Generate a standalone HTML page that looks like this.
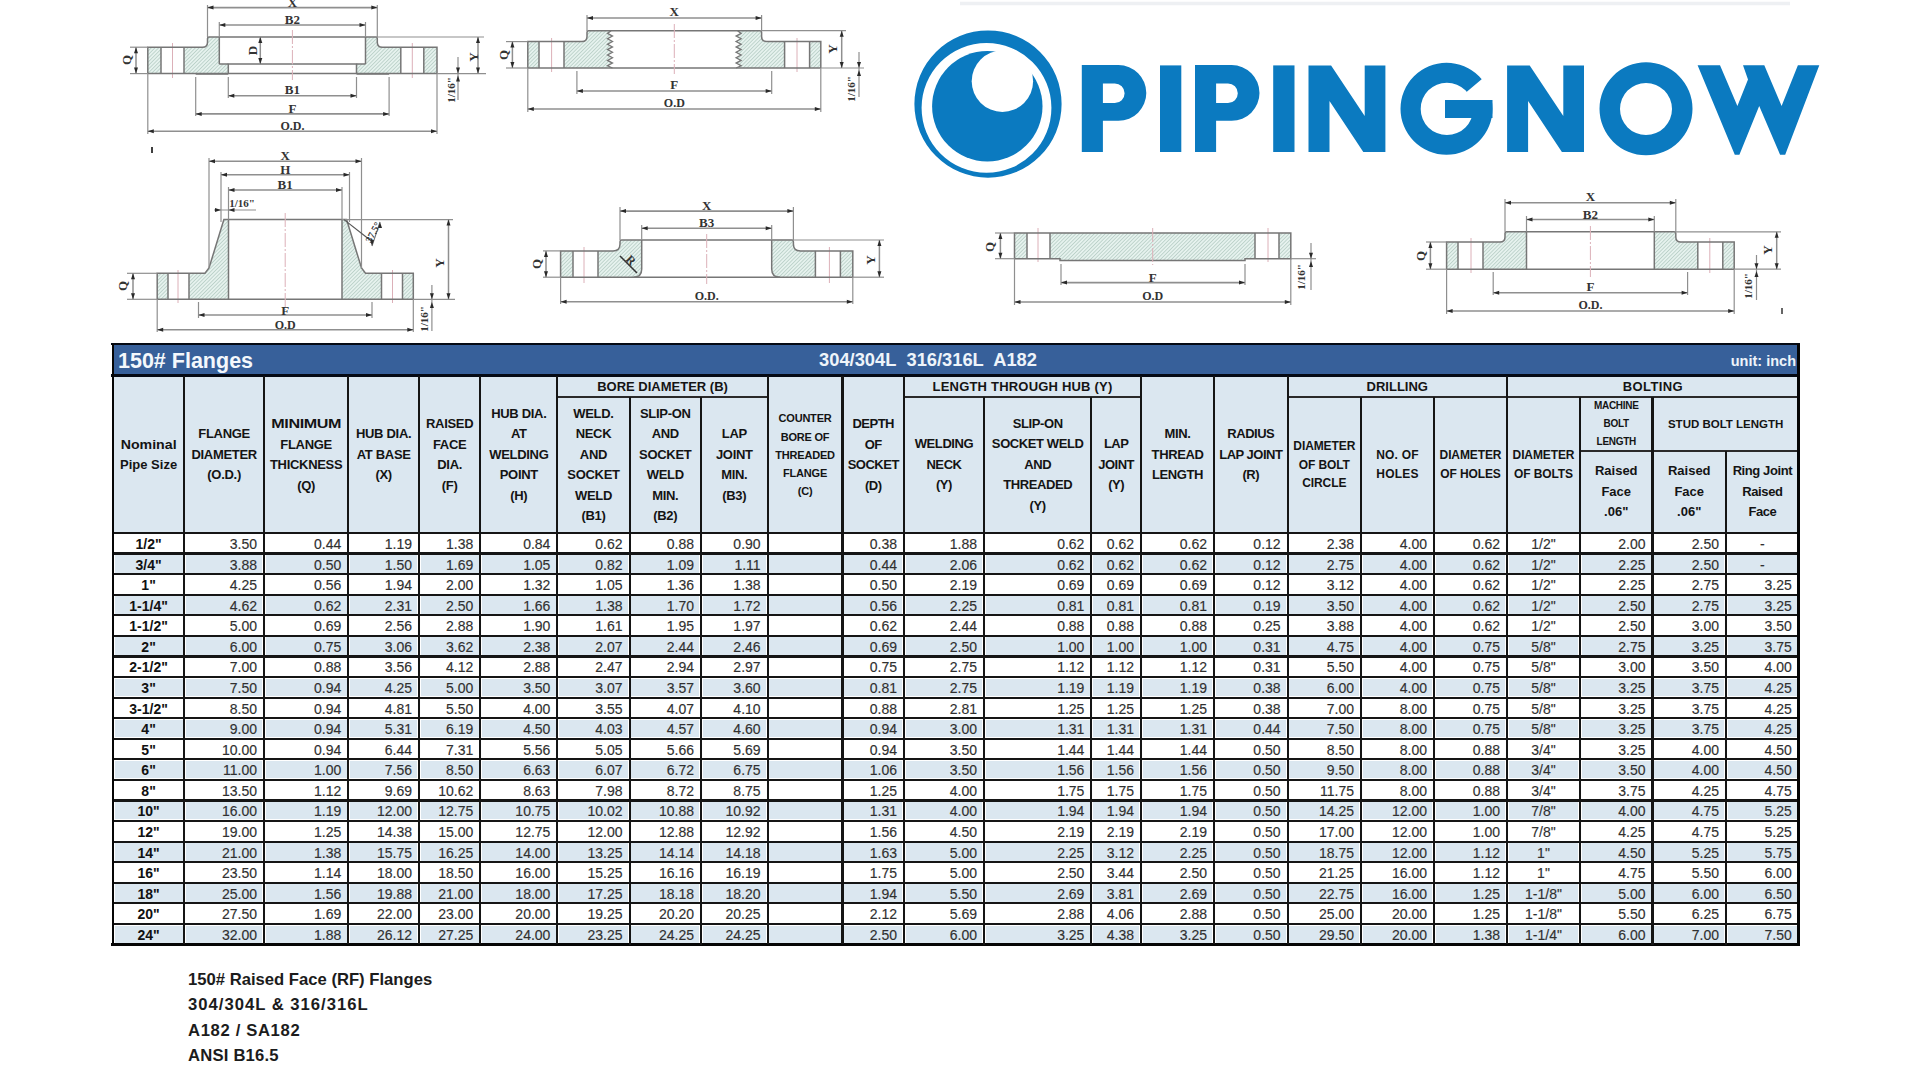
<!DOCTYPE html>
<html><head><meta charset="utf-8"><title>150# Flanges</title>
<style>
html,body{margin:0;padding:0;background:#ffffff;}
body{width:1920px;height:1080px;position:relative;overflow:hidden;font-family:'Liberation Sans', sans-serif;}
</style></head><body>
<div style="position:absolute;left:112.90px;top:343.80px;width:1685.90px;height:600.70px;background:#ffffff;"></div>
<div style="position:absolute;left:112.90px;top:343.80px;width:1685.90px;height:31.80px;background:#37609a;"></div>
<div style="position:absolute;left:113.90px;top:375.60px;width:1683.90px;height:157.40px;background:#dbe7f0;"></div>
<div style="position:absolute;left:114.50px;top:555.18px;width:68.20px;height:17.38px;background:#dbe7f0;"></div>
<div style="position:absolute;left:185.90px;top:555.18px;width:76.50px;height:17.38px;background:#dbe7f0;"></div>
<div style="position:absolute;left:265.60px;top:555.18px;width:81.10px;height:17.38px;background:#dbe7f0;"></div>
<div style="position:absolute;left:349.90px;top:555.18px;width:67.50px;height:17.38px;background:#dbe7f0;"></div>
<div style="position:absolute;left:420.60px;top:555.18px;width:58.10px;height:17.38px;background:#dbe7f0;"></div>
<div style="position:absolute;left:481.90px;top:555.18px;width:73.90px;height:17.38px;background:#dbe7f0;"></div>
<div style="position:absolute;left:559.00px;top:555.18px;width:69.00px;height:17.38px;background:#dbe7f0;"></div>
<div style="position:absolute;left:631.20px;top:555.18px;width:68.20px;height:17.38px;background:#dbe7f0;"></div>
<div style="position:absolute;left:702.60px;top:555.18px;width:63.40px;height:17.38px;background:#dbe7f0;"></div>
<div style="position:absolute;left:769.20px;top:555.18px;width:71.70px;height:17.38px;background:#dbe7f0;"></div>
<div style="position:absolute;left:844.10px;top:555.18px;width:58.30px;height:17.38px;background:#dbe7f0;"></div>
<div style="position:absolute;left:905.60px;top:555.18px;width:76.80px;height:17.38px;background:#dbe7f0;"></div>
<div style="position:absolute;left:985.60px;top:555.18px;width:104.20px;height:17.38px;background:#dbe7f0;"></div>
<div style="position:absolute;left:1093.00px;top:555.18px;width:46.40px;height:17.38px;background:#dbe7f0;"></div>
<div style="position:absolute;left:1142.60px;top:555.18px;width:69.80px;height:17.38px;background:#dbe7f0;"></div>
<div style="position:absolute;left:1215.60px;top:555.18px;width:70.40px;height:17.38px;background:#dbe7f0;"></div>
<div style="position:absolute;left:1289.20px;top:555.18px;width:70.20px;height:17.38px;background:#dbe7f0;"></div>
<div style="position:absolute;left:1362.60px;top:555.18px;width:69.80px;height:17.38px;background:#dbe7f0;"></div>
<div style="position:absolute;left:1435.60px;top:555.18px;width:69.80px;height:17.38px;background:#dbe7f0;"></div>
<div style="position:absolute;left:1508.60px;top:555.18px;width:69.80px;height:17.38px;background:#dbe7f0;"></div>
<div style="position:absolute;left:1581.60px;top:555.18px;width:69.30px;height:17.38px;background:#dbe7f0;"></div>
<div style="position:absolute;left:1654.10px;top:555.18px;width:70.30px;height:17.38px;background:#dbe7f0;"></div>
<div style="position:absolute;left:1727.60px;top:555.18px;width:69.60px;height:17.38px;background:#dbe7f0;"></div>
<div style="position:absolute;left:114.50px;top:596.33px;width:68.20px;height:17.38px;background:#dbe7f0;"></div>
<div style="position:absolute;left:185.90px;top:596.33px;width:76.50px;height:17.38px;background:#dbe7f0;"></div>
<div style="position:absolute;left:265.60px;top:596.33px;width:81.10px;height:17.38px;background:#dbe7f0;"></div>
<div style="position:absolute;left:349.90px;top:596.33px;width:67.50px;height:17.38px;background:#dbe7f0;"></div>
<div style="position:absolute;left:420.60px;top:596.33px;width:58.10px;height:17.38px;background:#dbe7f0;"></div>
<div style="position:absolute;left:481.90px;top:596.33px;width:73.90px;height:17.38px;background:#dbe7f0;"></div>
<div style="position:absolute;left:559.00px;top:596.33px;width:69.00px;height:17.38px;background:#dbe7f0;"></div>
<div style="position:absolute;left:631.20px;top:596.33px;width:68.20px;height:17.38px;background:#dbe7f0;"></div>
<div style="position:absolute;left:702.60px;top:596.33px;width:63.40px;height:17.38px;background:#dbe7f0;"></div>
<div style="position:absolute;left:769.20px;top:596.33px;width:71.70px;height:17.38px;background:#dbe7f0;"></div>
<div style="position:absolute;left:844.10px;top:596.33px;width:58.30px;height:17.38px;background:#dbe7f0;"></div>
<div style="position:absolute;left:905.60px;top:596.33px;width:76.80px;height:17.38px;background:#dbe7f0;"></div>
<div style="position:absolute;left:985.60px;top:596.33px;width:104.20px;height:17.38px;background:#dbe7f0;"></div>
<div style="position:absolute;left:1093.00px;top:596.33px;width:46.40px;height:17.38px;background:#dbe7f0;"></div>
<div style="position:absolute;left:1142.60px;top:596.33px;width:69.80px;height:17.38px;background:#dbe7f0;"></div>
<div style="position:absolute;left:1215.60px;top:596.33px;width:70.40px;height:17.38px;background:#dbe7f0;"></div>
<div style="position:absolute;left:1289.20px;top:596.33px;width:70.20px;height:17.38px;background:#dbe7f0;"></div>
<div style="position:absolute;left:1362.60px;top:596.33px;width:69.80px;height:17.38px;background:#dbe7f0;"></div>
<div style="position:absolute;left:1435.60px;top:596.33px;width:69.80px;height:17.38px;background:#dbe7f0;"></div>
<div style="position:absolute;left:1508.60px;top:596.33px;width:69.80px;height:17.38px;background:#dbe7f0;"></div>
<div style="position:absolute;left:1581.60px;top:596.33px;width:69.30px;height:17.38px;background:#dbe7f0;"></div>
<div style="position:absolute;left:1654.10px;top:596.33px;width:70.30px;height:17.38px;background:#dbe7f0;"></div>
<div style="position:absolute;left:1727.60px;top:596.33px;width:69.60px;height:17.38px;background:#dbe7f0;"></div>
<div style="position:absolute;left:114.50px;top:637.48px;width:68.20px;height:17.38px;background:#dbe7f0;"></div>
<div style="position:absolute;left:185.90px;top:637.48px;width:76.50px;height:17.38px;background:#dbe7f0;"></div>
<div style="position:absolute;left:265.60px;top:637.48px;width:81.10px;height:17.38px;background:#dbe7f0;"></div>
<div style="position:absolute;left:349.90px;top:637.48px;width:67.50px;height:17.38px;background:#dbe7f0;"></div>
<div style="position:absolute;left:420.60px;top:637.48px;width:58.10px;height:17.38px;background:#dbe7f0;"></div>
<div style="position:absolute;left:481.90px;top:637.48px;width:73.90px;height:17.38px;background:#dbe7f0;"></div>
<div style="position:absolute;left:559.00px;top:637.48px;width:69.00px;height:17.38px;background:#dbe7f0;"></div>
<div style="position:absolute;left:631.20px;top:637.48px;width:68.20px;height:17.38px;background:#dbe7f0;"></div>
<div style="position:absolute;left:702.60px;top:637.48px;width:63.40px;height:17.38px;background:#dbe7f0;"></div>
<div style="position:absolute;left:769.20px;top:637.48px;width:71.70px;height:17.38px;background:#dbe7f0;"></div>
<div style="position:absolute;left:844.10px;top:637.48px;width:58.30px;height:17.38px;background:#dbe7f0;"></div>
<div style="position:absolute;left:905.60px;top:637.48px;width:76.80px;height:17.38px;background:#dbe7f0;"></div>
<div style="position:absolute;left:985.60px;top:637.48px;width:104.20px;height:17.38px;background:#dbe7f0;"></div>
<div style="position:absolute;left:1093.00px;top:637.48px;width:46.40px;height:17.38px;background:#dbe7f0;"></div>
<div style="position:absolute;left:1142.60px;top:637.48px;width:69.80px;height:17.38px;background:#dbe7f0;"></div>
<div style="position:absolute;left:1215.60px;top:637.48px;width:70.40px;height:17.38px;background:#dbe7f0;"></div>
<div style="position:absolute;left:1289.20px;top:637.48px;width:70.20px;height:17.38px;background:#dbe7f0;"></div>
<div style="position:absolute;left:1362.60px;top:637.48px;width:69.80px;height:17.38px;background:#dbe7f0;"></div>
<div style="position:absolute;left:1435.60px;top:637.48px;width:69.80px;height:17.38px;background:#dbe7f0;"></div>
<div style="position:absolute;left:1508.60px;top:637.48px;width:69.80px;height:17.38px;background:#dbe7f0;"></div>
<div style="position:absolute;left:1581.60px;top:637.48px;width:69.30px;height:17.38px;background:#dbe7f0;"></div>
<div style="position:absolute;left:1654.10px;top:637.48px;width:70.30px;height:17.38px;background:#dbe7f0;"></div>
<div style="position:absolute;left:1727.60px;top:637.48px;width:69.60px;height:17.38px;background:#dbe7f0;"></div>
<div style="position:absolute;left:114.50px;top:678.62px;width:68.20px;height:17.38px;background:#dbe7f0;"></div>
<div style="position:absolute;left:185.90px;top:678.62px;width:76.50px;height:17.38px;background:#dbe7f0;"></div>
<div style="position:absolute;left:265.60px;top:678.62px;width:81.10px;height:17.38px;background:#dbe7f0;"></div>
<div style="position:absolute;left:349.90px;top:678.62px;width:67.50px;height:17.38px;background:#dbe7f0;"></div>
<div style="position:absolute;left:420.60px;top:678.62px;width:58.10px;height:17.38px;background:#dbe7f0;"></div>
<div style="position:absolute;left:481.90px;top:678.62px;width:73.90px;height:17.38px;background:#dbe7f0;"></div>
<div style="position:absolute;left:559.00px;top:678.62px;width:69.00px;height:17.38px;background:#dbe7f0;"></div>
<div style="position:absolute;left:631.20px;top:678.62px;width:68.20px;height:17.38px;background:#dbe7f0;"></div>
<div style="position:absolute;left:702.60px;top:678.62px;width:63.40px;height:17.38px;background:#dbe7f0;"></div>
<div style="position:absolute;left:769.20px;top:678.62px;width:71.70px;height:17.38px;background:#dbe7f0;"></div>
<div style="position:absolute;left:844.10px;top:678.62px;width:58.30px;height:17.38px;background:#dbe7f0;"></div>
<div style="position:absolute;left:905.60px;top:678.62px;width:76.80px;height:17.38px;background:#dbe7f0;"></div>
<div style="position:absolute;left:985.60px;top:678.62px;width:104.20px;height:17.38px;background:#dbe7f0;"></div>
<div style="position:absolute;left:1093.00px;top:678.62px;width:46.40px;height:17.38px;background:#dbe7f0;"></div>
<div style="position:absolute;left:1142.60px;top:678.62px;width:69.80px;height:17.38px;background:#dbe7f0;"></div>
<div style="position:absolute;left:1215.60px;top:678.62px;width:70.40px;height:17.38px;background:#dbe7f0;"></div>
<div style="position:absolute;left:1289.20px;top:678.62px;width:70.20px;height:17.38px;background:#dbe7f0;"></div>
<div style="position:absolute;left:1362.60px;top:678.62px;width:69.80px;height:17.38px;background:#dbe7f0;"></div>
<div style="position:absolute;left:1435.60px;top:678.62px;width:69.80px;height:17.38px;background:#dbe7f0;"></div>
<div style="position:absolute;left:1508.60px;top:678.62px;width:69.80px;height:17.38px;background:#dbe7f0;"></div>
<div style="position:absolute;left:1581.60px;top:678.62px;width:69.30px;height:17.38px;background:#dbe7f0;"></div>
<div style="position:absolute;left:1654.10px;top:678.62px;width:70.30px;height:17.38px;background:#dbe7f0;"></div>
<div style="position:absolute;left:1727.60px;top:678.62px;width:69.60px;height:17.38px;background:#dbe7f0;"></div>
<div style="position:absolute;left:114.50px;top:719.77px;width:68.20px;height:17.38px;background:#dbe7f0;"></div>
<div style="position:absolute;left:185.90px;top:719.77px;width:76.50px;height:17.38px;background:#dbe7f0;"></div>
<div style="position:absolute;left:265.60px;top:719.77px;width:81.10px;height:17.38px;background:#dbe7f0;"></div>
<div style="position:absolute;left:349.90px;top:719.77px;width:67.50px;height:17.38px;background:#dbe7f0;"></div>
<div style="position:absolute;left:420.60px;top:719.77px;width:58.10px;height:17.38px;background:#dbe7f0;"></div>
<div style="position:absolute;left:481.90px;top:719.77px;width:73.90px;height:17.38px;background:#dbe7f0;"></div>
<div style="position:absolute;left:559.00px;top:719.77px;width:69.00px;height:17.38px;background:#dbe7f0;"></div>
<div style="position:absolute;left:631.20px;top:719.77px;width:68.20px;height:17.38px;background:#dbe7f0;"></div>
<div style="position:absolute;left:702.60px;top:719.77px;width:63.40px;height:17.38px;background:#dbe7f0;"></div>
<div style="position:absolute;left:769.20px;top:719.77px;width:71.70px;height:17.38px;background:#dbe7f0;"></div>
<div style="position:absolute;left:844.10px;top:719.77px;width:58.30px;height:17.38px;background:#dbe7f0;"></div>
<div style="position:absolute;left:905.60px;top:719.77px;width:76.80px;height:17.38px;background:#dbe7f0;"></div>
<div style="position:absolute;left:985.60px;top:719.77px;width:104.20px;height:17.38px;background:#dbe7f0;"></div>
<div style="position:absolute;left:1093.00px;top:719.77px;width:46.40px;height:17.38px;background:#dbe7f0;"></div>
<div style="position:absolute;left:1142.60px;top:719.77px;width:69.80px;height:17.38px;background:#dbe7f0;"></div>
<div style="position:absolute;left:1215.60px;top:719.77px;width:70.40px;height:17.38px;background:#dbe7f0;"></div>
<div style="position:absolute;left:1289.20px;top:719.77px;width:70.20px;height:17.38px;background:#dbe7f0;"></div>
<div style="position:absolute;left:1362.60px;top:719.77px;width:69.80px;height:17.38px;background:#dbe7f0;"></div>
<div style="position:absolute;left:1435.60px;top:719.77px;width:69.80px;height:17.38px;background:#dbe7f0;"></div>
<div style="position:absolute;left:1508.60px;top:719.77px;width:69.80px;height:17.38px;background:#dbe7f0;"></div>
<div style="position:absolute;left:1581.60px;top:719.77px;width:69.30px;height:17.38px;background:#dbe7f0;"></div>
<div style="position:absolute;left:1654.10px;top:719.77px;width:70.30px;height:17.38px;background:#dbe7f0;"></div>
<div style="position:absolute;left:1727.60px;top:719.77px;width:69.60px;height:17.38px;background:#dbe7f0;"></div>
<div style="position:absolute;left:114.50px;top:760.93px;width:68.20px;height:17.38px;background:#dbe7f0;"></div>
<div style="position:absolute;left:185.90px;top:760.93px;width:76.50px;height:17.38px;background:#dbe7f0;"></div>
<div style="position:absolute;left:265.60px;top:760.93px;width:81.10px;height:17.38px;background:#dbe7f0;"></div>
<div style="position:absolute;left:349.90px;top:760.93px;width:67.50px;height:17.38px;background:#dbe7f0;"></div>
<div style="position:absolute;left:420.60px;top:760.93px;width:58.10px;height:17.38px;background:#dbe7f0;"></div>
<div style="position:absolute;left:481.90px;top:760.93px;width:73.90px;height:17.38px;background:#dbe7f0;"></div>
<div style="position:absolute;left:559.00px;top:760.93px;width:69.00px;height:17.38px;background:#dbe7f0;"></div>
<div style="position:absolute;left:631.20px;top:760.93px;width:68.20px;height:17.38px;background:#dbe7f0;"></div>
<div style="position:absolute;left:702.60px;top:760.93px;width:63.40px;height:17.38px;background:#dbe7f0;"></div>
<div style="position:absolute;left:769.20px;top:760.93px;width:71.70px;height:17.38px;background:#dbe7f0;"></div>
<div style="position:absolute;left:844.10px;top:760.93px;width:58.30px;height:17.38px;background:#dbe7f0;"></div>
<div style="position:absolute;left:905.60px;top:760.93px;width:76.80px;height:17.38px;background:#dbe7f0;"></div>
<div style="position:absolute;left:985.60px;top:760.93px;width:104.20px;height:17.38px;background:#dbe7f0;"></div>
<div style="position:absolute;left:1093.00px;top:760.93px;width:46.40px;height:17.38px;background:#dbe7f0;"></div>
<div style="position:absolute;left:1142.60px;top:760.93px;width:69.80px;height:17.38px;background:#dbe7f0;"></div>
<div style="position:absolute;left:1215.60px;top:760.93px;width:70.40px;height:17.38px;background:#dbe7f0;"></div>
<div style="position:absolute;left:1289.20px;top:760.93px;width:70.20px;height:17.38px;background:#dbe7f0;"></div>
<div style="position:absolute;left:1362.60px;top:760.93px;width:69.80px;height:17.38px;background:#dbe7f0;"></div>
<div style="position:absolute;left:1435.60px;top:760.93px;width:69.80px;height:17.38px;background:#dbe7f0;"></div>
<div style="position:absolute;left:1508.60px;top:760.93px;width:69.80px;height:17.38px;background:#dbe7f0;"></div>
<div style="position:absolute;left:1581.60px;top:760.93px;width:69.30px;height:17.38px;background:#dbe7f0;"></div>
<div style="position:absolute;left:1654.10px;top:760.93px;width:70.30px;height:17.38px;background:#dbe7f0;"></div>
<div style="position:absolute;left:1727.60px;top:760.93px;width:69.60px;height:17.38px;background:#dbe7f0;"></div>
<div style="position:absolute;left:114.50px;top:802.07px;width:68.20px;height:17.38px;background:#dbe7f0;"></div>
<div style="position:absolute;left:185.90px;top:802.07px;width:76.50px;height:17.38px;background:#dbe7f0;"></div>
<div style="position:absolute;left:265.60px;top:802.07px;width:81.10px;height:17.38px;background:#dbe7f0;"></div>
<div style="position:absolute;left:349.90px;top:802.07px;width:67.50px;height:17.38px;background:#dbe7f0;"></div>
<div style="position:absolute;left:420.60px;top:802.07px;width:58.10px;height:17.38px;background:#dbe7f0;"></div>
<div style="position:absolute;left:481.90px;top:802.07px;width:73.90px;height:17.38px;background:#dbe7f0;"></div>
<div style="position:absolute;left:559.00px;top:802.07px;width:69.00px;height:17.38px;background:#dbe7f0;"></div>
<div style="position:absolute;left:631.20px;top:802.07px;width:68.20px;height:17.38px;background:#dbe7f0;"></div>
<div style="position:absolute;left:702.60px;top:802.07px;width:63.40px;height:17.38px;background:#dbe7f0;"></div>
<div style="position:absolute;left:769.20px;top:802.07px;width:71.70px;height:17.38px;background:#dbe7f0;"></div>
<div style="position:absolute;left:844.10px;top:802.07px;width:58.30px;height:17.38px;background:#dbe7f0;"></div>
<div style="position:absolute;left:905.60px;top:802.07px;width:76.80px;height:17.38px;background:#dbe7f0;"></div>
<div style="position:absolute;left:985.60px;top:802.07px;width:104.20px;height:17.38px;background:#dbe7f0;"></div>
<div style="position:absolute;left:1093.00px;top:802.07px;width:46.40px;height:17.38px;background:#dbe7f0;"></div>
<div style="position:absolute;left:1142.60px;top:802.07px;width:69.80px;height:17.38px;background:#dbe7f0;"></div>
<div style="position:absolute;left:1215.60px;top:802.07px;width:70.40px;height:17.38px;background:#dbe7f0;"></div>
<div style="position:absolute;left:1289.20px;top:802.07px;width:70.20px;height:17.38px;background:#dbe7f0;"></div>
<div style="position:absolute;left:1362.60px;top:802.07px;width:69.80px;height:17.38px;background:#dbe7f0;"></div>
<div style="position:absolute;left:1435.60px;top:802.07px;width:69.80px;height:17.38px;background:#dbe7f0;"></div>
<div style="position:absolute;left:1508.60px;top:802.07px;width:69.80px;height:17.38px;background:#dbe7f0;"></div>
<div style="position:absolute;left:1581.60px;top:802.07px;width:69.30px;height:17.38px;background:#dbe7f0;"></div>
<div style="position:absolute;left:1654.10px;top:802.07px;width:70.30px;height:17.38px;background:#dbe7f0;"></div>
<div style="position:absolute;left:1727.60px;top:802.07px;width:69.60px;height:17.38px;background:#dbe7f0;"></div>
<div style="position:absolute;left:114.50px;top:843.23px;width:68.20px;height:17.38px;background:#dbe7f0;"></div>
<div style="position:absolute;left:185.90px;top:843.23px;width:76.50px;height:17.38px;background:#dbe7f0;"></div>
<div style="position:absolute;left:265.60px;top:843.23px;width:81.10px;height:17.38px;background:#dbe7f0;"></div>
<div style="position:absolute;left:349.90px;top:843.23px;width:67.50px;height:17.38px;background:#dbe7f0;"></div>
<div style="position:absolute;left:420.60px;top:843.23px;width:58.10px;height:17.38px;background:#dbe7f0;"></div>
<div style="position:absolute;left:481.90px;top:843.23px;width:73.90px;height:17.38px;background:#dbe7f0;"></div>
<div style="position:absolute;left:559.00px;top:843.23px;width:69.00px;height:17.38px;background:#dbe7f0;"></div>
<div style="position:absolute;left:631.20px;top:843.23px;width:68.20px;height:17.38px;background:#dbe7f0;"></div>
<div style="position:absolute;left:702.60px;top:843.23px;width:63.40px;height:17.38px;background:#dbe7f0;"></div>
<div style="position:absolute;left:769.20px;top:843.23px;width:71.70px;height:17.38px;background:#dbe7f0;"></div>
<div style="position:absolute;left:844.10px;top:843.23px;width:58.30px;height:17.38px;background:#dbe7f0;"></div>
<div style="position:absolute;left:905.60px;top:843.23px;width:76.80px;height:17.38px;background:#dbe7f0;"></div>
<div style="position:absolute;left:985.60px;top:843.23px;width:104.20px;height:17.38px;background:#dbe7f0;"></div>
<div style="position:absolute;left:1093.00px;top:843.23px;width:46.40px;height:17.38px;background:#dbe7f0;"></div>
<div style="position:absolute;left:1142.60px;top:843.23px;width:69.80px;height:17.38px;background:#dbe7f0;"></div>
<div style="position:absolute;left:1215.60px;top:843.23px;width:70.40px;height:17.38px;background:#dbe7f0;"></div>
<div style="position:absolute;left:1289.20px;top:843.23px;width:70.20px;height:17.38px;background:#dbe7f0;"></div>
<div style="position:absolute;left:1362.60px;top:843.23px;width:69.80px;height:17.38px;background:#dbe7f0;"></div>
<div style="position:absolute;left:1435.60px;top:843.23px;width:69.80px;height:17.38px;background:#dbe7f0;"></div>
<div style="position:absolute;left:1508.60px;top:843.23px;width:69.80px;height:17.38px;background:#dbe7f0;"></div>
<div style="position:absolute;left:1581.60px;top:843.23px;width:69.30px;height:17.38px;background:#dbe7f0;"></div>
<div style="position:absolute;left:1654.10px;top:843.23px;width:70.30px;height:17.38px;background:#dbe7f0;"></div>
<div style="position:absolute;left:1727.60px;top:843.23px;width:69.60px;height:17.38px;background:#dbe7f0;"></div>
<div style="position:absolute;left:114.50px;top:884.38px;width:68.20px;height:17.38px;background:#dbe7f0;"></div>
<div style="position:absolute;left:185.90px;top:884.38px;width:76.50px;height:17.38px;background:#dbe7f0;"></div>
<div style="position:absolute;left:265.60px;top:884.38px;width:81.10px;height:17.38px;background:#dbe7f0;"></div>
<div style="position:absolute;left:349.90px;top:884.38px;width:67.50px;height:17.38px;background:#dbe7f0;"></div>
<div style="position:absolute;left:420.60px;top:884.38px;width:58.10px;height:17.38px;background:#dbe7f0;"></div>
<div style="position:absolute;left:481.90px;top:884.38px;width:73.90px;height:17.38px;background:#dbe7f0;"></div>
<div style="position:absolute;left:559.00px;top:884.38px;width:69.00px;height:17.38px;background:#dbe7f0;"></div>
<div style="position:absolute;left:631.20px;top:884.38px;width:68.20px;height:17.38px;background:#dbe7f0;"></div>
<div style="position:absolute;left:702.60px;top:884.38px;width:63.40px;height:17.38px;background:#dbe7f0;"></div>
<div style="position:absolute;left:769.20px;top:884.38px;width:71.70px;height:17.38px;background:#dbe7f0;"></div>
<div style="position:absolute;left:844.10px;top:884.38px;width:58.30px;height:17.38px;background:#dbe7f0;"></div>
<div style="position:absolute;left:905.60px;top:884.38px;width:76.80px;height:17.38px;background:#dbe7f0;"></div>
<div style="position:absolute;left:985.60px;top:884.38px;width:104.20px;height:17.38px;background:#dbe7f0;"></div>
<div style="position:absolute;left:1093.00px;top:884.38px;width:46.40px;height:17.38px;background:#dbe7f0;"></div>
<div style="position:absolute;left:1142.60px;top:884.38px;width:69.80px;height:17.38px;background:#dbe7f0;"></div>
<div style="position:absolute;left:1215.60px;top:884.38px;width:70.40px;height:17.38px;background:#dbe7f0;"></div>
<div style="position:absolute;left:1289.20px;top:884.38px;width:70.20px;height:17.38px;background:#dbe7f0;"></div>
<div style="position:absolute;left:1362.60px;top:884.38px;width:69.80px;height:17.38px;background:#dbe7f0;"></div>
<div style="position:absolute;left:1435.60px;top:884.38px;width:69.80px;height:17.38px;background:#dbe7f0;"></div>
<div style="position:absolute;left:1508.60px;top:884.38px;width:69.80px;height:17.38px;background:#dbe7f0;"></div>
<div style="position:absolute;left:1581.60px;top:884.38px;width:69.30px;height:17.38px;background:#dbe7f0;"></div>
<div style="position:absolute;left:1654.10px;top:884.38px;width:70.30px;height:17.38px;background:#dbe7f0;"></div>
<div style="position:absolute;left:1727.60px;top:884.38px;width:69.60px;height:17.38px;background:#dbe7f0;"></div>
<div style="position:absolute;left:114.50px;top:925.52px;width:68.20px;height:17.38px;background:#dbe7f0;"></div>
<div style="position:absolute;left:185.90px;top:925.52px;width:76.50px;height:17.38px;background:#dbe7f0;"></div>
<div style="position:absolute;left:265.60px;top:925.52px;width:81.10px;height:17.38px;background:#dbe7f0;"></div>
<div style="position:absolute;left:349.90px;top:925.52px;width:67.50px;height:17.38px;background:#dbe7f0;"></div>
<div style="position:absolute;left:420.60px;top:925.52px;width:58.10px;height:17.38px;background:#dbe7f0;"></div>
<div style="position:absolute;left:481.90px;top:925.52px;width:73.90px;height:17.38px;background:#dbe7f0;"></div>
<div style="position:absolute;left:559.00px;top:925.52px;width:69.00px;height:17.38px;background:#dbe7f0;"></div>
<div style="position:absolute;left:631.20px;top:925.52px;width:68.20px;height:17.38px;background:#dbe7f0;"></div>
<div style="position:absolute;left:702.60px;top:925.52px;width:63.40px;height:17.38px;background:#dbe7f0;"></div>
<div style="position:absolute;left:769.20px;top:925.52px;width:71.70px;height:17.38px;background:#dbe7f0;"></div>
<div style="position:absolute;left:844.10px;top:925.52px;width:58.30px;height:17.38px;background:#dbe7f0;"></div>
<div style="position:absolute;left:905.60px;top:925.52px;width:76.80px;height:17.38px;background:#dbe7f0;"></div>
<div style="position:absolute;left:985.60px;top:925.52px;width:104.20px;height:17.38px;background:#dbe7f0;"></div>
<div style="position:absolute;left:1093.00px;top:925.52px;width:46.40px;height:17.38px;background:#dbe7f0;"></div>
<div style="position:absolute;left:1142.60px;top:925.52px;width:69.80px;height:17.38px;background:#dbe7f0;"></div>
<div style="position:absolute;left:1215.60px;top:925.52px;width:70.40px;height:17.38px;background:#dbe7f0;"></div>
<div style="position:absolute;left:1289.20px;top:925.52px;width:70.20px;height:17.38px;background:#dbe7f0;"></div>
<div style="position:absolute;left:1362.60px;top:925.52px;width:69.80px;height:17.38px;background:#dbe7f0;"></div>
<div style="position:absolute;left:1435.60px;top:925.52px;width:69.80px;height:17.38px;background:#dbe7f0;"></div>
<div style="position:absolute;left:1508.60px;top:925.52px;width:69.80px;height:17.38px;background:#dbe7f0;"></div>
<div style="position:absolute;left:1581.60px;top:925.52px;width:69.30px;height:17.38px;background:#dbe7f0;"></div>
<div style="position:absolute;left:1654.10px;top:925.52px;width:70.30px;height:17.38px;background:#dbe7f0;"></div>
<div style="position:absolute;left:1727.60px;top:925.52px;width:69.60px;height:17.38px;background:#dbe7f0;"></div>
<div style="position:absolute;left:111.40px;top:342.50px;width:1688.90px;height:2.60px;background:#050a14;"></div>
<div style="position:absolute;left:111.40px;top:374.20px;width:1688.90px;height:2.80px;background:#050a14;"></div>
<div style="position:absolute;left:112.90px;top:531.90px;width:1685.90px;height:2.20px;background:#151515;"></div>
<div style="position:absolute;left:112.90px;top:552.48px;width:1685.90px;height:2.20px;background:#151515;"></div>
<div style="position:absolute;left:112.90px;top:573.05px;width:1685.90px;height:2.20px;background:#151515;"></div>
<div style="position:absolute;left:112.90px;top:593.62px;width:1685.90px;height:2.20px;background:#151515;"></div>
<div style="position:absolute;left:112.90px;top:614.20px;width:1685.90px;height:2.20px;background:#151515;"></div>
<div style="position:absolute;left:112.90px;top:634.77px;width:1685.90px;height:2.20px;background:#151515;"></div>
<div style="position:absolute;left:112.90px;top:655.35px;width:1685.90px;height:2.20px;background:#151515;"></div>
<div style="position:absolute;left:112.90px;top:675.92px;width:1685.90px;height:2.20px;background:#151515;"></div>
<div style="position:absolute;left:112.90px;top:696.50px;width:1685.90px;height:2.20px;background:#151515;"></div>
<div style="position:absolute;left:112.90px;top:717.07px;width:1685.90px;height:2.20px;background:#151515;"></div>
<div style="position:absolute;left:112.90px;top:737.65px;width:1685.90px;height:2.20px;background:#151515;"></div>
<div style="position:absolute;left:112.90px;top:758.23px;width:1685.90px;height:2.20px;background:#151515;"></div>
<div style="position:absolute;left:112.90px;top:778.80px;width:1685.90px;height:2.20px;background:#151515;"></div>
<div style="position:absolute;left:112.90px;top:799.37px;width:1685.90px;height:2.20px;background:#151515;"></div>
<div style="position:absolute;left:112.90px;top:819.95px;width:1685.90px;height:2.20px;background:#151515;"></div>
<div style="position:absolute;left:112.90px;top:840.52px;width:1685.90px;height:2.20px;background:#151515;"></div>
<div style="position:absolute;left:112.90px;top:861.10px;width:1685.90px;height:2.20px;background:#151515;"></div>
<div style="position:absolute;left:112.90px;top:881.67px;width:1685.90px;height:2.20px;background:#151515;"></div>
<div style="position:absolute;left:112.90px;top:902.25px;width:1685.90px;height:2.20px;background:#151515;"></div>
<div style="position:absolute;left:112.90px;top:922.82px;width:1685.90px;height:2.20px;background:#151515;"></div>
<div style="position:absolute;left:111.40px;top:942.60px;width:1688.90px;height:3.80px;background:#050505;"></div>
<div style="position:absolute;left:557.40px;top:395.90px;width:210.20px;height:2.20px;background:#2a2a2a;"></div>
<div style="position:absolute;left:904.00px;top:395.90px;width:237.00px;height:2.20px;background:#2a2a2a;"></div>
<div style="position:absolute;left:1287.60px;top:395.90px;width:219.40px;height:2.20px;background:#2a2a2a;"></div>
<div style="position:absolute;left:1507.00px;top:395.90px;width:291.80px;height:2.20px;background:#2a2a2a;"></div>
<div style="position:absolute;left:1580.00px;top:449.90px;width:218.80px;height:2.20px;background:#2a2a2a;"></div>
<div style="position:absolute;left:111.50px;top:343.80px;width:2.80px;height:602.20px;background:#050505;"></div>
<div style="position:absolute;left:183.20px;top:375.60px;width:2.20px;height:568.90px;background:#151515;"></div>
<div style="position:absolute;left:262.90px;top:375.60px;width:2.20px;height:568.90px;background:#151515;"></div>
<div style="position:absolute;left:347.20px;top:375.60px;width:2.20px;height:568.90px;background:#151515;"></div>
<div style="position:absolute;left:417.90px;top:375.60px;width:2.20px;height:568.90px;background:#151515;"></div>
<div style="position:absolute;left:479.20px;top:375.60px;width:2.20px;height:568.90px;background:#151515;"></div>
<div style="position:absolute;left:556.30px;top:375.60px;width:2.20px;height:568.90px;background:#151515;"></div>
<div style="position:absolute;left:628.50px;top:397.00px;width:2.20px;height:547.50px;background:#151515;"></div>
<div style="position:absolute;left:699.90px;top:397.00px;width:2.20px;height:547.50px;background:#151515;"></div>
<div style="position:absolute;left:766.50px;top:375.60px;width:2.20px;height:568.90px;background:#151515;"></div>
<div style="position:absolute;left:841.40px;top:375.60px;width:2.20px;height:568.90px;background:#151515;"></div>
<div style="position:absolute;left:902.90px;top:375.60px;width:2.20px;height:568.90px;background:#151515;"></div>
<div style="position:absolute;left:982.90px;top:397.00px;width:2.20px;height:547.50px;background:#151515;"></div>
<div style="position:absolute;left:1090.30px;top:397.00px;width:2.20px;height:547.50px;background:#151515;"></div>
<div style="position:absolute;left:1139.90px;top:375.60px;width:2.20px;height:568.90px;background:#151515;"></div>
<div style="position:absolute;left:1212.90px;top:375.60px;width:2.20px;height:568.90px;background:#151515;"></div>
<div style="position:absolute;left:1286.50px;top:375.60px;width:2.20px;height:568.90px;background:#151515;"></div>
<div style="position:absolute;left:1359.90px;top:397.00px;width:2.20px;height:547.50px;background:#151515;"></div>
<div style="position:absolute;left:1432.90px;top:397.00px;width:2.20px;height:547.50px;background:#151515;"></div>
<div style="position:absolute;left:1505.90px;top:375.60px;width:2.20px;height:568.90px;background:#151515;"></div>
<div style="position:absolute;left:1578.90px;top:397.00px;width:2.20px;height:547.50px;background:#151515;"></div>
<div style="position:absolute;left:1651.40px;top:397.00px;width:2.20px;height:547.50px;background:#151515;"></div>
<div style="position:absolute;left:1724.90px;top:451.00px;width:2.20px;height:493.50px;background:#151515;"></div>
<div style="position:absolute;left:1797.40px;top:343.80px;width:2.80px;height:602.20px;background:#050505;"></div>
<div style="position:absolute;left:112.90px;top:377.00px;width:71.40px;height:156.00px;display:flex;align-items:center;justify-content:center;text-align:center;font:bold 13px/20.5px 'Liberation Sans', sans-serif;color:#141414;white-space:nowrap;"><div><span style="display:inline-block;transform:scaleX(1.09)">Nominal</span><br>Pipe Size</div></div>
<div style="position:absolute;left:184.30px;top:377.00px;width:79.70px;height:156.00px;display:flex;align-items:center;justify-content:center;text-align:center;font:bold 13px/20.5px 'Liberation Sans', sans-serif;color:#141414;white-space:nowrap;letter-spacing:-0.3px"><div>FLANGE<br>DIAMETER<br>(O.D.)</div></div>
<div style="position:absolute;left:264.00px;top:377.00px;width:84.30px;height:156.00px;display:flex;align-items:center;justify-content:center;text-align:center;font:bold 13px/20.5px 'Liberation Sans', sans-serif;color:#141414;white-space:nowrap;letter-spacing:-0.3px"><div><span style="display:inline-block;transform:scaleX(1.24)">MINIMUM</span><br>FLANGE<br>THICKNESS<br>(Q)</div></div>
<div style="position:absolute;left:348.30px;top:377.00px;width:70.70px;height:156.00px;display:flex;align-items:center;justify-content:center;text-align:center;font:bold 13px/20.5px 'Liberation Sans', sans-serif;color:#141414;white-space:nowrap;letter-spacing:-0.3px"><div>HUB DIA.<br>AT BASE<br>(X)</div></div>
<div style="position:absolute;left:419.00px;top:377.00px;width:61.30px;height:156.00px;display:flex;align-items:center;justify-content:center;text-align:center;font:bold 13px/20.5px 'Liberation Sans', sans-serif;color:#141414;white-space:nowrap;letter-spacing:-0.3px"><div>RAISED<br>FACE<br>DIA.<br>(F)</div></div>
<div style="position:absolute;left:480.30px;top:377.00px;width:77.10px;height:156.00px;display:flex;align-items:center;justify-content:center;text-align:center;font:bold 13px/20.5px 'Liberation Sans', sans-serif;color:#141414;white-space:nowrap;letter-spacing:-0.3px"><div>HUB DIA.<br>AT<br>WELDING<br>POINT<br>(H)</div></div>
<div style="position:absolute;left:557.40px;top:377.00px;width:210.20px;height:20.00px;display:flex;align-items:center;justify-content:center;text-align:center;font:bold 13px/20.5px 'Liberation Sans', sans-serif;color:#141414;white-space:nowrap;"><div>BORE DIAMETER (B)</div></div>
<div style="position:absolute;left:557.40px;top:397.00px;width:72.20px;height:136.00px;display:flex;align-items:center;justify-content:center;text-align:center;font:bold 13px/20.5px 'Liberation Sans', sans-serif;color:#141414;white-space:nowrap;letter-spacing:-0.3px"><div>WELD.<br>NECK<br>AND<br>SOCKET<br>WELD<br>(B1)</div></div>
<div style="position:absolute;left:629.60px;top:397.00px;width:71.40px;height:136.00px;display:flex;align-items:center;justify-content:center;text-align:center;font:bold 13px/20.5px 'Liberation Sans', sans-serif;color:#141414;white-space:nowrap;letter-spacing:-0.3px"><div>SLIP-ON<br>AND<br>SOCKET<br>WELD<br>MIN.<br>(B2)</div></div>
<div style="position:absolute;left:701.00px;top:397.00px;width:66.60px;height:136.00px;display:flex;align-items:center;justify-content:center;text-align:center;font:bold 13px/20.5px 'Liberation Sans', sans-serif;color:#141414;white-space:nowrap;letter-spacing:-0.3px"><div>LAP<br>JOINT<br>MIN.<br>(B3)</div></div>
<div style="position:absolute;left:767.60px;top:377.00px;width:74.90px;height:156.00px;display:flex;align-items:center;justify-content:center;text-align:center;font:bold 11px/18.3px 'Liberation Sans', sans-serif;color:#141414;white-space:nowrap;letter-spacing:-0.2px"><div>COUNTER<br>BORE OF<br>THREADED<br>FLANGE<br>(C)</div></div>
<div style="position:absolute;left:842.50px;top:377.00px;width:61.50px;height:156.00px;display:flex;align-items:center;justify-content:center;text-align:center;font:bold 13px/20.5px 'Liberation Sans', sans-serif;color:#141414;white-space:nowrap;letter-spacing:-0.5px"><div>DEPTH<br>OF<br>SOCKET<br>(D)</div></div>
<div style="position:absolute;left:904.00px;top:377.00px;width:237.00px;height:20.00px;display:flex;align-items:center;justify-content:center;text-align:center;font:bold 13px/20.5px 'Liberation Sans', sans-serif;color:#141414;white-space:nowrap;letter-spacing:0.2px"><div>LENGTH THROUGH HUB (Y)</div></div>
<div style="position:absolute;left:904.00px;top:397.00px;width:80.00px;height:136.00px;display:flex;align-items:center;justify-content:center;text-align:center;font:bold 13px/20.5px 'Liberation Sans', sans-serif;color:#141414;white-space:nowrap;letter-spacing:-0.4px"><div>WELDING<br>NECK<br>(Y)</div></div>
<div style="position:absolute;left:984.00px;top:397.00px;width:107.40px;height:136.00px;display:flex;align-items:center;justify-content:center;text-align:center;font:bold 13px/20.5px 'Liberation Sans', sans-serif;color:#141414;white-space:nowrap;letter-spacing:-0.4px"><div>SLIP-ON<br>SOCKET WELD<br>AND<br>THREADED<br>(Y)</div></div>
<div style="position:absolute;left:1091.40px;top:397.00px;width:49.60px;height:136.00px;display:flex;align-items:center;justify-content:center;text-align:center;font:bold 13px/20.5px 'Liberation Sans', sans-serif;color:#141414;white-space:nowrap;letter-spacing:-0.5px"><div>LAP<br>JOINT<br>(Y)</div></div>
<div style="position:absolute;left:1141.00px;top:377.00px;width:73.00px;height:156.00px;display:flex;align-items:center;justify-content:center;text-align:center;font:bold 13px/20.5px 'Liberation Sans', sans-serif;color:#141414;white-space:nowrap;letter-spacing:-0.4px"><div>MIN.<br>THREAD<br>LENGTH</div></div>
<div style="position:absolute;left:1214.00px;top:377.00px;width:73.60px;height:156.00px;display:flex;align-items:center;justify-content:center;text-align:center;font:bold 13px/20.5px 'Liberation Sans', sans-serif;color:#141414;white-space:nowrap;letter-spacing:-0.5px"><div>RADIUS<br>LAP JOINT<br>(R)</div></div>
<div style="position:absolute;left:1287.60px;top:377.00px;width:219.40px;height:20.00px;display:flex;align-items:center;justify-content:center;text-align:center;font:bold 13px/20.5px 'Liberation Sans', sans-serif;color:#141414;white-space:nowrap;"><div>DRILLING</div></div>
<div style="position:absolute;left:1287.60px;top:397.00px;width:73.40px;height:136.00px;display:flex;align-items:center;justify-content:center;text-align:center;font:bold 12px/18.7px 'Liberation Sans', sans-serif;color:#141414;white-space:nowrap;letter-spacing:-0.1px"><div>DIAMETER<br>OF BOLT<br>CIRCLE</div></div>
<div style="position:absolute;left:1361.00px;top:397.00px;width:73.00px;height:136.00px;display:flex;align-items:center;justify-content:center;text-align:center;font:bold 12px/18.8px 'Liberation Sans', sans-serif;color:#141414;white-space:nowrap;letter-spacing:0.2px"><div>NO. OF<br>HOLES</div></div>
<div style="position:absolute;left:1434.00px;top:397.00px;width:73.00px;height:136.00px;display:flex;align-items:center;justify-content:center;text-align:center;font:bold 12px/18.8px 'Liberation Sans', sans-serif;color:#141414;white-space:nowrap;letter-spacing:-0.1px"><div>DIAMETER<br>OF HOLES</div></div>
<div style="position:absolute;left:1507.00px;top:377.00px;width:291.80px;height:20.00px;display:flex;align-items:center;justify-content:center;text-align:center;font:bold 13px/20.5px 'Liberation Sans', sans-serif;color:#141414;white-space:nowrap;letter-spacing:0.4px"><div>BOLTING</div></div>
<div style="position:absolute;left:1507.00px;top:397.00px;width:73.00px;height:136.00px;display:flex;align-items:center;justify-content:center;text-align:center;font:bold 12px/18.8px 'Liberation Sans', sans-serif;color:#141414;white-space:nowrap;letter-spacing:-0.1px"><div>DIAMETER<br>OF BOLTS</div></div>
<div style="position:absolute;left:1580.00px;top:397.00px;width:72.50px;height:54.00px;display:flex;align-items:center;justify-content:center;text-align:center;font:bold 10px/18.3px 'Liberation Sans', sans-serif;color:#141414;white-space:nowrap;letter-spacing:-0.3px"><div>MACHINE<br>BOLT<br>LENGTH</div></div>
<div style="position:absolute;left:1652.50px;top:397.00px;width:146.30px;height:54.00px;display:flex;align-items:center;justify-content:center;text-align:center;font:bold 11.5px/18px 'Liberation Sans', sans-serif;color:#141414;white-space:nowrap;letter-spacing:0px"><div>STUD BOLT LENGTH</div></div>
<div style="position:absolute;left:1580.00px;top:451.00px;width:72.50px;height:82.00px;display:flex;align-items:center;justify-content:center;text-align:center;font:bold 13px/20.5px 'Liberation Sans', sans-serif;color:#141414;white-space:nowrap;"><div>Raised<br>Face<br>.06"</div></div>
<div style="position:absolute;left:1652.50px;top:451.00px;width:73.50px;height:82.00px;display:flex;align-items:center;justify-content:center;text-align:center;font:bold 13px/20.5px 'Liberation Sans', sans-serif;color:#141414;white-space:nowrap;"><div>Raised<br>Face<br>.06"</div></div>
<div style="position:absolute;left:1726.00px;top:451.00px;width:72.80px;height:82.00px;display:flex;align-items:center;justify-content:center;text-align:center;font:bold 13px/20.5px 'Liberation Sans', sans-serif;color:#141414;white-space:nowrap;letter-spacing:-0.4px"><div>Ring Joint<br>Raised<br>Face</div></div>
<div style="position:absolute;left:118px;top:345.8px;height:30px;font:bold 21.5px/30px 'Liberation Sans', sans-serif;color:#f4f8fc;white-space:nowrap">150# Flanges</div>
<div style="position:absolute;left:808px;top:346.3px;width:240px;height:28px;font:bold 18.3px/28px 'Liberation Sans', sans-serif;color:#eef4fa;white-space:nowrap;text-align:center">304/304L&nbsp; 316/316L&nbsp; A182</div>
<div style="position:absolute;left:1690px;top:348.8px;width:106px;height:24px;font:bold 14.5px/24px 'Liberation Sans', sans-serif;color:#eef4fa;white-space:nowrap;text-align:right">unit: inch</div>
<div style="position:absolute;left:112.90px;top:534.00px;width:71.40px;height:20.57px;font:bold 14px/20.57px 'Liberation Sans', sans-serif;color:#111;text-align:center;white-space:nowrap">1/2"</div>
<div style="position:absolute;left:184.30px;top:534.00px;width:72.70px;height:20.57px;font:14px/20.57px 'Liberation Sans', sans-serif;color:#303030;text-align:right;white-space:nowrap;-webkit-text-stroke:0.15px #333">3.50</div>
<div style="position:absolute;left:264.00px;top:534.00px;width:77.30px;height:20.57px;font:14px/20.57px 'Liberation Sans', sans-serif;color:#303030;text-align:right;white-space:nowrap;-webkit-text-stroke:0.15px #333">0.44</div>
<div style="position:absolute;left:348.30px;top:534.00px;width:63.70px;height:20.57px;font:14px/20.57px 'Liberation Sans', sans-serif;color:#303030;text-align:right;white-space:nowrap;-webkit-text-stroke:0.15px #333">1.19</div>
<div style="position:absolute;left:419.00px;top:534.00px;width:54.30px;height:20.57px;font:14px/20.57px 'Liberation Sans', sans-serif;color:#303030;text-align:right;white-space:nowrap;-webkit-text-stroke:0.15px #333">1.38</div>
<div style="position:absolute;left:480.30px;top:534.00px;width:70.10px;height:20.57px;font:14px/20.57px 'Liberation Sans', sans-serif;color:#303030;text-align:right;white-space:nowrap;-webkit-text-stroke:0.15px #333">0.84</div>
<div style="position:absolute;left:557.40px;top:534.00px;width:65.20px;height:20.57px;font:14px/20.57px 'Liberation Sans', sans-serif;color:#303030;text-align:right;white-space:nowrap;-webkit-text-stroke:0.15px #333">0.62</div>
<div style="position:absolute;left:629.60px;top:534.00px;width:64.40px;height:20.57px;font:14px/20.57px 'Liberation Sans', sans-serif;color:#303030;text-align:right;white-space:nowrap;-webkit-text-stroke:0.15px #333">0.88</div>
<div style="position:absolute;left:701.00px;top:534.00px;width:59.60px;height:20.57px;font:14px/20.57px 'Liberation Sans', sans-serif;color:#303030;text-align:right;white-space:nowrap;-webkit-text-stroke:0.15px #333">0.90</div>
<div style="position:absolute;left:842.50px;top:534.00px;width:54.50px;height:20.57px;font:14px/20.57px 'Liberation Sans', sans-serif;color:#303030;text-align:right;white-space:nowrap;-webkit-text-stroke:0.15px #333">0.38</div>
<div style="position:absolute;left:904.00px;top:534.00px;width:73.00px;height:20.57px;font:14px/20.57px 'Liberation Sans', sans-serif;color:#303030;text-align:right;white-space:nowrap;-webkit-text-stroke:0.15px #333">1.88</div>
<div style="position:absolute;left:984.00px;top:534.00px;width:100.40px;height:20.57px;font:14px/20.57px 'Liberation Sans', sans-serif;color:#303030;text-align:right;white-space:nowrap;-webkit-text-stroke:0.15px #333">0.62</div>
<div style="position:absolute;left:1091.40px;top:534.00px;width:42.60px;height:20.57px;font:14px/20.57px 'Liberation Sans', sans-serif;color:#303030;text-align:right;white-space:nowrap;-webkit-text-stroke:0.15px #333">0.62</div>
<div style="position:absolute;left:1141.00px;top:534.00px;width:66.00px;height:20.57px;font:14px/20.57px 'Liberation Sans', sans-serif;color:#303030;text-align:right;white-space:nowrap;-webkit-text-stroke:0.15px #333">0.62</div>
<div style="position:absolute;left:1214.00px;top:534.00px;width:66.60px;height:20.57px;font:14px/20.57px 'Liberation Sans', sans-serif;color:#303030;text-align:right;white-space:nowrap;-webkit-text-stroke:0.15px #333">0.12</div>
<div style="position:absolute;left:1287.60px;top:534.00px;width:66.40px;height:20.57px;font:14px/20.57px 'Liberation Sans', sans-serif;color:#303030;text-align:right;white-space:nowrap;-webkit-text-stroke:0.15px #333">2.38</div>
<div style="position:absolute;left:1361.00px;top:534.00px;width:66.00px;height:20.57px;font:14px/20.57px 'Liberation Sans', sans-serif;color:#303030;text-align:right;white-space:nowrap;-webkit-text-stroke:0.15px #333">4.00</div>
<div style="position:absolute;left:1434.00px;top:534.00px;width:66.00px;height:20.57px;font:14px/20.57px 'Liberation Sans', sans-serif;color:#303030;text-align:right;white-space:nowrap;-webkit-text-stroke:0.15px #333">0.62</div>
<div style="position:absolute;left:1507.00px;top:534.00px;width:73.00px;height:20.57px;font:14px/20.57px 'Liberation Sans', sans-serif;color:#303030;text-align:center;white-space:nowrap;-webkit-text-stroke:0.15px #333">1/2"</div>
<div style="position:absolute;left:1580.00px;top:534.00px;width:65.50px;height:20.57px;font:14px/20.57px 'Liberation Sans', sans-serif;color:#303030;text-align:right;white-space:nowrap;-webkit-text-stroke:0.15px #333">2.00</div>
<div style="position:absolute;left:1652.50px;top:534.00px;width:66.50px;height:20.57px;font:14px/20.57px 'Liberation Sans', sans-serif;color:#303030;text-align:right;white-space:nowrap;-webkit-text-stroke:0.15px #333">2.50</div>
<div style="position:absolute;left:1726.00px;top:534.00px;width:72.80px;height:20.57px;font:14px/20.57px 'Liberation Sans', sans-serif;color:#303030;text-align:center;white-space:nowrap;-webkit-text-stroke:0.15px #333">-</div>
<div style="position:absolute;left:112.90px;top:554.58px;width:71.40px;height:20.57px;font:bold 14px/20.57px 'Liberation Sans', sans-serif;color:#111;text-align:center;white-space:nowrap">3/4"</div>
<div style="position:absolute;left:184.30px;top:554.58px;width:72.70px;height:20.57px;font:14px/20.57px 'Liberation Sans', sans-serif;color:#303030;text-align:right;white-space:nowrap;-webkit-text-stroke:0.15px #333">3.88</div>
<div style="position:absolute;left:264.00px;top:554.58px;width:77.30px;height:20.57px;font:14px/20.57px 'Liberation Sans', sans-serif;color:#303030;text-align:right;white-space:nowrap;-webkit-text-stroke:0.15px #333">0.50</div>
<div style="position:absolute;left:348.30px;top:554.58px;width:63.70px;height:20.57px;font:14px/20.57px 'Liberation Sans', sans-serif;color:#303030;text-align:right;white-space:nowrap;-webkit-text-stroke:0.15px #333">1.50</div>
<div style="position:absolute;left:419.00px;top:554.58px;width:54.30px;height:20.57px;font:14px/20.57px 'Liberation Sans', sans-serif;color:#303030;text-align:right;white-space:nowrap;-webkit-text-stroke:0.15px #333">1.69</div>
<div style="position:absolute;left:480.30px;top:554.58px;width:70.10px;height:20.57px;font:14px/20.57px 'Liberation Sans', sans-serif;color:#303030;text-align:right;white-space:nowrap;-webkit-text-stroke:0.15px #333">1.05</div>
<div style="position:absolute;left:557.40px;top:554.58px;width:65.20px;height:20.57px;font:14px/20.57px 'Liberation Sans', sans-serif;color:#303030;text-align:right;white-space:nowrap;-webkit-text-stroke:0.15px #333">0.82</div>
<div style="position:absolute;left:629.60px;top:554.58px;width:64.40px;height:20.57px;font:14px/20.57px 'Liberation Sans', sans-serif;color:#303030;text-align:right;white-space:nowrap;-webkit-text-stroke:0.15px #333">1.09</div>
<div style="position:absolute;left:701.00px;top:554.58px;width:59.60px;height:20.57px;font:14px/20.57px 'Liberation Sans', sans-serif;color:#303030;text-align:right;white-space:nowrap;-webkit-text-stroke:0.15px #333">1.11</div>
<div style="position:absolute;left:842.50px;top:554.58px;width:54.50px;height:20.57px;font:14px/20.57px 'Liberation Sans', sans-serif;color:#303030;text-align:right;white-space:nowrap;-webkit-text-stroke:0.15px #333">0.44</div>
<div style="position:absolute;left:904.00px;top:554.58px;width:73.00px;height:20.57px;font:14px/20.57px 'Liberation Sans', sans-serif;color:#303030;text-align:right;white-space:nowrap;-webkit-text-stroke:0.15px #333">2.06</div>
<div style="position:absolute;left:984.00px;top:554.58px;width:100.40px;height:20.57px;font:14px/20.57px 'Liberation Sans', sans-serif;color:#303030;text-align:right;white-space:nowrap;-webkit-text-stroke:0.15px #333">0.62</div>
<div style="position:absolute;left:1091.40px;top:554.58px;width:42.60px;height:20.57px;font:14px/20.57px 'Liberation Sans', sans-serif;color:#303030;text-align:right;white-space:nowrap;-webkit-text-stroke:0.15px #333">0.62</div>
<div style="position:absolute;left:1141.00px;top:554.58px;width:66.00px;height:20.57px;font:14px/20.57px 'Liberation Sans', sans-serif;color:#303030;text-align:right;white-space:nowrap;-webkit-text-stroke:0.15px #333">0.62</div>
<div style="position:absolute;left:1214.00px;top:554.58px;width:66.60px;height:20.57px;font:14px/20.57px 'Liberation Sans', sans-serif;color:#303030;text-align:right;white-space:nowrap;-webkit-text-stroke:0.15px #333">0.12</div>
<div style="position:absolute;left:1287.60px;top:554.58px;width:66.40px;height:20.57px;font:14px/20.57px 'Liberation Sans', sans-serif;color:#303030;text-align:right;white-space:nowrap;-webkit-text-stroke:0.15px #333">2.75</div>
<div style="position:absolute;left:1361.00px;top:554.58px;width:66.00px;height:20.57px;font:14px/20.57px 'Liberation Sans', sans-serif;color:#303030;text-align:right;white-space:nowrap;-webkit-text-stroke:0.15px #333">4.00</div>
<div style="position:absolute;left:1434.00px;top:554.58px;width:66.00px;height:20.57px;font:14px/20.57px 'Liberation Sans', sans-serif;color:#303030;text-align:right;white-space:nowrap;-webkit-text-stroke:0.15px #333">0.62</div>
<div style="position:absolute;left:1507.00px;top:554.58px;width:73.00px;height:20.57px;font:14px/20.57px 'Liberation Sans', sans-serif;color:#303030;text-align:center;white-space:nowrap;-webkit-text-stroke:0.15px #333">1/2"</div>
<div style="position:absolute;left:1580.00px;top:554.58px;width:65.50px;height:20.57px;font:14px/20.57px 'Liberation Sans', sans-serif;color:#303030;text-align:right;white-space:nowrap;-webkit-text-stroke:0.15px #333">2.25</div>
<div style="position:absolute;left:1652.50px;top:554.58px;width:66.50px;height:20.57px;font:14px/20.57px 'Liberation Sans', sans-serif;color:#303030;text-align:right;white-space:nowrap;-webkit-text-stroke:0.15px #333">2.50</div>
<div style="position:absolute;left:1726.00px;top:554.58px;width:72.80px;height:20.57px;font:14px/20.57px 'Liberation Sans', sans-serif;color:#303030;text-align:center;white-space:nowrap;-webkit-text-stroke:0.15px #333">-</div>
<div style="position:absolute;left:112.90px;top:575.15px;width:71.40px;height:20.57px;font:bold 14px/20.57px 'Liberation Sans', sans-serif;color:#111;text-align:center;white-space:nowrap">1"</div>
<div style="position:absolute;left:184.30px;top:575.15px;width:72.70px;height:20.57px;font:14px/20.57px 'Liberation Sans', sans-serif;color:#303030;text-align:right;white-space:nowrap;-webkit-text-stroke:0.15px #333">4.25</div>
<div style="position:absolute;left:264.00px;top:575.15px;width:77.30px;height:20.57px;font:14px/20.57px 'Liberation Sans', sans-serif;color:#303030;text-align:right;white-space:nowrap;-webkit-text-stroke:0.15px #333">0.56</div>
<div style="position:absolute;left:348.30px;top:575.15px;width:63.70px;height:20.57px;font:14px/20.57px 'Liberation Sans', sans-serif;color:#303030;text-align:right;white-space:nowrap;-webkit-text-stroke:0.15px #333">1.94</div>
<div style="position:absolute;left:419.00px;top:575.15px;width:54.30px;height:20.57px;font:14px/20.57px 'Liberation Sans', sans-serif;color:#303030;text-align:right;white-space:nowrap;-webkit-text-stroke:0.15px #333">2.00</div>
<div style="position:absolute;left:480.30px;top:575.15px;width:70.10px;height:20.57px;font:14px/20.57px 'Liberation Sans', sans-serif;color:#303030;text-align:right;white-space:nowrap;-webkit-text-stroke:0.15px #333">1.32</div>
<div style="position:absolute;left:557.40px;top:575.15px;width:65.20px;height:20.57px;font:14px/20.57px 'Liberation Sans', sans-serif;color:#303030;text-align:right;white-space:nowrap;-webkit-text-stroke:0.15px #333">1.05</div>
<div style="position:absolute;left:629.60px;top:575.15px;width:64.40px;height:20.57px;font:14px/20.57px 'Liberation Sans', sans-serif;color:#303030;text-align:right;white-space:nowrap;-webkit-text-stroke:0.15px #333">1.36</div>
<div style="position:absolute;left:701.00px;top:575.15px;width:59.60px;height:20.57px;font:14px/20.57px 'Liberation Sans', sans-serif;color:#303030;text-align:right;white-space:nowrap;-webkit-text-stroke:0.15px #333">1.38</div>
<div style="position:absolute;left:842.50px;top:575.15px;width:54.50px;height:20.57px;font:14px/20.57px 'Liberation Sans', sans-serif;color:#303030;text-align:right;white-space:nowrap;-webkit-text-stroke:0.15px #333">0.50</div>
<div style="position:absolute;left:904.00px;top:575.15px;width:73.00px;height:20.57px;font:14px/20.57px 'Liberation Sans', sans-serif;color:#303030;text-align:right;white-space:nowrap;-webkit-text-stroke:0.15px #333">2.19</div>
<div style="position:absolute;left:984.00px;top:575.15px;width:100.40px;height:20.57px;font:14px/20.57px 'Liberation Sans', sans-serif;color:#303030;text-align:right;white-space:nowrap;-webkit-text-stroke:0.15px #333">0.69</div>
<div style="position:absolute;left:1091.40px;top:575.15px;width:42.60px;height:20.57px;font:14px/20.57px 'Liberation Sans', sans-serif;color:#303030;text-align:right;white-space:nowrap;-webkit-text-stroke:0.15px #333">0.69</div>
<div style="position:absolute;left:1141.00px;top:575.15px;width:66.00px;height:20.57px;font:14px/20.57px 'Liberation Sans', sans-serif;color:#303030;text-align:right;white-space:nowrap;-webkit-text-stroke:0.15px #333">0.69</div>
<div style="position:absolute;left:1214.00px;top:575.15px;width:66.60px;height:20.57px;font:14px/20.57px 'Liberation Sans', sans-serif;color:#303030;text-align:right;white-space:nowrap;-webkit-text-stroke:0.15px #333">0.12</div>
<div style="position:absolute;left:1287.60px;top:575.15px;width:66.40px;height:20.57px;font:14px/20.57px 'Liberation Sans', sans-serif;color:#303030;text-align:right;white-space:nowrap;-webkit-text-stroke:0.15px #333">3.12</div>
<div style="position:absolute;left:1361.00px;top:575.15px;width:66.00px;height:20.57px;font:14px/20.57px 'Liberation Sans', sans-serif;color:#303030;text-align:right;white-space:nowrap;-webkit-text-stroke:0.15px #333">4.00</div>
<div style="position:absolute;left:1434.00px;top:575.15px;width:66.00px;height:20.57px;font:14px/20.57px 'Liberation Sans', sans-serif;color:#303030;text-align:right;white-space:nowrap;-webkit-text-stroke:0.15px #333">0.62</div>
<div style="position:absolute;left:1507.00px;top:575.15px;width:73.00px;height:20.57px;font:14px/20.57px 'Liberation Sans', sans-serif;color:#303030;text-align:center;white-space:nowrap;-webkit-text-stroke:0.15px #333">1/2"</div>
<div style="position:absolute;left:1580.00px;top:575.15px;width:65.50px;height:20.57px;font:14px/20.57px 'Liberation Sans', sans-serif;color:#303030;text-align:right;white-space:nowrap;-webkit-text-stroke:0.15px #333">2.25</div>
<div style="position:absolute;left:1652.50px;top:575.15px;width:66.50px;height:20.57px;font:14px/20.57px 'Liberation Sans', sans-serif;color:#303030;text-align:right;white-space:nowrap;-webkit-text-stroke:0.15px #333">2.75</div>
<div style="position:absolute;left:1726.00px;top:575.15px;width:65.80px;height:20.57px;font:14px/20.57px 'Liberation Sans', sans-serif;color:#303030;text-align:right;white-space:nowrap;-webkit-text-stroke:0.15px #333">3.25</div>
<div style="position:absolute;left:112.90px;top:595.73px;width:71.40px;height:20.57px;font:bold 14px/20.57px 'Liberation Sans', sans-serif;color:#111;text-align:center;white-space:nowrap">1-1/4"</div>
<div style="position:absolute;left:184.30px;top:595.73px;width:72.70px;height:20.57px;font:14px/20.57px 'Liberation Sans', sans-serif;color:#303030;text-align:right;white-space:nowrap;-webkit-text-stroke:0.15px #333">4.62</div>
<div style="position:absolute;left:264.00px;top:595.73px;width:77.30px;height:20.57px;font:14px/20.57px 'Liberation Sans', sans-serif;color:#303030;text-align:right;white-space:nowrap;-webkit-text-stroke:0.15px #333">0.62</div>
<div style="position:absolute;left:348.30px;top:595.73px;width:63.70px;height:20.57px;font:14px/20.57px 'Liberation Sans', sans-serif;color:#303030;text-align:right;white-space:nowrap;-webkit-text-stroke:0.15px #333">2.31</div>
<div style="position:absolute;left:419.00px;top:595.73px;width:54.30px;height:20.57px;font:14px/20.57px 'Liberation Sans', sans-serif;color:#303030;text-align:right;white-space:nowrap;-webkit-text-stroke:0.15px #333">2.50</div>
<div style="position:absolute;left:480.30px;top:595.73px;width:70.10px;height:20.57px;font:14px/20.57px 'Liberation Sans', sans-serif;color:#303030;text-align:right;white-space:nowrap;-webkit-text-stroke:0.15px #333">1.66</div>
<div style="position:absolute;left:557.40px;top:595.73px;width:65.20px;height:20.57px;font:14px/20.57px 'Liberation Sans', sans-serif;color:#303030;text-align:right;white-space:nowrap;-webkit-text-stroke:0.15px #333">1.38</div>
<div style="position:absolute;left:629.60px;top:595.73px;width:64.40px;height:20.57px;font:14px/20.57px 'Liberation Sans', sans-serif;color:#303030;text-align:right;white-space:nowrap;-webkit-text-stroke:0.15px #333">1.70</div>
<div style="position:absolute;left:701.00px;top:595.73px;width:59.60px;height:20.57px;font:14px/20.57px 'Liberation Sans', sans-serif;color:#303030;text-align:right;white-space:nowrap;-webkit-text-stroke:0.15px #333">1.72</div>
<div style="position:absolute;left:842.50px;top:595.73px;width:54.50px;height:20.57px;font:14px/20.57px 'Liberation Sans', sans-serif;color:#303030;text-align:right;white-space:nowrap;-webkit-text-stroke:0.15px #333">0.56</div>
<div style="position:absolute;left:904.00px;top:595.73px;width:73.00px;height:20.57px;font:14px/20.57px 'Liberation Sans', sans-serif;color:#303030;text-align:right;white-space:nowrap;-webkit-text-stroke:0.15px #333">2.25</div>
<div style="position:absolute;left:984.00px;top:595.73px;width:100.40px;height:20.57px;font:14px/20.57px 'Liberation Sans', sans-serif;color:#303030;text-align:right;white-space:nowrap;-webkit-text-stroke:0.15px #333">0.81</div>
<div style="position:absolute;left:1091.40px;top:595.73px;width:42.60px;height:20.57px;font:14px/20.57px 'Liberation Sans', sans-serif;color:#303030;text-align:right;white-space:nowrap;-webkit-text-stroke:0.15px #333">0.81</div>
<div style="position:absolute;left:1141.00px;top:595.73px;width:66.00px;height:20.57px;font:14px/20.57px 'Liberation Sans', sans-serif;color:#303030;text-align:right;white-space:nowrap;-webkit-text-stroke:0.15px #333">0.81</div>
<div style="position:absolute;left:1214.00px;top:595.73px;width:66.60px;height:20.57px;font:14px/20.57px 'Liberation Sans', sans-serif;color:#303030;text-align:right;white-space:nowrap;-webkit-text-stroke:0.15px #333">0.19</div>
<div style="position:absolute;left:1287.60px;top:595.73px;width:66.40px;height:20.57px;font:14px/20.57px 'Liberation Sans', sans-serif;color:#303030;text-align:right;white-space:nowrap;-webkit-text-stroke:0.15px #333">3.50</div>
<div style="position:absolute;left:1361.00px;top:595.73px;width:66.00px;height:20.57px;font:14px/20.57px 'Liberation Sans', sans-serif;color:#303030;text-align:right;white-space:nowrap;-webkit-text-stroke:0.15px #333">4.00</div>
<div style="position:absolute;left:1434.00px;top:595.73px;width:66.00px;height:20.57px;font:14px/20.57px 'Liberation Sans', sans-serif;color:#303030;text-align:right;white-space:nowrap;-webkit-text-stroke:0.15px #333">0.62</div>
<div style="position:absolute;left:1507.00px;top:595.73px;width:73.00px;height:20.57px;font:14px/20.57px 'Liberation Sans', sans-serif;color:#303030;text-align:center;white-space:nowrap;-webkit-text-stroke:0.15px #333">1/2"</div>
<div style="position:absolute;left:1580.00px;top:595.73px;width:65.50px;height:20.57px;font:14px/20.57px 'Liberation Sans', sans-serif;color:#303030;text-align:right;white-space:nowrap;-webkit-text-stroke:0.15px #333">2.50</div>
<div style="position:absolute;left:1652.50px;top:595.73px;width:66.50px;height:20.57px;font:14px/20.57px 'Liberation Sans', sans-serif;color:#303030;text-align:right;white-space:nowrap;-webkit-text-stroke:0.15px #333">2.75</div>
<div style="position:absolute;left:1726.00px;top:595.73px;width:65.80px;height:20.57px;font:14px/20.57px 'Liberation Sans', sans-serif;color:#303030;text-align:right;white-space:nowrap;-webkit-text-stroke:0.15px #333">3.25</div>
<div style="position:absolute;left:112.90px;top:616.30px;width:71.40px;height:20.57px;font:bold 14px/20.57px 'Liberation Sans', sans-serif;color:#111;text-align:center;white-space:nowrap">1-1/2"</div>
<div style="position:absolute;left:184.30px;top:616.30px;width:72.70px;height:20.57px;font:14px/20.57px 'Liberation Sans', sans-serif;color:#303030;text-align:right;white-space:nowrap;-webkit-text-stroke:0.15px #333">5.00</div>
<div style="position:absolute;left:264.00px;top:616.30px;width:77.30px;height:20.57px;font:14px/20.57px 'Liberation Sans', sans-serif;color:#303030;text-align:right;white-space:nowrap;-webkit-text-stroke:0.15px #333">0.69</div>
<div style="position:absolute;left:348.30px;top:616.30px;width:63.70px;height:20.57px;font:14px/20.57px 'Liberation Sans', sans-serif;color:#303030;text-align:right;white-space:nowrap;-webkit-text-stroke:0.15px #333">2.56</div>
<div style="position:absolute;left:419.00px;top:616.30px;width:54.30px;height:20.57px;font:14px/20.57px 'Liberation Sans', sans-serif;color:#303030;text-align:right;white-space:nowrap;-webkit-text-stroke:0.15px #333">2.88</div>
<div style="position:absolute;left:480.30px;top:616.30px;width:70.10px;height:20.57px;font:14px/20.57px 'Liberation Sans', sans-serif;color:#303030;text-align:right;white-space:nowrap;-webkit-text-stroke:0.15px #333">1.90</div>
<div style="position:absolute;left:557.40px;top:616.30px;width:65.20px;height:20.57px;font:14px/20.57px 'Liberation Sans', sans-serif;color:#303030;text-align:right;white-space:nowrap;-webkit-text-stroke:0.15px #333">1.61</div>
<div style="position:absolute;left:629.60px;top:616.30px;width:64.40px;height:20.57px;font:14px/20.57px 'Liberation Sans', sans-serif;color:#303030;text-align:right;white-space:nowrap;-webkit-text-stroke:0.15px #333">1.95</div>
<div style="position:absolute;left:701.00px;top:616.30px;width:59.60px;height:20.57px;font:14px/20.57px 'Liberation Sans', sans-serif;color:#303030;text-align:right;white-space:nowrap;-webkit-text-stroke:0.15px #333">1.97</div>
<div style="position:absolute;left:842.50px;top:616.30px;width:54.50px;height:20.57px;font:14px/20.57px 'Liberation Sans', sans-serif;color:#303030;text-align:right;white-space:nowrap;-webkit-text-stroke:0.15px #333">0.62</div>
<div style="position:absolute;left:904.00px;top:616.30px;width:73.00px;height:20.57px;font:14px/20.57px 'Liberation Sans', sans-serif;color:#303030;text-align:right;white-space:nowrap;-webkit-text-stroke:0.15px #333">2.44</div>
<div style="position:absolute;left:984.00px;top:616.30px;width:100.40px;height:20.57px;font:14px/20.57px 'Liberation Sans', sans-serif;color:#303030;text-align:right;white-space:nowrap;-webkit-text-stroke:0.15px #333">0.88</div>
<div style="position:absolute;left:1091.40px;top:616.30px;width:42.60px;height:20.57px;font:14px/20.57px 'Liberation Sans', sans-serif;color:#303030;text-align:right;white-space:nowrap;-webkit-text-stroke:0.15px #333">0.88</div>
<div style="position:absolute;left:1141.00px;top:616.30px;width:66.00px;height:20.57px;font:14px/20.57px 'Liberation Sans', sans-serif;color:#303030;text-align:right;white-space:nowrap;-webkit-text-stroke:0.15px #333">0.88</div>
<div style="position:absolute;left:1214.00px;top:616.30px;width:66.60px;height:20.57px;font:14px/20.57px 'Liberation Sans', sans-serif;color:#303030;text-align:right;white-space:nowrap;-webkit-text-stroke:0.15px #333">0.25</div>
<div style="position:absolute;left:1287.60px;top:616.30px;width:66.40px;height:20.57px;font:14px/20.57px 'Liberation Sans', sans-serif;color:#303030;text-align:right;white-space:nowrap;-webkit-text-stroke:0.15px #333">3.88</div>
<div style="position:absolute;left:1361.00px;top:616.30px;width:66.00px;height:20.57px;font:14px/20.57px 'Liberation Sans', sans-serif;color:#303030;text-align:right;white-space:nowrap;-webkit-text-stroke:0.15px #333">4.00</div>
<div style="position:absolute;left:1434.00px;top:616.30px;width:66.00px;height:20.57px;font:14px/20.57px 'Liberation Sans', sans-serif;color:#303030;text-align:right;white-space:nowrap;-webkit-text-stroke:0.15px #333">0.62</div>
<div style="position:absolute;left:1507.00px;top:616.30px;width:73.00px;height:20.57px;font:14px/20.57px 'Liberation Sans', sans-serif;color:#303030;text-align:center;white-space:nowrap;-webkit-text-stroke:0.15px #333">1/2"</div>
<div style="position:absolute;left:1580.00px;top:616.30px;width:65.50px;height:20.57px;font:14px/20.57px 'Liberation Sans', sans-serif;color:#303030;text-align:right;white-space:nowrap;-webkit-text-stroke:0.15px #333">2.50</div>
<div style="position:absolute;left:1652.50px;top:616.30px;width:66.50px;height:20.57px;font:14px/20.57px 'Liberation Sans', sans-serif;color:#303030;text-align:right;white-space:nowrap;-webkit-text-stroke:0.15px #333">3.00</div>
<div style="position:absolute;left:1726.00px;top:616.30px;width:65.80px;height:20.57px;font:14px/20.57px 'Liberation Sans', sans-serif;color:#303030;text-align:right;white-space:nowrap;-webkit-text-stroke:0.15px #333">3.50</div>
<div style="position:absolute;left:112.90px;top:636.88px;width:71.40px;height:20.57px;font:bold 14px/20.57px 'Liberation Sans', sans-serif;color:#111;text-align:center;white-space:nowrap">2"</div>
<div style="position:absolute;left:184.30px;top:636.88px;width:72.70px;height:20.57px;font:14px/20.57px 'Liberation Sans', sans-serif;color:#303030;text-align:right;white-space:nowrap;-webkit-text-stroke:0.15px #333">6.00</div>
<div style="position:absolute;left:264.00px;top:636.88px;width:77.30px;height:20.57px;font:14px/20.57px 'Liberation Sans', sans-serif;color:#303030;text-align:right;white-space:nowrap;-webkit-text-stroke:0.15px #333">0.75</div>
<div style="position:absolute;left:348.30px;top:636.88px;width:63.70px;height:20.57px;font:14px/20.57px 'Liberation Sans', sans-serif;color:#303030;text-align:right;white-space:nowrap;-webkit-text-stroke:0.15px #333">3.06</div>
<div style="position:absolute;left:419.00px;top:636.88px;width:54.30px;height:20.57px;font:14px/20.57px 'Liberation Sans', sans-serif;color:#303030;text-align:right;white-space:nowrap;-webkit-text-stroke:0.15px #333">3.62</div>
<div style="position:absolute;left:480.30px;top:636.88px;width:70.10px;height:20.57px;font:14px/20.57px 'Liberation Sans', sans-serif;color:#303030;text-align:right;white-space:nowrap;-webkit-text-stroke:0.15px #333">2.38</div>
<div style="position:absolute;left:557.40px;top:636.88px;width:65.20px;height:20.57px;font:14px/20.57px 'Liberation Sans', sans-serif;color:#303030;text-align:right;white-space:nowrap;-webkit-text-stroke:0.15px #333">2.07</div>
<div style="position:absolute;left:629.60px;top:636.88px;width:64.40px;height:20.57px;font:14px/20.57px 'Liberation Sans', sans-serif;color:#303030;text-align:right;white-space:nowrap;-webkit-text-stroke:0.15px #333">2.44</div>
<div style="position:absolute;left:701.00px;top:636.88px;width:59.60px;height:20.57px;font:14px/20.57px 'Liberation Sans', sans-serif;color:#303030;text-align:right;white-space:nowrap;-webkit-text-stroke:0.15px #333">2.46</div>
<div style="position:absolute;left:842.50px;top:636.88px;width:54.50px;height:20.57px;font:14px/20.57px 'Liberation Sans', sans-serif;color:#303030;text-align:right;white-space:nowrap;-webkit-text-stroke:0.15px #333">0.69</div>
<div style="position:absolute;left:904.00px;top:636.88px;width:73.00px;height:20.57px;font:14px/20.57px 'Liberation Sans', sans-serif;color:#303030;text-align:right;white-space:nowrap;-webkit-text-stroke:0.15px #333">2.50</div>
<div style="position:absolute;left:984.00px;top:636.88px;width:100.40px;height:20.57px;font:14px/20.57px 'Liberation Sans', sans-serif;color:#303030;text-align:right;white-space:nowrap;-webkit-text-stroke:0.15px #333">1.00</div>
<div style="position:absolute;left:1091.40px;top:636.88px;width:42.60px;height:20.57px;font:14px/20.57px 'Liberation Sans', sans-serif;color:#303030;text-align:right;white-space:nowrap;-webkit-text-stroke:0.15px #333">1.00</div>
<div style="position:absolute;left:1141.00px;top:636.88px;width:66.00px;height:20.57px;font:14px/20.57px 'Liberation Sans', sans-serif;color:#303030;text-align:right;white-space:nowrap;-webkit-text-stroke:0.15px #333">1.00</div>
<div style="position:absolute;left:1214.00px;top:636.88px;width:66.60px;height:20.57px;font:14px/20.57px 'Liberation Sans', sans-serif;color:#303030;text-align:right;white-space:nowrap;-webkit-text-stroke:0.15px #333">0.31</div>
<div style="position:absolute;left:1287.60px;top:636.88px;width:66.40px;height:20.57px;font:14px/20.57px 'Liberation Sans', sans-serif;color:#303030;text-align:right;white-space:nowrap;-webkit-text-stroke:0.15px #333">4.75</div>
<div style="position:absolute;left:1361.00px;top:636.88px;width:66.00px;height:20.57px;font:14px/20.57px 'Liberation Sans', sans-serif;color:#303030;text-align:right;white-space:nowrap;-webkit-text-stroke:0.15px #333">4.00</div>
<div style="position:absolute;left:1434.00px;top:636.88px;width:66.00px;height:20.57px;font:14px/20.57px 'Liberation Sans', sans-serif;color:#303030;text-align:right;white-space:nowrap;-webkit-text-stroke:0.15px #333">0.75</div>
<div style="position:absolute;left:1507.00px;top:636.88px;width:73.00px;height:20.57px;font:14px/20.57px 'Liberation Sans', sans-serif;color:#303030;text-align:center;white-space:nowrap;-webkit-text-stroke:0.15px #333">5/8"</div>
<div style="position:absolute;left:1580.00px;top:636.88px;width:65.50px;height:20.57px;font:14px/20.57px 'Liberation Sans', sans-serif;color:#303030;text-align:right;white-space:nowrap;-webkit-text-stroke:0.15px #333">2.75</div>
<div style="position:absolute;left:1652.50px;top:636.88px;width:66.50px;height:20.57px;font:14px/20.57px 'Liberation Sans', sans-serif;color:#303030;text-align:right;white-space:nowrap;-webkit-text-stroke:0.15px #333">3.25</div>
<div style="position:absolute;left:1726.00px;top:636.88px;width:65.80px;height:20.57px;font:14px/20.57px 'Liberation Sans', sans-serif;color:#303030;text-align:right;white-space:nowrap;-webkit-text-stroke:0.15px #333">3.75</div>
<div style="position:absolute;left:112.90px;top:657.45px;width:71.40px;height:20.57px;font:bold 14px/20.57px 'Liberation Sans', sans-serif;color:#111;text-align:center;white-space:nowrap">2-1/2"</div>
<div style="position:absolute;left:184.30px;top:657.45px;width:72.70px;height:20.57px;font:14px/20.57px 'Liberation Sans', sans-serif;color:#303030;text-align:right;white-space:nowrap;-webkit-text-stroke:0.15px #333">7.00</div>
<div style="position:absolute;left:264.00px;top:657.45px;width:77.30px;height:20.57px;font:14px/20.57px 'Liberation Sans', sans-serif;color:#303030;text-align:right;white-space:nowrap;-webkit-text-stroke:0.15px #333">0.88</div>
<div style="position:absolute;left:348.30px;top:657.45px;width:63.70px;height:20.57px;font:14px/20.57px 'Liberation Sans', sans-serif;color:#303030;text-align:right;white-space:nowrap;-webkit-text-stroke:0.15px #333">3.56</div>
<div style="position:absolute;left:419.00px;top:657.45px;width:54.30px;height:20.57px;font:14px/20.57px 'Liberation Sans', sans-serif;color:#303030;text-align:right;white-space:nowrap;-webkit-text-stroke:0.15px #333">4.12</div>
<div style="position:absolute;left:480.30px;top:657.45px;width:70.10px;height:20.57px;font:14px/20.57px 'Liberation Sans', sans-serif;color:#303030;text-align:right;white-space:nowrap;-webkit-text-stroke:0.15px #333">2.88</div>
<div style="position:absolute;left:557.40px;top:657.45px;width:65.20px;height:20.57px;font:14px/20.57px 'Liberation Sans', sans-serif;color:#303030;text-align:right;white-space:nowrap;-webkit-text-stroke:0.15px #333">2.47</div>
<div style="position:absolute;left:629.60px;top:657.45px;width:64.40px;height:20.57px;font:14px/20.57px 'Liberation Sans', sans-serif;color:#303030;text-align:right;white-space:nowrap;-webkit-text-stroke:0.15px #333">2.94</div>
<div style="position:absolute;left:701.00px;top:657.45px;width:59.60px;height:20.57px;font:14px/20.57px 'Liberation Sans', sans-serif;color:#303030;text-align:right;white-space:nowrap;-webkit-text-stroke:0.15px #333">2.97</div>
<div style="position:absolute;left:842.50px;top:657.45px;width:54.50px;height:20.57px;font:14px/20.57px 'Liberation Sans', sans-serif;color:#303030;text-align:right;white-space:nowrap;-webkit-text-stroke:0.15px #333">0.75</div>
<div style="position:absolute;left:904.00px;top:657.45px;width:73.00px;height:20.57px;font:14px/20.57px 'Liberation Sans', sans-serif;color:#303030;text-align:right;white-space:nowrap;-webkit-text-stroke:0.15px #333">2.75</div>
<div style="position:absolute;left:984.00px;top:657.45px;width:100.40px;height:20.57px;font:14px/20.57px 'Liberation Sans', sans-serif;color:#303030;text-align:right;white-space:nowrap;-webkit-text-stroke:0.15px #333">1.12</div>
<div style="position:absolute;left:1091.40px;top:657.45px;width:42.60px;height:20.57px;font:14px/20.57px 'Liberation Sans', sans-serif;color:#303030;text-align:right;white-space:nowrap;-webkit-text-stroke:0.15px #333">1.12</div>
<div style="position:absolute;left:1141.00px;top:657.45px;width:66.00px;height:20.57px;font:14px/20.57px 'Liberation Sans', sans-serif;color:#303030;text-align:right;white-space:nowrap;-webkit-text-stroke:0.15px #333">1.12</div>
<div style="position:absolute;left:1214.00px;top:657.45px;width:66.60px;height:20.57px;font:14px/20.57px 'Liberation Sans', sans-serif;color:#303030;text-align:right;white-space:nowrap;-webkit-text-stroke:0.15px #333">0.31</div>
<div style="position:absolute;left:1287.60px;top:657.45px;width:66.40px;height:20.57px;font:14px/20.57px 'Liberation Sans', sans-serif;color:#303030;text-align:right;white-space:nowrap;-webkit-text-stroke:0.15px #333">5.50</div>
<div style="position:absolute;left:1361.00px;top:657.45px;width:66.00px;height:20.57px;font:14px/20.57px 'Liberation Sans', sans-serif;color:#303030;text-align:right;white-space:nowrap;-webkit-text-stroke:0.15px #333">4.00</div>
<div style="position:absolute;left:1434.00px;top:657.45px;width:66.00px;height:20.57px;font:14px/20.57px 'Liberation Sans', sans-serif;color:#303030;text-align:right;white-space:nowrap;-webkit-text-stroke:0.15px #333">0.75</div>
<div style="position:absolute;left:1507.00px;top:657.45px;width:73.00px;height:20.57px;font:14px/20.57px 'Liberation Sans', sans-serif;color:#303030;text-align:center;white-space:nowrap;-webkit-text-stroke:0.15px #333">5/8"</div>
<div style="position:absolute;left:1580.00px;top:657.45px;width:65.50px;height:20.57px;font:14px/20.57px 'Liberation Sans', sans-serif;color:#303030;text-align:right;white-space:nowrap;-webkit-text-stroke:0.15px #333">3.00</div>
<div style="position:absolute;left:1652.50px;top:657.45px;width:66.50px;height:20.57px;font:14px/20.57px 'Liberation Sans', sans-serif;color:#303030;text-align:right;white-space:nowrap;-webkit-text-stroke:0.15px #333">3.50</div>
<div style="position:absolute;left:1726.00px;top:657.45px;width:65.80px;height:20.57px;font:14px/20.57px 'Liberation Sans', sans-serif;color:#303030;text-align:right;white-space:nowrap;-webkit-text-stroke:0.15px #333">4.00</div>
<div style="position:absolute;left:112.90px;top:678.02px;width:71.40px;height:20.57px;font:bold 14px/20.57px 'Liberation Sans', sans-serif;color:#111;text-align:center;white-space:nowrap">3"</div>
<div style="position:absolute;left:184.30px;top:678.02px;width:72.70px;height:20.57px;font:14px/20.57px 'Liberation Sans', sans-serif;color:#303030;text-align:right;white-space:nowrap;-webkit-text-stroke:0.15px #333">7.50</div>
<div style="position:absolute;left:264.00px;top:678.02px;width:77.30px;height:20.57px;font:14px/20.57px 'Liberation Sans', sans-serif;color:#303030;text-align:right;white-space:nowrap;-webkit-text-stroke:0.15px #333">0.94</div>
<div style="position:absolute;left:348.30px;top:678.02px;width:63.70px;height:20.57px;font:14px/20.57px 'Liberation Sans', sans-serif;color:#303030;text-align:right;white-space:nowrap;-webkit-text-stroke:0.15px #333">4.25</div>
<div style="position:absolute;left:419.00px;top:678.02px;width:54.30px;height:20.57px;font:14px/20.57px 'Liberation Sans', sans-serif;color:#303030;text-align:right;white-space:nowrap;-webkit-text-stroke:0.15px #333">5.00</div>
<div style="position:absolute;left:480.30px;top:678.02px;width:70.10px;height:20.57px;font:14px/20.57px 'Liberation Sans', sans-serif;color:#303030;text-align:right;white-space:nowrap;-webkit-text-stroke:0.15px #333">3.50</div>
<div style="position:absolute;left:557.40px;top:678.02px;width:65.20px;height:20.57px;font:14px/20.57px 'Liberation Sans', sans-serif;color:#303030;text-align:right;white-space:nowrap;-webkit-text-stroke:0.15px #333">3.07</div>
<div style="position:absolute;left:629.60px;top:678.02px;width:64.40px;height:20.57px;font:14px/20.57px 'Liberation Sans', sans-serif;color:#303030;text-align:right;white-space:nowrap;-webkit-text-stroke:0.15px #333">3.57</div>
<div style="position:absolute;left:701.00px;top:678.02px;width:59.60px;height:20.57px;font:14px/20.57px 'Liberation Sans', sans-serif;color:#303030;text-align:right;white-space:nowrap;-webkit-text-stroke:0.15px #333">3.60</div>
<div style="position:absolute;left:842.50px;top:678.02px;width:54.50px;height:20.57px;font:14px/20.57px 'Liberation Sans', sans-serif;color:#303030;text-align:right;white-space:nowrap;-webkit-text-stroke:0.15px #333">0.81</div>
<div style="position:absolute;left:904.00px;top:678.02px;width:73.00px;height:20.57px;font:14px/20.57px 'Liberation Sans', sans-serif;color:#303030;text-align:right;white-space:nowrap;-webkit-text-stroke:0.15px #333">2.75</div>
<div style="position:absolute;left:984.00px;top:678.02px;width:100.40px;height:20.57px;font:14px/20.57px 'Liberation Sans', sans-serif;color:#303030;text-align:right;white-space:nowrap;-webkit-text-stroke:0.15px #333">1.19</div>
<div style="position:absolute;left:1091.40px;top:678.02px;width:42.60px;height:20.57px;font:14px/20.57px 'Liberation Sans', sans-serif;color:#303030;text-align:right;white-space:nowrap;-webkit-text-stroke:0.15px #333">1.19</div>
<div style="position:absolute;left:1141.00px;top:678.02px;width:66.00px;height:20.57px;font:14px/20.57px 'Liberation Sans', sans-serif;color:#303030;text-align:right;white-space:nowrap;-webkit-text-stroke:0.15px #333">1.19</div>
<div style="position:absolute;left:1214.00px;top:678.02px;width:66.60px;height:20.57px;font:14px/20.57px 'Liberation Sans', sans-serif;color:#303030;text-align:right;white-space:nowrap;-webkit-text-stroke:0.15px #333">0.38</div>
<div style="position:absolute;left:1287.60px;top:678.02px;width:66.40px;height:20.57px;font:14px/20.57px 'Liberation Sans', sans-serif;color:#303030;text-align:right;white-space:nowrap;-webkit-text-stroke:0.15px #333">6.00</div>
<div style="position:absolute;left:1361.00px;top:678.02px;width:66.00px;height:20.57px;font:14px/20.57px 'Liberation Sans', sans-serif;color:#303030;text-align:right;white-space:nowrap;-webkit-text-stroke:0.15px #333">4.00</div>
<div style="position:absolute;left:1434.00px;top:678.02px;width:66.00px;height:20.57px;font:14px/20.57px 'Liberation Sans', sans-serif;color:#303030;text-align:right;white-space:nowrap;-webkit-text-stroke:0.15px #333">0.75</div>
<div style="position:absolute;left:1507.00px;top:678.02px;width:73.00px;height:20.57px;font:14px/20.57px 'Liberation Sans', sans-serif;color:#303030;text-align:center;white-space:nowrap;-webkit-text-stroke:0.15px #333">5/8"</div>
<div style="position:absolute;left:1580.00px;top:678.02px;width:65.50px;height:20.57px;font:14px/20.57px 'Liberation Sans', sans-serif;color:#303030;text-align:right;white-space:nowrap;-webkit-text-stroke:0.15px #333">3.25</div>
<div style="position:absolute;left:1652.50px;top:678.02px;width:66.50px;height:20.57px;font:14px/20.57px 'Liberation Sans', sans-serif;color:#303030;text-align:right;white-space:nowrap;-webkit-text-stroke:0.15px #333">3.75</div>
<div style="position:absolute;left:1726.00px;top:678.02px;width:65.80px;height:20.57px;font:14px/20.57px 'Liberation Sans', sans-serif;color:#303030;text-align:right;white-space:nowrap;-webkit-text-stroke:0.15px #333">4.25</div>
<div style="position:absolute;left:112.90px;top:698.60px;width:71.40px;height:20.57px;font:bold 14px/20.57px 'Liberation Sans', sans-serif;color:#111;text-align:center;white-space:nowrap">3-1/2"</div>
<div style="position:absolute;left:184.30px;top:698.60px;width:72.70px;height:20.57px;font:14px/20.57px 'Liberation Sans', sans-serif;color:#303030;text-align:right;white-space:nowrap;-webkit-text-stroke:0.15px #333">8.50</div>
<div style="position:absolute;left:264.00px;top:698.60px;width:77.30px;height:20.57px;font:14px/20.57px 'Liberation Sans', sans-serif;color:#303030;text-align:right;white-space:nowrap;-webkit-text-stroke:0.15px #333">0.94</div>
<div style="position:absolute;left:348.30px;top:698.60px;width:63.70px;height:20.57px;font:14px/20.57px 'Liberation Sans', sans-serif;color:#303030;text-align:right;white-space:nowrap;-webkit-text-stroke:0.15px #333">4.81</div>
<div style="position:absolute;left:419.00px;top:698.60px;width:54.30px;height:20.57px;font:14px/20.57px 'Liberation Sans', sans-serif;color:#303030;text-align:right;white-space:nowrap;-webkit-text-stroke:0.15px #333">5.50</div>
<div style="position:absolute;left:480.30px;top:698.60px;width:70.10px;height:20.57px;font:14px/20.57px 'Liberation Sans', sans-serif;color:#303030;text-align:right;white-space:nowrap;-webkit-text-stroke:0.15px #333">4.00</div>
<div style="position:absolute;left:557.40px;top:698.60px;width:65.20px;height:20.57px;font:14px/20.57px 'Liberation Sans', sans-serif;color:#303030;text-align:right;white-space:nowrap;-webkit-text-stroke:0.15px #333">3.55</div>
<div style="position:absolute;left:629.60px;top:698.60px;width:64.40px;height:20.57px;font:14px/20.57px 'Liberation Sans', sans-serif;color:#303030;text-align:right;white-space:nowrap;-webkit-text-stroke:0.15px #333">4.07</div>
<div style="position:absolute;left:701.00px;top:698.60px;width:59.60px;height:20.57px;font:14px/20.57px 'Liberation Sans', sans-serif;color:#303030;text-align:right;white-space:nowrap;-webkit-text-stroke:0.15px #333">4.10</div>
<div style="position:absolute;left:842.50px;top:698.60px;width:54.50px;height:20.57px;font:14px/20.57px 'Liberation Sans', sans-serif;color:#303030;text-align:right;white-space:nowrap;-webkit-text-stroke:0.15px #333">0.88</div>
<div style="position:absolute;left:904.00px;top:698.60px;width:73.00px;height:20.57px;font:14px/20.57px 'Liberation Sans', sans-serif;color:#303030;text-align:right;white-space:nowrap;-webkit-text-stroke:0.15px #333">2.81</div>
<div style="position:absolute;left:984.00px;top:698.60px;width:100.40px;height:20.57px;font:14px/20.57px 'Liberation Sans', sans-serif;color:#303030;text-align:right;white-space:nowrap;-webkit-text-stroke:0.15px #333">1.25</div>
<div style="position:absolute;left:1091.40px;top:698.60px;width:42.60px;height:20.57px;font:14px/20.57px 'Liberation Sans', sans-serif;color:#303030;text-align:right;white-space:nowrap;-webkit-text-stroke:0.15px #333">1.25</div>
<div style="position:absolute;left:1141.00px;top:698.60px;width:66.00px;height:20.57px;font:14px/20.57px 'Liberation Sans', sans-serif;color:#303030;text-align:right;white-space:nowrap;-webkit-text-stroke:0.15px #333">1.25</div>
<div style="position:absolute;left:1214.00px;top:698.60px;width:66.60px;height:20.57px;font:14px/20.57px 'Liberation Sans', sans-serif;color:#303030;text-align:right;white-space:nowrap;-webkit-text-stroke:0.15px #333">0.38</div>
<div style="position:absolute;left:1287.60px;top:698.60px;width:66.40px;height:20.57px;font:14px/20.57px 'Liberation Sans', sans-serif;color:#303030;text-align:right;white-space:nowrap;-webkit-text-stroke:0.15px #333">7.00</div>
<div style="position:absolute;left:1361.00px;top:698.60px;width:66.00px;height:20.57px;font:14px/20.57px 'Liberation Sans', sans-serif;color:#303030;text-align:right;white-space:nowrap;-webkit-text-stroke:0.15px #333">8.00</div>
<div style="position:absolute;left:1434.00px;top:698.60px;width:66.00px;height:20.57px;font:14px/20.57px 'Liberation Sans', sans-serif;color:#303030;text-align:right;white-space:nowrap;-webkit-text-stroke:0.15px #333">0.75</div>
<div style="position:absolute;left:1507.00px;top:698.60px;width:73.00px;height:20.57px;font:14px/20.57px 'Liberation Sans', sans-serif;color:#303030;text-align:center;white-space:nowrap;-webkit-text-stroke:0.15px #333">5/8"</div>
<div style="position:absolute;left:1580.00px;top:698.60px;width:65.50px;height:20.57px;font:14px/20.57px 'Liberation Sans', sans-serif;color:#303030;text-align:right;white-space:nowrap;-webkit-text-stroke:0.15px #333">3.25</div>
<div style="position:absolute;left:1652.50px;top:698.60px;width:66.50px;height:20.57px;font:14px/20.57px 'Liberation Sans', sans-serif;color:#303030;text-align:right;white-space:nowrap;-webkit-text-stroke:0.15px #333">3.75</div>
<div style="position:absolute;left:1726.00px;top:698.60px;width:65.80px;height:20.57px;font:14px/20.57px 'Liberation Sans', sans-serif;color:#303030;text-align:right;white-space:nowrap;-webkit-text-stroke:0.15px #333">4.25</div>
<div style="position:absolute;left:112.90px;top:719.17px;width:71.40px;height:20.57px;font:bold 14px/20.57px 'Liberation Sans', sans-serif;color:#111;text-align:center;white-space:nowrap">4"</div>
<div style="position:absolute;left:184.30px;top:719.17px;width:72.70px;height:20.57px;font:14px/20.57px 'Liberation Sans', sans-serif;color:#303030;text-align:right;white-space:nowrap;-webkit-text-stroke:0.15px #333">9.00</div>
<div style="position:absolute;left:264.00px;top:719.17px;width:77.30px;height:20.57px;font:14px/20.57px 'Liberation Sans', sans-serif;color:#303030;text-align:right;white-space:nowrap;-webkit-text-stroke:0.15px #333">0.94</div>
<div style="position:absolute;left:348.30px;top:719.17px;width:63.70px;height:20.57px;font:14px/20.57px 'Liberation Sans', sans-serif;color:#303030;text-align:right;white-space:nowrap;-webkit-text-stroke:0.15px #333">5.31</div>
<div style="position:absolute;left:419.00px;top:719.17px;width:54.30px;height:20.57px;font:14px/20.57px 'Liberation Sans', sans-serif;color:#303030;text-align:right;white-space:nowrap;-webkit-text-stroke:0.15px #333">6.19</div>
<div style="position:absolute;left:480.30px;top:719.17px;width:70.10px;height:20.57px;font:14px/20.57px 'Liberation Sans', sans-serif;color:#303030;text-align:right;white-space:nowrap;-webkit-text-stroke:0.15px #333">4.50</div>
<div style="position:absolute;left:557.40px;top:719.17px;width:65.20px;height:20.57px;font:14px/20.57px 'Liberation Sans', sans-serif;color:#303030;text-align:right;white-space:nowrap;-webkit-text-stroke:0.15px #333">4.03</div>
<div style="position:absolute;left:629.60px;top:719.17px;width:64.40px;height:20.57px;font:14px/20.57px 'Liberation Sans', sans-serif;color:#303030;text-align:right;white-space:nowrap;-webkit-text-stroke:0.15px #333">4.57</div>
<div style="position:absolute;left:701.00px;top:719.17px;width:59.60px;height:20.57px;font:14px/20.57px 'Liberation Sans', sans-serif;color:#303030;text-align:right;white-space:nowrap;-webkit-text-stroke:0.15px #333">4.60</div>
<div style="position:absolute;left:842.50px;top:719.17px;width:54.50px;height:20.57px;font:14px/20.57px 'Liberation Sans', sans-serif;color:#303030;text-align:right;white-space:nowrap;-webkit-text-stroke:0.15px #333">0.94</div>
<div style="position:absolute;left:904.00px;top:719.17px;width:73.00px;height:20.57px;font:14px/20.57px 'Liberation Sans', sans-serif;color:#303030;text-align:right;white-space:nowrap;-webkit-text-stroke:0.15px #333">3.00</div>
<div style="position:absolute;left:984.00px;top:719.17px;width:100.40px;height:20.57px;font:14px/20.57px 'Liberation Sans', sans-serif;color:#303030;text-align:right;white-space:nowrap;-webkit-text-stroke:0.15px #333">1.31</div>
<div style="position:absolute;left:1091.40px;top:719.17px;width:42.60px;height:20.57px;font:14px/20.57px 'Liberation Sans', sans-serif;color:#303030;text-align:right;white-space:nowrap;-webkit-text-stroke:0.15px #333">1.31</div>
<div style="position:absolute;left:1141.00px;top:719.17px;width:66.00px;height:20.57px;font:14px/20.57px 'Liberation Sans', sans-serif;color:#303030;text-align:right;white-space:nowrap;-webkit-text-stroke:0.15px #333">1.31</div>
<div style="position:absolute;left:1214.00px;top:719.17px;width:66.60px;height:20.57px;font:14px/20.57px 'Liberation Sans', sans-serif;color:#303030;text-align:right;white-space:nowrap;-webkit-text-stroke:0.15px #333">0.44</div>
<div style="position:absolute;left:1287.60px;top:719.17px;width:66.40px;height:20.57px;font:14px/20.57px 'Liberation Sans', sans-serif;color:#303030;text-align:right;white-space:nowrap;-webkit-text-stroke:0.15px #333">7.50</div>
<div style="position:absolute;left:1361.00px;top:719.17px;width:66.00px;height:20.57px;font:14px/20.57px 'Liberation Sans', sans-serif;color:#303030;text-align:right;white-space:nowrap;-webkit-text-stroke:0.15px #333">8.00</div>
<div style="position:absolute;left:1434.00px;top:719.17px;width:66.00px;height:20.57px;font:14px/20.57px 'Liberation Sans', sans-serif;color:#303030;text-align:right;white-space:nowrap;-webkit-text-stroke:0.15px #333">0.75</div>
<div style="position:absolute;left:1507.00px;top:719.17px;width:73.00px;height:20.57px;font:14px/20.57px 'Liberation Sans', sans-serif;color:#303030;text-align:center;white-space:nowrap;-webkit-text-stroke:0.15px #333">5/8"</div>
<div style="position:absolute;left:1580.00px;top:719.17px;width:65.50px;height:20.57px;font:14px/20.57px 'Liberation Sans', sans-serif;color:#303030;text-align:right;white-space:nowrap;-webkit-text-stroke:0.15px #333">3.25</div>
<div style="position:absolute;left:1652.50px;top:719.17px;width:66.50px;height:20.57px;font:14px/20.57px 'Liberation Sans', sans-serif;color:#303030;text-align:right;white-space:nowrap;-webkit-text-stroke:0.15px #333">3.75</div>
<div style="position:absolute;left:1726.00px;top:719.17px;width:65.80px;height:20.57px;font:14px/20.57px 'Liberation Sans', sans-serif;color:#303030;text-align:right;white-space:nowrap;-webkit-text-stroke:0.15px #333">4.25</div>
<div style="position:absolute;left:112.90px;top:739.75px;width:71.40px;height:20.57px;font:bold 14px/20.57px 'Liberation Sans', sans-serif;color:#111;text-align:center;white-space:nowrap">5"</div>
<div style="position:absolute;left:184.30px;top:739.75px;width:72.70px;height:20.57px;font:14px/20.57px 'Liberation Sans', sans-serif;color:#303030;text-align:right;white-space:nowrap;-webkit-text-stroke:0.15px #333">10.00</div>
<div style="position:absolute;left:264.00px;top:739.75px;width:77.30px;height:20.57px;font:14px/20.57px 'Liberation Sans', sans-serif;color:#303030;text-align:right;white-space:nowrap;-webkit-text-stroke:0.15px #333">0.94</div>
<div style="position:absolute;left:348.30px;top:739.75px;width:63.70px;height:20.57px;font:14px/20.57px 'Liberation Sans', sans-serif;color:#303030;text-align:right;white-space:nowrap;-webkit-text-stroke:0.15px #333">6.44</div>
<div style="position:absolute;left:419.00px;top:739.75px;width:54.30px;height:20.57px;font:14px/20.57px 'Liberation Sans', sans-serif;color:#303030;text-align:right;white-space:nowrap;-webkit-text-stroke:0.15px #333">7.31</div>
<div style="position:absolute;left:480.30px;top:739.75px;width:70.10px;height:20.57px;font:14px/20.57px 'Liberation Sans', sans-serif;color:#303030;text-align:right;white-space:nowrap;-webkit-text-stroke:0.15px #333">5.56</div>
<div style="position:absolute;left:557.40px;top:739.75px;width:65.20px;height:20.57px;font:14px/20.57px 'Liberation Sans', sans-serif;color:#303030;text-align:right;white-space:nowrap;-webkit-text-stroke:0.15px #333">5.05</div>
<div style="position:absolute;left:629.60px;top:739.75px;width:64.40px;height:20.57px;font:14px/20.57px 'Liberation Sans', sans-serif;color:#303030;text-align:right;white-space:nowrap;-webkit-text-stroke:0.15px #333">5.66</div>
<div style="position:absolute;left:701.00px;top:739.75px;width:59.60px;height:20.57px;font:14px/20.57px 'Liberation Sans', sans-serif;color:#303030;text-align:right;white-space:nowrap;-webkit-text-stroke:0.15px #333">5.69</div>
<div style="position:absolute;left:842.50px;top:739.75px;width:54.50px;height:20.57px;font:14px/20.57px 'Liberation Sans', sans-serif;color:#303030;text-align:right;white-space:nowrap;-webkit-text-stroke:0.15px #333">0.94</div>
<div style="position:absolute;left:904.00px;top:739.75px;width:73.00px;height:20.57px;font:14px/20.57px 'Liberation Sans', sans-serif;color:#303030;text-align:right;white-space:nowrap;-webkit-text-stroke:0.15px #333">3.50</div>
<div style="position:absolute;left:984.00px;top:739.75px;width:100.40px;height:20.57px;font:14px/20.57px 'Liberation Sans', sans-serif;color:#303030;text-align:right;white-space:nowrap;-webkit-text-stroke:0.15px #333">1.44</div>
<div style="position:absolute;left:1091.40px;top:739.75px;width:42.60px;height:20.57px;font:14px/20.57px 'Liberation Sans', sans-serif;color:#303030;text-align:right;white-space:nowrap;-webkit-text-stroke:0.15px #333">1.44</div>
<div style="position:absolute;left:1141.00px;top:739.75px;width:66.00px;height:20.57px;font:14px/20.57px 'Liberation Sans', sans-serif;color:#303030;text-align:right;white-space:nowrap;-webkit-text-stroke:0.15px #333">1.44</div>
<div style="position:absolute;left:1214.00px;top:739.75px;width:66.60px;height:20.57px;font:14px/20.57px 'Liberation Sans', sans-serif;color:#303030;text-align:right;white-space:nowrap;-webkit-text-stroke:0.15px #333">0.50</div>
<div style="position:absolute;left:1287.60px;top:739.75px;width:66.40px;height:20.57px;font:14px/20.57px 'Liberation Sans', sans-serif;color:#303030;text-align:right;white-space:nowrap;-webkit-text-stroke:0.15px #333">8.50</div>
<div style="position:absolute;left:1361.00px;top:739.75px;width:66.00px;height:20.57px;font:14px/20.57px 'Liberation Sans', sans-serif;color:#303030;text-align:right;white-space:nowrap;-webkit-text-stroke:0.15px #333">8.00</div>
<div style="position:absolute;left:1434.00px;top:739.75px;width:66.00px;height:20.57px;font:14px/20.57px 'Liberation Sans', sans-serif;color:#303030;text-align:right;white-space:nowrap;-webkit-text-stroke:0.15px #333">0.88</div>
<div style="position:absolute;left:1507.00px;top:739.75px;width:73.00px;height:20.57px;font:14px/20.57px 'Liberation Sans', sans-serif;color:#303030;text-align:center;white-space:nowrap;-webkit-text-stroke:0.15px #333">3/4"</div>
<div style="position:absolute;left:1580.00px;top:739.75px;width:65.50px;height:20.57px;font:14px/20.57px 'Liberation Sans', sans-serif;color:#303030;text-align:right;white-space:nowrap;-webkit-text-stroke:0.15px #333">3.25</div>
<div style="position:absolute;left:1652.50px;top:739.75px;width:66.50px;height:20.57px;font:14px/20.57px 'Liberation Sans', sans-serif;color:#303030;text-align:right;white-space:nowrap;-webkit-text-stroke:0.15px #333">4.00</div>
<div style="position:absolute;left:1726.00px;top:739.75px;width:65.80px;height:20.57px;font:14px/20.57px 'Liberation Sans', sans-serif;color:#303030;text-align:right;white-space:nowrap;-webkit-text-stroke:0.15px #333">4.50</div>
<div style="position:absolute;left:112.90px;top:760.33px;width:71.40px;height:20.57px;font:bold 14px/20.57px 'Liberation Sans', sans-serif;color:#111;text-align:center;white-space:nowrap">6"</div>
<div style="position:absolute;left:184.30px;top:760.33px;width:72.70px;height:20.57px;font:14px/20.57px 'Liberation Sans', sans-serif;color:#303030;text-align:right;white-space:nowrap;-webkit-text-stroke:0.15px #333">11.00</div>
<div style="position:absolute;left:264.00px;top:760.33px;width:77.30px;height:20.57px;font:14px/20.57px 'Liberation Sans', sans-serif;color:#303030;text-align:right;white-space:nowrap;-webkit-text-stroke:0.15px #333">1.00</div>
<div style="position:absolute;left:348.30px;top:760.33px;width:63.70px;height:20.57px;font:14px/20.57px 'Liberation Sans', sans-serif;color:#303030;text-align:right;white-space:nowrap;-webkit-text-stroke:0.15px #333">7.56</div>
<div style="position:absolute;left:419.00px;top:760.33px;width:54.30px;height:20.57px;font:14px/20.57px 'Liberation Sans', sans-serif;color:#303030;text-align:right;white-space:nowrap;-webkit-text-stroke:0.15px #333">8.50</div>
<div style="position:absolute;left:480.30px;top:760.33px;width:70.10px;height:20.57px;font:14px/20.57px 'Liberation Sans', sans-serif;color:#303030;text-align:right;white-space:nowrap;-webkit-text-stroke:0.15px #333">6.63</div>
<div style="position:absolute;left:557.40px;top:760.33px;width:65.20px;height:20.57px;font:14px/20.57px 'Liberation Sans', sans-serif;color:#303030;text-align:right;white-space:nowrap;-webkit-text-stroke:0.15px #333">6.07</div>
<div style="position:absolute;left:629.60px;top:760.33px;width:64.40px;height:20.57px;font:14px/20.57px 'Liberation Sans', sans-serif;color:#303030;text-align:right;white-space:nowrap;-webkit-text-stroke:0.15px #333">6.72</div>
<div style="position:absolute;left:701.00px;top:760.33px;width:59.60px;height:20.57px;font:14px/20.57px 'Liberation Sans', sans-serif;color:#303030;text-align:right;white-space:nowrap;-webkit-text-stroke:0.15px #333">6.75</div>
<div style="position:absolute;left:842.50px;top:760.33px;width:54.50px;height:20.57px;font:14px/20.57px 'Liberation Sans', sans-serif;color:#303030;text-align:right;white-space:nowrap;-webkit-text-stroke:0.15px #333">1.06</div>
<div style="position:absolute;left:904.00px;top:760.33px;width:73.00px;height:20.57px;font:14px/20.57px 'Liberation Sans', sans-serif;color:#303030;text-align:right;white-space:nowrap;-webkit-text-stroke:0.15px #333">3.50</div>
<div style="position:absolute;left:984.00px;top:760.33px;width:100.40px;height:20.57px;font:14px/20.57px 'Liberation Sans', sans-serif;color:#303030;text-align:right;white-space:nowrap;-webkit-text-stroke:0.15px #333">1.56</div>
<div style="position:absolute;left:1091.40px;top:760.33px;width:42.60px;height:20.57px;font:14px/20.57px 'Liberation Sans', sans-serif;color:#303030;text-align:right;white-space:nowrap;-webkit-text-stroke:0.15px #333">1.56</div>
<div style="position:absolute;left:1141.00px;top:760.33px;width:66.00px;height:20.57px;font:14px/20.57px 'Liberation Sans', sans-serif;color:#303030;text-align:right;white-space:nowrap;-webkit-text-stroke:0.15px #333">1.56</div>
<div style="position:absolute;left:1214.00px;top:760.33px;width:66.60px;height:20.57px;font:14px/20.57px 'Liberation Sans', sans-serif;color:#303030;text-align:right;white-space:nowrap;-webkit-text-stroke:0.15px #333">0.50</div>
<div style="position:absolute;left:1287.60px;top:760.33px;width:66.40px;height:20.57px;font:14px/20.57px 'Liberation Sans', sans-serif;color:#303030;text-align:right;white-space:nowrap;-webkit-text-stroke:0.15px #333">9.50</div>
<div style="position:absolute;left:1361.00px;top:760.33px;width:66.00px;height:20.57px;font:14px/20.57px 'Liberation Sans', sans-serif;color:#303030;text-align:right;white-space:nowrap;-webkit-text-stroke:0.15px #333">8.00</div>
<div style="position:absolute;left:1434.00px;top:760.33px;width:66.00px;height:20.57px;font:14px/20.57px 'Liberation Sans', sans-serif;color:#303030;text-align:right;white-space:nowrap;-webkit-text-stroke:0.15px #333">0.88</div>
<div style="position:absolute;left:1507.00px;top:760.33px;width:73.00px;height:20.57px;font:14px/20.57px 'Liberation Sans', sans-serif;color:#303030;text-align:center;white-space:nowrap;-webkit-text-stroke:0.15px #333">3/4"</div>
<div style="position:absolute;left:1580.00px;top:760.33px;width:65.50px;height:20.57px;font:14px/20.57px 'Liberation Sans', sans-serif;color:#303030;text-align:right;white-space:nowrap;-webkit-text-stroke:0.15px #333">3.50</div>
<div style="position:absolute;left:1652.50px;top:760.33px;width:66.50px;height:20.57px;font:14px/20.57px 'Liberation Sans', sans-serif;color:#303030;text-align:right;white-space:nowrap;-webkit-text-stroke:0.15px #333">4.00</div>
<div style="position:absolute;left:1726.00px;top:760.33px;width:65.80px;height:20.57px;font:14px/20.57px 'Liberation Sans', sans-serif;color:#303030;text-align:right;white-space:nowrap;-webkit-text-stroke:0.15px #333">4.50</div>
<div style="position:absolute;left:112.90px;top:780.90px;width:71.40px;height:20.57px;font:bold 14px/20.57px 'Liberation Sans', sans-serif;color:#111;text-align:center;white-space:nowrap">8"</div>
<div style="position:absolute;left:184.30px;top:780.90px;width:72.70px;height:20.57px;font:14px/20.57px 'Liberation Sans', sans-serif;color:#303030;text-align:right;white-space:nowrap;-webkit-text-stroke:0.15px #333">13.50</div>
<div style="position:absolute;left:264.00px;top:780.90px;width:77.30px;height:20.57px;font:14px/20.57px 'Liberation Sans', sans-serif;color:#303030;text-align:right;white-space:nowrap;-webkit-text-stroke:0.15px #333">1.12</div>
<div style="position:absolute;left:348.30px;top:780.90px;width:63.70px;height:20.57px;font:14px/20.57px 'Liberation Sans', sans-serif;color:#303030;text-align:right;white-space:nowrap;-webkit-text-stroke:0.15px #333">9.69</div>
<div style="position:absolute;left:419.00px;top:780.90px;width:54.30px;height:20.57px;font:14px/20.57px 'Liberation Sans', sans-serif;color:#303030;text-align:right;white-space:nowrap;-webkit-text-stroke:0.15px #333">10.62</div>
<div style="position:absolute;left:480.30px;top:780.90px;width:70.10px;height:20.57px;font:14px/20.57px 'Liberation Sans', sans-serif;color:#303030;text-align:right;white-space:nowrap;-webkit-text-stroke:0.15px #333">8.63</div>
<div style="position:absolute;left:557.40px;top:780.90px;width:65.20px;height:20.57px;font:14px/20.57px 'Liberation Sans', sans-serif;color:#303030;text-align:right;white-space:nowrap;-webkit-text-stroke:0.15px #333">7.98</div>
<div style="position:absolute;left:629.60px;top:780.90px;width:64.40px;height:20.57px;font:14px/20.57px 'Liberation Sans', sans-serif;color:#303030;text-align:right;white-space:nowrap;-webkit-text-stroke:0.15px #333">8.72</div>
<div style="position:absolute;left:701.00px;top:780.90px;width:59.60px;height:20.57px;font:14px/20.57px 'Liberation Sans', sans-serif;color:#303030;text-align:right;white-space:nowrap;-webkit-text-stroke:0.15px #333">8.75</div>
<div style="position:absolute;left:842.50px;top:780.90px;width:54.50px;height:20.57px;font:14px/20.57px 'Liberation Sans', sans-serif;color:#303030;text-align:right;white-space:nowrap;-webkit-text-stroke:0.15px #333">1.25</div>
<div style="position:absolute;left:904.00px;top:780.90px;width:73.00px;height:20.57px;font:14px/20.57px 'Liberation Sans', sans-serif;color:#303030;text-align:right;white-space:nowrap;-webkit-text-stroke:0.15px #333">4.00</div>
<div style="position:absolute;left:984.00px;top:780.90px;width:100.40px;height:20.57px;font:14px/20.57px 'Liberation Sans', sans-serif;color:#303030;text-align:right;white-space:nowrap;-webkit-text-stroke:0.15px #333">1.75</div>
<div style="position:absolute;left:1091.40px;top:780.90px;width:42.60px;height:20.57px;font:14px/20.57px 'Liberation Sans', sans-serif;color:#303030;text-align:right;white-space:nowrap;-webkit-text-stroke:0.15px #333">1.75</div>
<div style="position:absolute;left:1141.00px;top:780.90px;width:66.00px;height:20.57px;font:14px/20.57px 'Liberation Sans', sans-serif;color:#303030;text-align:right;white-space:nowrap;-webkit-text-stroke:0.15px #333">1.75</div>
<div style="position:absolute;left:1214.00px;top:780.90px;width:66.60px;height:20.57px;font:14px/20.57px 'Liberation Sans', sans-serif;color:#303030;text-align:right;white-space:nowrap;-webkit-text-stroke:0.15px #333">0.50</div>
<div style="position:absolute;left:1287.60px;top:780.90px;width:66.40px;height:20.57px;font:14px/20.57px 'Liberation Sans', sans-serif;color:#303030;text-align:right;white-space:nowrap;-webkit-text-stroke:0.15px #333">11.75</div>
<div style="position:absolute;left:1361.00px;top:780.90px;width:66.00px;height:20.57px;font:14px/20.57px 'Liberation Sans', sans-serif;color:#303030;text-align:right;white-space:nowrap;-webkit-text-stroke:0.15px #333">8.00</div>
<div style="position:absolute;left:1434.00px;top:780.90px;width:66.00px;height:20.57px;font:14px/20.57px 'Liberation Sans', sans-serif;color:#303030;text-align:right;white-space:nowrap;-webkit-text-stroke:0.15px #333">0.88</div>
<div style="position:absolute;left:1507.00px;top:780.90px;width:73.00px;height:20.57px;font:14px/20.57px 'Liberation Sans', sans-serif;color:#303030;text-align:center;white-space:nowrap;-webkit-text-stroke:0.15px #333">3/4"</div>
<div style="position:absolute;left:1580.00px;top:780.90px;width:65.50px;height:20.57px;font:14px/20.57px 'Liberation Sans', sans-serif;color:#303030;text-align:right;white-space:nowrap;-webkit-text-stroke:0.15px #333">3.75</div>
<div style="position:absolute;left:1652.50px;top:780.90px;width:66.50px;height:20.57px;font:14px/20.57px 'Liberation Sans', sans-serif;color:#303030;text-align:right;white-space:nowrap;-webkit-text-stroke:0.15px #333">4.25</div>
<div style="position:absolute;left:1726.00px;top:780.90px;width:65.80px;height:20.57px;font:14px/20.57px 'Liberation Sans', sans-serif;color:#303030;text-align:right;white-space:nowrap;-webkit-text-stroke:0.15px #333">4.75</div>
<div style="position:absolute;left:112.90px;top:801.47px;width:71.40px;height:20.57px;font:bold 14px/20.57px 'Liberation Sans', sans-serif;color:#111;text-align:center;white-space:nowrap">10"</div>
<div style="position:absolute;left:184.30px;top:801.47px;width:72.70px;height:20.57px;font:14px/20.57px 'Liberation Sans', sans-serif;color:#303030;text-align:right;white-space:nowrap;-webkit-text-stroke:0.15px #333">16.00</div>
<div style="position:absolute;left:264.00px;top:801.47px;width:77.30px;height:20.57px;font:14px/20.57px 'Liberation Sans', sans-serif;color:#303030;text-align:right;white-space:nowrap;-webkit-text-stroke:0.15px #333">1.19</div>
<div style="position:absolute;left:348.30px;top:801.47px;width:63.70px;height:20.57px;font:14px/20.57px 'Liberation Sans', sans-serif;color:#303030;text-align:right;white-space:nowrap;-webkit-text-stroke:0.15px #333">12.00</div>
<div style="position:absolute;left:419.00px;top:801.47px;width:54.30px;height:20.57px;font:14px/20.57px 'Liberation Sans', sans-serif;color:#303030;text-align:right;white-space:nowrap;-webkit-text-stroke:0.15px #333">12.75</div>
<div style="position:absolute;left:480.30px;top:801.47px;width:70.10px;height:20.57px;font:14px/20.57px 'Liberation Sans', sans-serif;color:#303030;text-align:right;white-space:nowrap;-webkit-text-stroke:0.15px #333">10.75</div>
<div style="position:absolute;left:557.40px;top:801.47px;width:65.20px;height:20.57px;font:14px/20.57px 'Liberation Sans', sans-serif;color:#303030;text-align:right;white-space:nowrap;-webkit-text-stroke:0.15px #333">10.02</div>
<div style="position:absolute;left:629.60px;top:801.47px;width:64.40px;height:20.57px;font:14px/20.57px 'Liberation Sans', sans-serif;color:#303030;text-align:right;white-space:nowrap;-webkit-text-stroke:0.15px #333">10.88</div>
<div style="position:absolute;left:701.00px;top:801.47px;width:59.60px;height:20.57px;font:14px/20.57px 'Liberation Sans', sans-serif;color:#303030;text-align:right;white-space:nowrap;-webkit-text-stroke:0.15px #333">10.92</div>
<div style="position:absolute;left:842.50px;top:801.47px;width:54.50px;height:20.57px;font:14px/20.57px 'Liberation Sans', sans-serif;color:#303030;text-align:right;white-space:nowrap;-webkit-text-stroke:0.15px #333">1.31</div>
<div style="position:absolute;left:904.00px;top:801.47px;width:73.00px;height:20.57px;font:14px/20.57px 'Liberation Sans', sans-serif;color:#303030;text-align:right;white-space:nowrap;-webkit-text-stroke:0.15px #333">4.00</div>
<div style="position:absolute;left:984.00px;top:801.47px;width:100.40px;height:20.57px;font:14px/20.57px 'Liberation Sans', sans-serif;color:#303030;text-align:right;white-space:nowrap;-webkit-text-stroke:0.15px #333">1.94</div>
<div style="position:absolute;left:1091.40px;top:801.47px;width:42.60px;height:20.57px;font:14px/20.57px 'Liberation Sans', sans-serif;color:#303030;text-align:right;white-space:nowrap;-webkit-text-stroke:0.15px #333">1.94</div>
<div style="position:absolute;left:1141.00px;top:801.47px;width:66.00px;height:20.57px;font:14px/20.57px 'Liberation Sans', sans-serif;color:#303030;text-align:right;white-space:nowrap;-webkit-text-stroke:0.15px #333">1.94</div>
<div style="position:absolute;left:1214.00px;top:801.47px;width:66.60px;height:20.57px;font:14px/20.57px 'Liberation Sans', sans-serif;color:#303030;text-align:right;white-space:nowrap;-webkit-text-stroke:0.15px #333">0.50</div>
<div style="position:absolute;left:1287.60px;top:801.47px;width:66.40px;height:20.57px;font:14px/20.57px 'Liberation Sans', sans-serif;color:#303030;text-align:right;white-space:nowrap;-webkit-text-stroke:0.15px #333">14.25</div>
<div style="position:absolute;left:1361.00px;top:801.47px;width:66.00px;height:20.57px;font:14px/20.57px 'Liberation Sans', sans-serif;color:#303030;text-align:right;white-space:nowrap;-webkit-text-stroke:0.15px #333">12.00</div>
<div style="position:absolute;left:1434.00px;top:801.47px;width:66.00px;height:20.57px;font:14px/20.57px 'Liberation Sans', sans-serif;color:#303030;text-align:right;white-space:nowrap;-webkit-text-stroke:0.15px #333">1.00</div>
<div style="position:absolute;left:1507.00px;top:801.47px;width:73.00px;height:20.57px;font:14px/20.57px 'Liberation Sans', sans-serif;color:#303030;text-align:center;white-space:nowrap;-webkit-text-stroke:0.15px #333">7/8"</div>
<div style="position:absolute;left:1580.00px;top:801.47px;width:65.50px;height:20.57px;font:14px/20.57px 'Liberation Sans', sans-serif;color:#303030;text-align:right;white-space:nowrap;-webkit-text-stroke:0.15px #333">4.00</div>
<div style="position:absolute;left:1652.50px;top:801.47px;width:66.50px;height:20.57px;font:14px/20.57px 'Liberation Sans', sans-serif;color:#303030;text-align:right;white-space:nowrap;-webkit-text-stroke:0.15px #333">4.75</div>
<div style="position:absolute;left:1726.00px;top:801.47px;width:65.80px;height:20.57px;font:14px/20.57px 'Liberation Sans', sans-serif;color:#303030;text-align:right;white-space:nowrap;-webkit-text-stroke:0.15px #333">5.25</div>
<div style="position:absolute;left:112.90px;top:822.05px;width:71.40px;height:20.57px;font:bold 14px/20.57px 'Liberation Sans', sans-serif;color:#111;text-align:center;white-space:nowrap">12"</div>
<div style="position:absolute;left:184.30px;top:822.05px;width:72.70px;height:20.57px;font:14px/20.57px 'Liberation Sans', sans-serif;color:#303030;text-align:right;white-space:nowrap;-webkit-text-stroke:0.15px #333">19.00</div>
<div style="position:absolute;left:264.00px;top:822.05px;width:77.30px;height:20.57px;font:14px/20.57px 'Liberation Sans', sans-serif;color:#303030;text-align:right;white-space:nowrap;-webkit-text-stroke:0.15px #333">1.25</div>
<div style="position:absolute;left:348.30px;top:822.05px;width:63.70px;height:20.57px;font:14px/20.57px 'Liberation Sans', sans-serif;color:#303030;text-align:right;white-space:nowrap;-webkit-text-stroke:0.15px #333">14.38</div>
<div style="position:absolute;left:419.00px;top:822.05px;width:54.30px;height:20.57px;font:14px/20.57px 'Liberation Sans', sans-serif;color:#303030;text-align:right;white-space:nowrap;-webkit-text-stroke:0.15px #333">15.00</div>
<div style="position:absolute;left:480.30px;top:822.05px;width:70.10px;height:20.57px;font:14px/20.57px 'Liberation Sans', sans-serif;color:#303030;text-align:right;white-space:nowrap;-webkit-text-stroke:0.15px #333">12.75</div>
<div style="position:absolute;left:557.40px;top:822.05px;width:65.20px;height:20.57px;font:14px/20.57px 'Liberation Sans', sans-serif;color:#303030;text-align:right;white-space:nowrap;-webkit-text-stroke:0.15px #333">12.00</div>
<div style="position:absolute;left:629.60px;top:822.05px;width:64.40px;height:20.57px;font:14px/20.57px 'Liberation Sans', sans-serif;color:#303030;text-align:right;white-space:nowrap;-webkit-text-stroke:0.15px #333">12.88</div>
<div style="position:absolute;left:701.00px;top:822.05px;width:59.60px;height:20.57px;font:14px/20.57px 'Liberation Sans', sans-serif;color:#303030;text-align:right;white-space:nowrap;-webkit-text-stroke:0.15px #333">12.92</div>
<div style="position:absolute;left:842.50px;top:822.05px;width:54.50px;height:20.57px;font:14px/20.57px 'Liberation Sans', sans-serif;color:#303030;text-align:right;white-space:nowrap;-webkit-text-stroke:0.15px #333">1.56</div>
<div style="position:absolute;left:904.00px;top:822.05px;width:73.00px;height:20.57px;font:14px/20.57px 'Liberation Sans', sans-serif;color:#303030;text-align:right;white-space:nowrap;-webkit-text-stroke:0.15px #333">4.50</div>
<div style="position:absolute;left:984.00px;top:822.05px;width:100.40px;height:20.57px;font:14px/20.57px 'Liberation Sans', sans-serif;color:#303030;text-align:right;white-space:nowrap;-webkit-text-stroke:0.15px #333">2.19</div>
<div style="position:absolute;left:1091.40px;top:822.05px;width:42.60px;height:20.57px;font:14px/20.57px 'Liberation Sans', sans-serif;color:#303030;text-align:right;white-space:nowrap;-webkit-text-stroke:0.15px #333">2.19</div>
<div style="position:absolute;left:1141.00px;top:822.05px;width:66.00px;height:20.57px;font:14px/20.57px 'Liberation Sans', sans-serif;color:#303030;text-align:right;white-space:nowrap;-webkit-text-stroke:0.15px #333">2.19</div>
<div style="position:absolute;left:1214.00px;top:822.05px;width:66.60px;height:20.57px;font:14px/20.57px 'Liberation Sans', sans-serif;color:#303030;text-align:right;white-space:nowrap;-webkit-text-stroke:0.15px #333">0.50</div>
<div style="position:absolute;left:1287.60px;top:822.05px;width:66.40px;height:20.57px;font:14px/20.57px 'Liberation Sans', sans-serif;color:#303030;text-align:right;white-space:nowrap;-webkit-text-stroke:0.15px #333">17.00</div>
<div style="position:absolute;left:1361.00px;top:822.05px;width:66.00px;height:20.57px;font:14px/20.57px 'Liberation Sans', sans-serif;color:#303030;text-align:right;white-space:nowrap;-webkit-text-stroke:0.15px #333">12.00</div>
<div style="position:absolute;left:1434.00px;top:822.05px;width:66.00px;height:20.57px;font:14px/20.57px 'Liberation Sans', sans-serif;color:#303030;text-align:right;white-space:nowrap;-webkit-text-stroke:0.15px #333">1.00</div>
<div style="position:absolute;left:1507.00px;top:822.05px;width:73.00px;height:20.57px;font:14px/20.57px 'Liberation Sans', sans-serif;color:#303030;text-align:center;white-space:nowrap;-webkit-text-stroke:0.15px #333">7/8"</div>
<div style="position:absolute;left:1580.00px;top:822.05px;width:65.50px;height:20.57px;font:14px/20.57px 'Liberation Sans', sans-serif;color:#303030;text-align:right;white-space:nowrap;-webkit-text-stroke:0.15px #333">4.25</div>
<div style="position:absolute;left:1652.50px;top:822.05px;width:66.50px;height:20.57px;font:14px/20.57px 'Liberation Sans', sans-serif;color:#303030;text-align:right;white-space:nowrap;-webkit-text-stroke:0.15px #333">4.75</div>
<div style="position:absolute;left:1726.00px;top:822.05px;width:65.80px;height:20.57px;font:14px/20.57px 'Liberation Sans', sans-serif;color:#303030;text-align:right;white-space:nowrap;-webkit-text-stroke:0.15px #333">5.25</div>
<div style="position:absolute;left:112.90px;top:842.62px;width:71.40px;height:20.57px;font:bold 14px/20.57px 'Liberation Sans', sans-serif;color:#111;text-align:center;white-space:nowrap">14"</div>
<div style="position:absolute;left:184.30px;top:842.62px;width:72.70px;height:20.57px;font:14px/20.57px 'Liberation Sans', sans-serif;color:#303030;text-align:right;white-space:nowrap;-webkit-text-stroke:0.15px #333">21.00</div>
<div style="position:absolute;left:264.00px;top:842.62px;width:77.30px;height:20.57px;font:14px/20.57px 'Liberation Sans', sans-serif;color:#303030;text-align:right;white-space:nowrap;-webkit-text-stroke:0.15px #333">1.38</div>
<div style="position:absolute;left:348.30px;top:842.62px;width:63.70px;height:20.57px;font:14px/20.57px 'Liberation Sans', sans-serif;color:#303030;text-align:right;white-space:nowrap;-webkit-text-stroke:0.15px #333">15.75</div>
<div style="position:absolute;left:419.00px;top:842.62px;width:54.30px;height:20.57px;font:14px/20.57px 'Liberation Sans', sans-serif;color:#303030;text-align:right;white-space:nowrap;-webkit-text-stroke:0.15px #333">16.25</div>
<div style="position:absolute;left:480.30px;top:842.62px;width:70.10px;height:20.57px;font:14px/20.57px 'Liberation Sans', sans-serif;color:#303030;text-align:right;white-space:nowrap;-webkit-text-stroke:0.15px #333">14.00</div>
<div style="position:absolute;left:557.40px;top:842.62px;width:65.20px;height:20.57px;font:14px/20.57px 'Liberation Sans', sans-serif;color:#303030;text-align:right;white-space:nowrap;-webkit-text-stroke:0.15px #333">13.25</div>
<div style="position:absolute;left:629.60px;top:842.62px;width:64.40px;height:20.57px;font:14px/20.57px 'Liberation Sans', sans-serif;color:#303030;text-align:right;white-space:nowrap;-webkit-text-stroke:0.15px #333">14.14</div>
<div style="position:absolute;left:701.00px;top:842.62px;width:59.60px;height:20.57px;font:14px/20.57px 'Liberation Sans', sans-serif;color:#303030;text-align:right;white-space:nowrap;-webkit-text-stroke:0.15px #333">14.18</div>
<div style="position:absolute;left:842.50px;top:842.62px;width:54.50px;height:20.57px;font:14px/20.57px 'Liberation Sans', sans-serif;color:#303030;text-align:right;white-space:nowrap;-webkit-text-stroke:0.15px #333">1.63</div>
<div style="position:absolute;left:904.00px;top:842.62px;width:73.00px;height:20.57px;font:14px/20.57px 'Liberation Sans', sans-serif;color:#303030;text-align:right;white-space:nowrap;-webkit-text-stroke:0.15px #333">5.00</div>
<div style="position:absolute;left:984.00px;top:842.62px;width:100.40px;height:20.57px;font:14px/20.57px 'Liberation Sans', sans-serif;color:#303030;text-align:right;white-space:nowrap;-webkit-text-stroke:0.15px #333">2.25</div>
<div style="position:absolute;left:1091.40px;top:842.62px;width:42.60px;height:20.57px;font:14px/20.57px 'Liberation Sans', sans-serif;color:#303030;text-align:right;white-space:nowrap;-webkit-text-stroke:0.15px #333">3.12</div>
<div style="position:absolute;left:1141.00px;top:842.62px;width:66.00px;height:20.57px;font:14px/20.57px 'Liberation Sans', sans-serif;color:#303030;text-align:right;white-space:nowrap;-webkit-text-stroke:0.15px #333">2.25</div>
<div style="position:absolute;left:1214.00px;top:842.62px;width:66.60px;height:20.57px;font:14px/20.57px 'Liberation Sans', sans-serif;color:#303030;text-align:right;white-space:nowrap;-webkit-text-stroke:0.15px #333">0.50</div>
<div style="position:absolute;left:1287.60px;top:842.62px;width:66.40px;height:20.57px;font:14px/20.57px 'Liberation Sans', sans-serif;color:#303030;text-align:right;white-space:nowrap;-webkit-text-stroke:0.15px #333">18.75</div>
<div style="position:absolute;left:1361.00px;top:842.62px;width:66.00px;height:20.57px;font:14px/20.57px 'Liberation Sans', sans-serif;color:#303030;text-align:right;white-space:nowrap;-webkit-text-stroke:0.15px #333">12.00</div>
<div style="position:absolute;left:1434.00px;top:842.62px;width:66.00px;height:20.57px;font:14px/20.57px 'Liberation Sans', sans-serif;color:#303030;text-align:right;white-space:nowrap;-webkit-text-stroke:0.15px #333">1.12</div>
<div style="position:absolute;left:1507.00px;top:842.62px;width:73.00px;height:20.57px;font:14px/20.57px 'Liberation Sans', sans-serif;color:#303030;text-align:center;white-space:nowrap;-webkit-text-stroke:0.15px #333">1"</div>
<div style="position:absolute;left:1580.00px;top:842.62px;width:65.50px;height:20.57px;font:14px/20.57px 'Liberation Sans', sans-serif;color:#303030;text-align:right;white-space:nowrap;-webkit-text-stroke:0.15px #333">4.50</div>
<div style="position:absolute;left:1652.50px;top:842.62px;width:66.50px;height:20.57px;font:14px/20.57px 'Liberation Sans', sans-serif;color:#303030;text-align:right;white-space:nowrap;-webkit-text-stroke:0.15px #333">5.25</div>
<div style="position:absolute;left:1726.00px;top:842.62px;width:65.80px;height:20.57px;font:14px/20.57px 'Liberation Sans', sans-serif;color:#303030;text-align:right;white-space:nowrap;-webkit-text-stroke:0.15px #333">5.75</div>
<div style="position:absolute;left:112.90px;top:863.20px;width:71.40px;height:20.57px;font:bold 14px/20.57px 'Liberation Sans', sans-serif;color:#111;text-align:center;white-space:nowrap">16"</div>
<div style="position:absolute;left:184.30px;top:863.20px;width:72.70px;height:20.57px;font:14px/20.57px 'Liberation Sans', sans-serif;color:#303030;text-align:right;white-space:nowrap;-webkit-text-stroke:0.15px #333">23.50</div>
<div style="position:absolute;left:264.00px;top:863.20px;width:77.30px;height:20.57px;font:14px/20.57px 'Liberation Sans', sans-serif;color:#303030;text-align:right;white-space:nowrap;-webkit-text-stroke:0.15px #333">1.14</div>
<div style="position:absolute;left:348.30px;top:863.20px;width:63.70px;height:20.57px;font:14px/20.57px 'Liberation Sans', sans-serif;color:#303030;text-align:right;white-space:nowrap;-webkit-text-stroke:0.15px #333">18.00</div>
<div style="position:absolute;left:419.00px;top:863.20px;width:54.30px;height:20.57px;font:14px/20.57px 'Liberation Sans', sans-serif;color:#303030;text-align:right;white-space:nowrap;-webkit-text-stroke:0.15px #333">18.50</div>
<div style="position:absolute;left:480.30px;top:863.20px;width:70.10px;height:20.57px;font:14px/20.57px 'Liberation Sans', sans-serif;color:#303030;text-align:right;white-space:nowrap;-webkit-text-stroke:0.15px #333">16.00</div>
<div style="position:absolute;left:557.40px;top:863.20px;width:65.20px;height:20.57px;font:14px/20.57px 'Liberation Sans', sans-serif;color:#303030;text-align:right;white-space:nowrap;-webkit-text-stroke:0.15px #333">15.25</div>
<div style="position:absolute;left:629.60px;top:863.20px;width:64.40px;height:20.57px;font:14px/20.57px 'Liberation Sans', sans-serif;color:#303030;text-align:right;white-space:nowrap;-webkit-text-stroke:0.15px #333">16.16</div>
<div style="position:absolute;left:701.00px;top:863.20px;width:59.60px;height:20.57px;font:14px/20.57px 'Liberation Sans', sans-serif;color:#303030;text-align:right;white-space:nowrap;-webkit-text-stroke:0.15px #333">16.19</div>
<div style="position:absolute;left:842.50px;top:863.20px;width:54.50px;height:20.57px;font:14px/20.57px 'Liberation Sans', sans-serif;color:#303030;text-align:right;white-space:nowrap;-webkit-text-stroke:0.15px #333">1.75</div>
<div style="position:absolute;left:904.00px;top:863.20px;width:73.00px;height:20.57px;font:14px/20.57px 'Liberation Sans', sans-serif;color:#303030;text-align:right;white-space:nowrap;-webkit-text-stroke:0.15px #333">5.00</div>
<div style="position:absolute;left:984.00px;top:863.20px;width:100.40px;height:20.57px;font:14px/20.57px 'Liberation Sans', sans-serif;color:#303030;text-align:right;white-space:nowrap;-webkit-text-stroke:0.15px #333">2.50</div>
<div style="position:absolute;left:1091.40px;top:863.20px;width:42.60px;height:20.57px;font:14px/20.57px 'Liberation Sans', sans-serif;color:#303030;text-align:right;white-space:nowrap;-webkit-text-stroke:0.15px #333">3.44</div>
<div style="position:absolute;left:1141.00px;top:863.20px;width:66.00px;height:20.57px;font:14px/20.57px 'Liberation Sans', sans-serif;color:#303030;text-align:right;white-space:nowrap;-webkit-text-stroke:0.15px #333">2.50</div>
<div style="position:absolute;left:1214.00px;top:863.20px;width:66.60px;height:20.57px;font:14px/20.57px 'Liberation Sans', sans-serif;color:#303030;text-align:right;white-space:nowrap;-webkit-text-stroke:0.15px #333">0.50</div>
<div style="position:absolute;left:1287.60px;top:863.20px;width:66.40px;height:20.57px;font:14px/20.57px 'Liberation Sans', sans-serif;color:#303030;text-align:right;white-space:nowrap;-webkit-text-stroke:0.15px #333">21.25</div>
<div style="position:absolute;left:1361.00px;top:863.20px;width:66.00px;height:20.57px;font:14px/20.57px 'Liberation Sans', sans-serif;color:#303030;text-align:right;white-space:nowrap;-webkit-text-stroke:0.15px #333">16.00</div>
<div style="position:absolute;left:1434.00px;top:863.20px;width:66.00px;height:20.57px;font:14px/20.57px 'Liberation Sans', sans-serif;color:#303030;text-align:right;white-space:nowrap;-webkit-text-stroke:0.15px #333">1.12</div>
<div style="position:absolute;left:1507.00px;top:863.20px;width:73.00px;height:20.57px;font:14px/20.57px 'Liberation Sans', sans-serif;color:#303030;text-align:center;white-space:nowrap;-webkit-text-stroke:0.15px #333">1"</div>
<div style="position:absolute;left:1580.00px;top:863.20px;width:65.50px;height:20.57px;font:14px/20.57px 'Liberation Sans', sans-serif;color:#303030;text-align:right;white-space:nowrap;-webkit-text-stroke:0.15px #333">4.75</div>
<div style="position:absolute;left:1652.50px;top:863.20px;width:66.50px;height:20.57px;font:14px/20.57px 'Liberation Sans', sans-serif;color:#303030;text-align:right;white-space:nowrap;-webkit-text-stroke:0.15px #333">5.50</div>
<div style="position:absolute;left:1726.00px;top:863.20px;width:65.80px;height:20.57px;font:14px/20.57px 'Liberation Sans', sans-serif;color:#303030;text-align:right;white-space:nowrap;-webkit-text-stroke:0.15px #333">6.00</div>
<div style="position:absolute;left:112.90px;top:883.77px;width:71.40px;height:20.57px;font:bold 14px/20.57px 'Liberation Sans', sans-serif;color:#111;text-align:center;white-space:nowrap">18"</div>
<div style="position:absolute;left:184.30px;top:883.77px;width:72.70px;height:20.57px;font:14px/20.57px 'Liberation Sans', sans-serif;color:#303030;text-align:right;white-space:nowrap;-webkit-text-stroke:0.15px #333">25.00</div>
<div style="position:absolute;left:264.00px;top:883.77px;width:77.30px;height:20.57px;font:14px/20.57px 'Liberation Sans', sans-serif;color:#303030;text-align:right;white-space:nowrap;-webkit-text-stroke:0.15px #333">1.56</div>
<div style="position:absolute;left:348.30px;top:883.77px;width:63.70px;height:20.57px;font:14px/20.57px 'Liberation Sans', sans-serif;color:#303030;text-align:right;white-space:nowrap;-webkit-text-stroke:0.15px #333">19.88</div>
<div style="position:absolute;left:419.00px;top:883.77px;width:54.30px;height:20.57px;font:14px/20.57px 'Liberation Sans', sans-serif;color:#303030;text-align:right;white-space:nowrap;-webkit-text-stroke:0.15px #333">21.00</div>
<div style="position:absolute;left:480.30px;top:883.77px;width:70.10px;height:20.57px;font:14px/20.57px 'Liberation Sans', sans-serif;color:#303030;text-align:right;white-space:nowrap;-webkit-text-stroke:0.15px #333">18.00</div>
<div style="position:absolute;left:557.40px;top:883.77px;width:65.20px;height:20.57px;font:14px/20.57px 'Liberation Sans', sans-serif;color:#303030;text-align:right;white-space:nowrap;-webkit-text-stroke:0.15px #333">17.25</div>
<div style="position:absolute;left:629.60px;top:883.77px;width:64.40px;height:20.57px;font:14px/20.57px 'Liberation Sans', sans-serif;color:#303030;text-align:right;white-space:nowrap;-webkit-text-stroke:0.15px #333">18.18</div>
<div style="position:absolute;left:701.00px;top:883.77px;width:59.60px;height:20.57px;font:14px/20.57px 'Liberation Sans', sans-serif;color:#303030;text-align:right;white-space:nowrap;-webkit-text-stroke:0.15px #333">18.20</div>
<div style="position:absolute;left:842.50px;top:883.77px;width:54.50px;height:20.57px;font:14px/20.57px 'Liberation Sans', sans-serif;color:#303030;text-align:right;white-space:nowrap;-webkit-text-stroke:0.15px #333">1.94</div>
<div style="position:absolute;left:904.00px;top:883.77px;width:73.00px;height:20.57px;font:14px/20.57px 'Liberation Sans', sans-serif;color:#303030;text-align:right;white-space:nowrap;-webkit-text-stroke:0.15px #333">5.50</div>
<div style="position:absolute;left:984.00px;top:883.77px;width:100.40px;height:20.57px;font:14px/20.57px 'Liberation Sans', sans-serif;color:#303030;text-align:right;white-space:nowrap;-webkit-text-stroke:0.15px #333">2.69</div>
<div style="position:absolute;left:1091.40px;top:883.77px;width:42.60px;height:20.57px;font:14px/20.57px 'Liberation Sans', sans-serif;color:#303030;text-align:right;white-space:nowrap;-webkit-text-stroke:0.15px #333">3.81</div>
<div style="position:absolute;left:1141.00px;top:883.77px;width:66.00px;height:20.57px;font:14px/20.57px 'Liberation Sans', sans-serif;color:#303030;text-align:right;white-space:nowrap;-webkit-text-stroke:0.15px #333">2.69</div>
<div style="position:absolute;left:1214.00px;top:883.77px;width:66.60px;height:20.57px;font:14px/20.57px 'Liberation Sans', sans-serif;color:#303030;text-align:right;white-space:nowrap;-webkit-text-stroke:0.15px #333">0.50</div>
<div style="position:absolute;left:1287.60px;top:883.77px;width:66.40px;height:20.57px;font:14px/20.57px 'Liberation Sans', sans-serif;color:#303030;text-align:right;white-space:nowrap;-webkit-text-stroke:0.15px #333">22.75</div>
<div style="position:absolute;left:1361.00px;top:883.77px;width:66.00px;height:20.57px;font:14px/20.57px 'Liberation Sans', sans-serif;color:#303030;text-align:right;white-space:nowrap;-webkit-text-stroke:0.15px #333">16.00</div>
<div style="position:absolute;left:1434.00px;top:883.77px;width:66.00px;height:20.57px;font:14px/20.57px 'Liberation Sans', sans-serif;color:#303030;text-align:right;white-space:nowrap;-webkit-text-stroke:0.15px #333">1.25</div>
<div style="position:absolute;left:1507.00px;top:883.77px;width:73.00px;height:20.57px;font:14px/20.57px 'Liberation Sans', sans-serif;color:#303030;text-align:center;white-space:nowrap;-webkit-text-stroke:0.15px #333">1-1/8"</div>
<div style="position:absolute;left:1580.00px;top:883.77px;width:65.50px;height:20.57px;font:14px/20.57px 'Liberation Sans', sans-serif;color:#303030;text-align:right;white-space:nowrap;-webkit-text-stroke:0.15px #333">5.00</div>
<div style="position:absolute;left:1652.50px;top:883.77px;width:66.50px;height:20.57px;font:14px/20.57px 'Liberation Sans', sans-serif;color:#303030;text-align:right;white-space:nowrap;-webkit-text-stroke:0.15px #333">6.00</div>
<div style="position:absolute;left:1726.00px;top:883.77px;width:65.80px;height:20.57px;font:14px/20.57px 'Liberation Sans', sans-serif;color:#303030;text-align:right;white-space:nowrap;-webkit-text-stroke:0.15px #333">6.50</div>
<div style="position:absolute;left:112.90px;top:904.35px;width:71.40px;height:20.57px;font:bold 14px/20.57px 'Liberation Sans', sans-serif;color:#111;text-align:center;white-space:nowrap">20"</div>
<div style="position:absolute;left:184.30px;top:904.35px;width:72.70px;height:20.57px;font:14px/20.57px 'Liberation Sans', sans-serif;color:#303030;text-align:right;white-space:nowrap;-webkit-text-stroke:0.15px #333">27.50</div>
<div style="position:absolute;left:264.00px;top:904.35px;width:77.30px;height:20.57px;font:14px/20.57px 'Liberation Sans', sans-serif;color:#303030;text-align:right;white-space:nowrap;-webkit-text-stroke:0.15px #333">1.69</div>
<div style="position:absolute;left:348.30px;top:904.35px;width:63.70px;height:20.57px;font:14px/20.57px 'Liberation Sans', sans-serif;color:#303030;text-align:right;white-space:nowrap;-webkit-text-stroke:0.15px #333">22.00</div>
<div style="position:absolute;left:419.00px;top:904.35px;width:54.30px;height:20.57px;font:14px/20.57px 'Liberation Sans', sans-serif;color:#303030;text-align:right;white-space:nowrap;-webkit-text-stroke:0.15px #333">23.00</div>
<div style="position:absolute;left:480.30px;top:904.35px;width:70.10px;height:20.57px;font:14px/20.57px 'Liberation Sans', sans-serif;color:#303030;text-align:right;white-space:nowrap;-webkit-text-stroke:0.15px #333">20.00</div>
<div style="position:absolute;left:557.40px;top:904.35px;width:65.20px;height:20.57px;font:14px/20.57px 'Liberation Sans', sans-serif;color:#303030;text-align:right;white-space:nowrap;-webkit-text-stroke:0.15px #333">19.25</div>
<div style="position:absolute;left:629.60px;top:904.35px;width:64.40px;height:20.57px;font:14px/20.57px 'Liberation Sans', sans-serif;color:#303030;text-align:right;white-space:nowrap;-webkit-text-stroke:0.15px #333">20.20</div>
<div style="position:absolute;left:701.00px;top:904.35px;width:59.60px;height:20.57px;font:14px/20.57px 'Liberation Sans', sans-serif;color:#303030;text-align:right;white-space:nowrap;-webkit-text-stroke:0.15px #333">20.25</div>
<div style="position:absolute;left:842.50px;top:904.35px;width:54.50px;height:20.57px;font:14px/20.57px 'Liberation Sans', sans-serif;color:#303030;text-align:right;white-space:nowrap;-webkit-text-stroke:0.15px #333">2.12</div>
<div style="position:absolute;left:904.00px;top:904.35px;width:73.00px;height:20.57px;font:14px/20.57px 'Liberation Sans', sans-serif;color:#303030;text-align:right;white-space:nowrap;-webkit-text-stroke:0.15px #333">5.69</div>
<div style="position:absolute;left:984.00px;top:904.35px;width:100.40px;height:20.57px;font:14px/20.57px 'Liberation Sans', sans-serif;color:#303030;text-align:right;white-space:nowrap;-webkit-text-stroke:0.15px #333">2.88</div>
<div style="position:absolute;left:1091.40px;top:904.35px;width:42.60px;height:20.57px;font:14px/20.57px 'Liberation Sans', sans-serif;color:#303030;text-align:right;white-space:nowrap;-webkit-text-stroke:0.15px #333">4.06</div>
<div style="position:absolute;left:1141.00px;top:904.35px;width:66.00px;height:20.57px;font:14px/20.57px 'Liberation Sans', sans-serif;color:#303030;text-align:right;white-space:nowrap;-webkit-text-stroke:0.15px #333">2.88</div>
<div style="position:absolute;left:1214.00px;top:904.35px;width:66.60px;height:20.57px;font:14px/20.57px 'Liberation Sans', sans-serif;color:#303030;text-align:right;white-space:nowrap;-webkit-text-stroke:0.15px #333">0.50</div>
<div style="position:absolute;left:1287.60px;top:904.35px;width:66.40px;height:20.57px;font:14px/20.57px 'Liberation Sans', sans-serif;color:#303030;text-align:right;white-space:nowrap;-webkit-text-stroke:0.15px #333">25.00</div>
<div style="position:absolute;left:1361.00px;top:904.35px;width:66.00px;height:20.57px;font:14px/20.57px 'Liberation Sans', sans-serif;color:#303030;text-align:right;white-space:nowrap;-webkit-text-stroke:0.15px #333">20.00</div>
<div style="position:absolute;left:1434.00px;top:904.35px;width:66.00px;height:20.57px;font:14px/20.57px 'Liberation Sans', sans-serif;color:#303030;text-align:right;white-space:nowrap;-webkit-text-stroke:0.15px #333">1.25</div>
<div style="position:absolute;left:1507.00px;top:904.35px;width:73.00px;height:20.57px;font:14px/20.57px 'Liberation Sans', sans-serif;color:#303030;text-align:center;white-space:nowrap;-webkit-text-stroke:0.15px #333">1-1/8"</div>
<div style="position:absolute;left:1580.00px;top:904.35px;width:65.50px;height:20.57px;font:14px/20.57px 'Liberation Sans', sans-serif;color:#303030;text-align:right;white-space:nowrap;-webkit-text-stroke:0.15px #333">5.50</div>
<div style="position:absolute;left:1652.50px;top:904.35px;width:66.50px;height:20.57px;font:14px/20.57px 'Liberation Sans', sans-serif;color:#303030;text-align:right;white-space:nowrap;-webkit-text-stroke:0.15px #333">6.25</div>
<div style="position:absolute;left:1726.00px;top:904.35px;width:65.80px;height:20.57px;font:14px/20.57px 'Liberation Sans', sans-serif;color:#303030;text-align:right;white-space:nowrap;-webkit-text-stroke:0.15px #333">6.75</div>
<div style="position:absolute;left:112.90px;top:924.92px;width:71.40px;height:20.57px;font:bold 14px/20.57px 'Liberation Sans', sans-serif;color:#111;text-align:center;white-space:nowrap">24"</div>
<div style="position:absolute;left:184.30px;top:924.92px;width:72.70px;height:20.57px;font:14px/20.57px 'Liberation Sans', sans-serif;color:#303030;text-align:right;white-space:nowrap;-webkit-text-stroke:0.15px #333">32.00</div>
<div style="position:absolute;left:264.00px;top:924.92px;width:77.30px;height:20.57px;font:14px/20.57px 'Liberation Sans', sans-serif;color:#303030;text-align:right;white-space:nowrap;-webkit-text-stroke:0.15px #333">1.88</div>
<div style="position:absolute;left:348.30px;top:924.92px;width:63.70px;height:20.57px;font:14px/20.57px 'Liberation Sans', sans-serif;color:#303030;text-align:right;white-space:nowrap;-webkit-text-stroke:0.15px #333">26.12</div>
<div style="position:absolute;left:419.00px;top:924.92px;width:54.30px;height:20.57px;font:14px/20.57px 'Liberation Sans', sans-serif;color:#303030;text-align:right;white-space:nowrap;-webkit-text-stroke:0.15px #333">27.25</div>
<div style="position:absolute;left:480.30px;top:924.92px;width:70.10px;height:20.57px;font:14px/20.57px 'Liberation Sans', sans-serif;color:#303030;text-align:right;white-space:nowrap;-webkit-text-stroke:0.15px #333">24.00</div>
<div style="position:absolute;left:557.40px;top:924.92px;width:65.20px;height:20.57px;font:14px/20.57px 'Liberation Sans', sans-serif;color:#303030;text-align:right;white-space:nowrap;-webkit-text-stroke:0.15px #333">23.25</div>
<div style="position:absolute;left:629.60px;top:924.92px;width:64.40px;height:20.57px;font:14px/20.57px 'Liberation Sans', sans-serif;color:#303030;text-align:right;white-space:nowrap;-webkit-text-stroke:0.15px #333">24.25</div>
<div style="position:absolute;left:701.00px;top:924.92px;width:59.60px;height:20.57px;font:14px/20.57px 'Liberation Sans', sans-serif;color:#303030;text-align:right;white-space:nowrap;-webkit-text-stroke:0.15px #333">24.25</div>
<div style="position:absolute;left:842.50px;top:924.92px;width:54.50px;height:20.57px;font:14px/20.57px 'Liberation Sans', sans-serif;color:#303030;text-align:right;white-space:nowrap;-webkit-text-stroke:0.15px #333">2.50</div>
<div style="position:absolute;left:904.00px;top:924.92px;width:73.00px;height:20.57px;font:14px/20.57px 'Liberation Sans', sans-serif;color:#303030;text-align:right;white-space:nowrap;-webkit-text-stroke:0.15px #333">6.00</div>
<div style="position:absolute;left:984.00px;top:924.92px;width:100.40px;height:20.57px;font:14px/20.57px 'Liberation Sans', sans-serif;color:#303030;text-align:right;white-space:nowrap;-webkit-text-stroke:0.15px #333">3.25</div>
<div style="position:absolute;left:1091.40px;top:924.92px;width:42.60px;height:20.57px;font:14px/20.57px 'Liberation Sans', sans-serif;color:#303030;text-align:right;white-space:nowrap;-webkit-text-stroke:0.15px #333">4.38</div>
<div style="position:absolute;left:1141.00px;top:924.92px;width:66.00px;height:20.57px;font:14px/20.57px 'Liberation Sans', sans-serif;color:#303030;text-align:right;white-space:nowrap;-webkit-text-stroke:0.15px #333">3.25</div>
<div style="position:absolute;left:1214.00px;top:924.92px;width:66.60px;height:20.57px;font:14px/20.57px 'Liberation Sans', sans-serif;color:#303030;text-align:right;white-space:nowrap;-webkit-text-stroke:0.15px #333">0.50</div>
<div style="position:absolute;left:1287.60px;top:924.92px;width:66.40px;height:20.57px;font:14px/20.57px 'Liberation Sans', sans-serif;color:#303030;text-align:right;white-space:nowrap;-webkit-text-stroke:0.15px #333">29.50</div>
<div style="position:absolute;left:1361.00px;top:924.92px;width:66.00px;height:20.57px;font:14px/20.57px 'Liberation Sans', sans-serif;color:#303030;text-align:right;white-space:nowrap;-webkit-text-stroke:0.15px #333">20.00</div>
<div style="position:absolute;left:1434.00px;top:924.92px;width:66.00px;height:20.57px;font:14px/20.57px 'Liberation Sans', sans-serif;color:#303030;text-align:right;white-space:nowrap;-webkit-text-stroke:0.15px #333">1.38</div>
<div style="position:absolute;left:1507.00px;top:924.92px;width:73.00px;height:20.57px;font:14px/20.57px 'Liberation Sans', sans-serif;color:#303030;text-align:center;white-space:nowrap;-webkit-text-stroke:0.15px #333">1-1/4"</div>
<div style="position:absolute;left:1580.00px;top:924.92px;width:65.50px;height:20.57px;font:14px/20.57px 'Liberation Sans', sans-serif;color:#303030;text-align:right;white-space:nowrap;-webkit-text-stroke:0.15px #333">6.00</div>
<div style="position:absolute;left:1652.50px;top:924.92px;width:66.50px;height:20.57px;font:14px/20.57px 'Liberation Sans', sans-serif;color:#303030;text-align:right;white-space:nowrap;-webkit-text-stroke:0.15px #333">7.00</div>
<div style="position:absolute;left:1726.00px;top:924.92px;width:65.80px;height:20.57px;font:14px/20.57px 'Liberation Sans', sans-serif;color:#303030;text-align:right;white-space:nowrap;-webkit-text-stroke:0.15px #333">7.50</div>
<div style="position:absolute;left:188px;top:967px;font:bold 16.65px/25.4px 'Liberation Sans', sans-serif;color:#1c1c1c;white-space:nowrap">150# Raised Face (RF) Flanges<br><span style="letter-spacing:1px">304/304L &amp; 316/316L</span><br><span style="letter-spacing:0.65px">A182 / SA182</span><br><span style="letter-spacing:0.2px">ANSI B16.5</span></div>
<svg width="1920" height="340" viewBox="0 0 1920 340" style="position:absolute;left:0;top:0">
<defs>
<pattern id="hat" patternUnits="userSpaceOnUse" width="2.6" height="2.6" patternTransform="rotate(45)">
<rect width="2.6" height="2.6" fill="#e6f2ee"/><line x1="0.4" y1="0" x2="0.4" y2="2.6" stroke="#b4ccc3" stroke-width="0.8"/>
</pattern>
<pattern id="hatm" patternUnits="userSpaceOnUse" width="2.6" height="2.6" patternTransform="rotate(-45)">
<rect width="2.6" height="2.6" fill="#e6f2ee"/><line x1="0.4" y1="0" x2="0.4" y2="2.6" stroke="#b4ccc3" stroke-width="0.8"/>
</pattern></defs>
<g transform="translate(584.80,0) scale(-1,1)"><polygon points="147.8,47.2 161.0,47.2 161.0,73.6 147.8,73.6" fill="url(#hatm)" stroke="none" stroke-width="1.2"/><path d="M184,47.2 L202.5,47.2 Q207.5,47.2 207.5,42.2 L207.5,38.5 Q207.5,37 209,37 L219.3,37 L219.3,64 L228.3,64 L228.3,73.6 L184,73.6 Z" fill="url(#hatm)" stroke="none"/><line x1="161.0" y1="47.2" x2="161.0" y2="73.6" stroke="#767676" stroke-width="1.5" /><line x1="184.0" y1="47.2" x2="184.0" y2="73.6" stroke="#767676" stroke-width="1.5" /><line x1="172.5" y1="43.0" x2="172.5" y2="78.0" stroke="#dcb0b8" stroke-width="1.0" /><path d="M147.8,73.6 L147.8,47.2 L202.5,47.2 Q207.5,47.2 207.5,42.2 L207.5,38.5 Q207.5,37 209,37 L292.4,37" fill="none" stroke="#767676" stroke-width="1.5"/><polyline points="292.4,64.0 228.3,64.0 228.3,73.6" fill="none" stroke="#767676" stroke-width="1.5"/><line x1="219.3" y1="37.0" x2="219.3" y2="64.0" stroke="#767676" stroke-width="1.5" /><line x1="219.3" y1="64.0" x2="228.3" y2="64.0" stroke="#767676" stroke-width="1.5" /><line x1="147.8" y1="73.6" x2="292.4" y2="73.6" stroke="#767676" stroke-width="1.5" /><line x1="195.7" y1="74.1" x2="228.3" y2="74.1" stroke="#767676" stroke-width="1.2" /><line x1="147.8" y1="73.6" x2="147.8" y2="134.0" stroke="#8f8f8f" stroke-width="1.2" /><line x1="195.7" y1="77.0" x2="195.7" y2="116.0" stroke="#8f8f8f" stroke-width="1.2" /><line x1="228.3" y1="77.0" x2="228.3" y2="98.0" stroke="#8f8f8f" stroke-width="1.2" /><line x1="207.5" y1="5.0" x2="207.5" y2="37.0" stroke="#8f8f8f" stroke-width="1.2" /><line x1="219.3" y1="22.0" x2="219.3" y2="37.0" stroke="#8f8f8f" stroke-width="1.2" /></g>
<polygon points="147.8,47.2 161.0,47.2 161.0,73.6 147.8,73.6" fill="url(#hat)" stroke="none" stroke-width="1.2"/><path d="M184,47.2 L202.5,47.2 Q207.5,47.2 207.5,42.2 L207.5,38.5 Q207.5,37 209,37 L219.3,37 L219.3,64 L228.3,64 L228.3,73.6 L184,73.6 Z" fill="url(#hat)" stroke="none"/><line x1="161.0" y1="47.2" x2="161.0" y2="73.6" stroke="#767676" stroke-width="1.5" /><line x1="184.0" y1="47.2" x2="184.0" y2="73.6" stroke="#767676" stroke-width="1.5" /><line x1="172.5" y1="43.0" x2="172.5" y2="78.0" stroke="#dcb0b8" stroke-width="1.0" /><path d="M147.8,73.6 L147.8,47.2 L202.5,47.2 Q207.5,47.2 207.5,42.2 L207.5,38.5 Q207.5,37 209,37 L292.4,37" fill="none" stroke="#767676" stroke-width="1.5"/><polyline points="292.4,64.0 228.3,64.0 228.3,73.6" fill="none" stroke="#767676" stroke-width="1.5"/><line x1="219.3" y1="37.0" x2="219.3" y2="64.0" stroke="#767676" stroke-width="1.5" /><line x1="219.3" y1="64.0" x2="228.3" y2="64.0" stroke="#767676" stroke-width="1.5" /><line x1="147.8" y1="73.6" x2="292.4" y2="73.6" stroke="#767676" stroke-width="1.5" /><line x1="195.7" y1="74.1" x2="228.3" y2="74.1" stroke="#767676" stroke-width="1.2" /><line x1="147.8" y1="73.6" x2="147.8" y2="134.0" stroke="#8f8f8f" stroke-width="1.2" /><line x1="195.7" y1="77.0" x2="195.7" y2="116.0" stroke="#8f8f8f" stroke-width="1.2" /><line x1="228.3" y1="77.0" x2="228.3" y2="98.0" stroke="#8f8f8f" stroke-width="1.2" /><line x1="207.5" y1="5.0" x2="207.5" y2="37.0" stroke="#8f8f8f" stroke-width="1.2" /><line x1="219.3" y1="22.0" x2="219.3" y2="37.0" stroke="#8f8f8f" stroke-width="1.2" />
<line x1="292.4" y1="30.0" x2="292.4" y2="80.0" stroke="#dcb0b8" stroke-width="1.0" stroke-dasharray="14,2,2,2"/>
<line x1="207.5" y1="7.6" x2="377.3" y2="7.6" stroke="#8f8f8f" stroke-width="1.6" /><polygon points="207.5,7.6 213.5,5.6 213.5,9.6" fill="#2a2a2a"/><polygon points="377.3,7.6 371.3,5.6 371.3,9.6" fill="#2a2a2a"/>
<line x1="219.3" y1="25.0" x2="365.5" y2="25.0" stroke="#8f8f8f" stroke-width="1.6" /><polygon points="219.3,25.0 225.3,23.0 225.3,27.0" fill="#2a2a2a"/><polygon points="365.5,25.0 359.5,23.0 359.5,27.0" fill="#2a2a2a"/>
<line x1="228.3" y1="95.8" x2="356.5" y2="95.8" stroke="#8f8f8f" stroke-width="1.6" /><polygon points="228.3,95.8 234.3,93.8 234.3,97.8" fill="#2a2a2a"/><polygon points="356.5,95.8 350.5,93.8 350.5,97.8" fill="#2a2a2a"/>
<line x1="195.7" y1="113.9" x2="389.1" y2="113.9" stroke="#8f8f8f" stroke-width="1.6" /><polygon points="195.7,113.9 201.7,111.9 201.7,115.9" fill="#2a2a2a"/><polygon points="389.1,113.9 383.1,111.9 383.1,115.9" fill="#2a2a2a"/>
<line x1="147.8" y1="131.3" x2="437.0" y2="131.3" stroke="#8f8f8f" stroke-width="1.6" /><polygon points="147.8,131.3 153.8,129.3 153.8,133.3" fill="#2a2a2a"/><polygon points="437.0,131.3 431.0,129.3 431.0,133.3" fill="#2a2a2a"/>
<line x1="130.0" y1="47.2" x2="147.8" y2="47.2" stroke="#8f8f8f" stroke-width="1.2" />
<line x1="130.0" y1="73.6" x2="147.8" y2="73.6" stroke="#8f8f8f" stroke-width="1.2" />
<line x1="136.0" y1="47.2" x2="136.0" y2="73.6" stroke="#8f8f8f" stroke-width="1.5" /><polygon points="136.0,47.2 134.0,53.2 138.0,53.2" fill="#2a2a2a"/><polygon points="136.0,73.6 134.0,67.6 138.0,67.6" fill="#2a2a2a"/>
<line x1="260.3" y1="37.0" x2="260.3" y2="64.0" stroke="#8f8f8f" stroke-width="1.5" /><polygon points="260.3,37.0 258.3,43.0 262.3,43.0" fill="#2a2a2a"/><polygon points="260.3,64.0 258.3,58.0 262.3,58.0" fill="#2a2a2a"/>
<line x1="375.8" y1="37.0" x2="484.0" y2="37.0" stroke="#8f8f8f" stroke-width="1.2" />
<line x1="437.0" y1="73.6" x2="486.0" y2="73.6" stroke="#8f8f8f" stroke-width="1.2" />
<line x1="478.0" y1="37.0" x2="478.0" y2="73.6" stroke="#8f8f8f" stroke-width="1.5" /><polygon points="478.0,37.0 476.0,43.0 480.0,43.0" fill="#2a2a2a"/><polygon points="478.0,73.6 476.0,67.6 480.0,67.6" fill="#2a2a2a"/>
<line x1="458.0" y1="57.0" x2="458.0" y2="100.0" stroke="#8f8f8f" stroke-width="1.2" /><polygon points="458.0,73.6 456.0,67.6 460.0,67.6" fill="#2a2a2a"/><polygon points="458.0,75.5 456.0,81.5 460.0,81.5" fill="#2a2a2a"/>
<text x="292.4" y="7.0" font-family="Liberation Serif, serif" font-weight="bold" font-size="13" fill="#333333" text-anchor="middle">X</text>
<text x="292.4" y="24.0" font-family="Liberation Serif, serif" font-weight="bold" font-size="13" fill="#333333" text-anchor="middle">B2</text>
<text x="292.4" y="94.0" font-family="Liberation Serif, serif" font-weight="bold" font-size="13" fill="#333333" text-anchor="middle">B1</text>
<text x="292.4" y="112.5" font-family="Liberation Serif, serif" font-weight="bold" font-size="13" fill="#333333" text-anchor="middle">F</text>
<text x="292.4" y="130.0" font-family="Liberation Serif, serif" font-weight="bold" font-size="12" fill="#333333" text-anchor="middle">O.D.</text>
<text x="131.0" y="60.0" font-family="Liberation Serif, serif" font-weight="bold" font-size="13" fill="#333333" text-anchor="middle" transform="rotate(-90 131.0 60.0)">Q</text>
<text x="257.0" y="50.5" font-family="Liberation Serif, serif" font-weight="bold" font-size="13" fill="#333333" text-anchor="middle" transform="rotate(-90 257.0 50.5)">D</text>
<text x="478.0" y="57.0" font-family="Liberation Serif, serif" font-weight="bold" font-size="13" fill="#333333" text-anchor="middle" transform="rotate(-90 478.0 57.0)">Y</text>
<text x="455.0" y="90.0" font-family="Liberation Serif, serif" font-weight="bold" font-size="11" fill="#333333" text-anchor="middle" transform="rotate(-90 455.0 90.0)">1/16"</text>
<line x1="152.0" y1="147.0" x2="152.0" y2="153.0" stroke="#333" stroke-width="1.5" />
<g transform="translate(1348.60,0) scale(-1,1)"><polygon points="527.8,41.6 539.0,41.6 539.0,68.0 527.8,68.0" fill="url(#hatm)" stroke="none" stroke-width="1.2"/><path d="M564,41.6 L582,41.6 Q587,41.6 587,36.6 L587,32.2 Q587,30.7 588.5,30.7 L611,30.7 L611.0,30.7 L607.5,33.4 L612.5,36.1 L607.5,38.8 L612.5,41.5 L607.5,44.2 L612.5,46.9 L607.5,49.6 L612.5,52.3 L607.5,55.0 L612.5,57.7 L607.5,60.4 L612.5,63.1 L607.5,65.8 L612.5,68.0 L611,68 L564,68 Z" fill="url(#hatm)" stroke="none"/><line x1="539.0" y1="41.6" x2="539.0" y2="68.0" stroke="#767676" stroke-width="1.5" /><line x1="564.0" y1="41.6" x2="564.0" y2="68.0" stroke="#767676" stroke-width="1.5" /><line x1="551.6" y1="38.0" x2="551.6" y2="72.0" stroke="#dcb0b8" stroke-width="1.0" /><path d="M527.8,68 L527.8,41.6 L582,41.6 Q587,41.6 587,36.6 L587,32.2 Q587,30.7 588.5,30.7 L674.3,30.7" fill="none" stroke="#767676" stroke-width="1.5"/><polyline points="611.0,30.7 607.5,33.4 612.5,36.1 607.5,38.8 612.5,41.5 607.5,44.2 612.5,46.9 607.5,49.6 612.5,52.3 607.5,55.0 612.5,57.7 607.5,60.4 612.5,63.1 607.5,65.8 612.5,68.0" fill="none" stroke="#767676" stroke-width="1.3"/><line x1="527.8" y1="68.0" x2="674.3" y2="68.0" stroke="#767676" stroke-width="1.5" /><line x1="527.8" y1="68.0" x2="527.8" y2="112.0" stroke="#8f8f8f" stroke-width="1.2" /><line x1="576.9" y1="71.0" x2="576.9" y2="94.0" stroke="#8f8f8f" stroke-width="1.2" /><line x1="587.0" y1="15.0" x2="587.0" y2="31.0" stroke="#8f8f8f" stroke-width="1.2" /></g>
<polygon points="527.8,41.6 539.0,41.6 539.0,68.0 527.8,68.0" fill="url(#hat)" stroke="none" stroke-width="1.2"/><path d="M564,41.6 L582,41.6 Q587,41.6 587,36.6 L587,32.2 Q587,30.7 588.5,30.7 L611,30.7 L611.0,30.7 L607.5,33.4 L612.5,36.1 L607.5,38.8 L612.5,41.5 L607.5,44.2 L612.5,46.9 L607.5,49.6 L612.5,52.3 L607.5,55.0 L612.5,57.7 L607.5,60.4 L612.5,63.1 L607.5,65.8 L612.5,68.0 L611,68 L564,68 Z" fill="url(#hat)" stroke="none"/><line x1="539.0" y1="41.6" x2="539.0" y2="68.0" stroke="#767676" stroke-width="1.5" /><line x1="564.0" y1="41.6" x2="564.0" y2="68.0" stroke="#767676" stroke-width="1.5" /><line x1="551.6" y1="38.0" x2="551.6" y2="72.0" stroke="#dcb0b8" stroke-width="1.0" /><path d="M527.8,68 L527.8,41.6 L582,41.6 Q587,41.6 587,36.6 L587,32.2 Q587,30.7 588.5,30.7 L674.3,30.7" fill="none" stroke="#767676" stroke-width="1.5"/><polyline points="611.0,30.7 607.5,33.4 612.5,36.1 607.5,38.8 612.5,41.5 607.5,44.2 612.5,46.9 607.5,49.6 612.5,52.3 607.5,55.0 612.5,57.7 607.5,60.4 612.5,63.1 607.5,65.8 612.5,68.0" fill="none" stroke="#767676" stroke-width="1.3"/><line x1="527.8" y1="68.0" x2="674.3" y2="68.0" stroke="#767676" stroke-width="1.5" /><line x1="527.8" y1="68.0" x2="527.8" y2="112.0" stroke="#8f8f8f" stroke-width="1.2" /><line x1="576.9" y1="71.0" x2="576.9" y2="94.0" stroke="#8f8f8f" stroke-width="1.2" /><line x1="587.0" y1="15.0" x2="587.0" y2="31.0" stroke="#8f8f8f" stroke-width="1.2" />
<line x1="674.3" y1="24.0" x2="674.3" y2="74.0" stroke="#dcb0b8" stroke-width="1.0" stroke-dasharray="14,2,2,2"/>
<line x1="587.0" y1="18.0" x2="761.6" y2="18.0" stroke="#8f8f8f" stroke-width="1.6" /><polygon points="587.0,18.0 593.0,16.0 593.0,20.0" fill="#2a2a2a"/><polygon points="761.6,18.0 755.6,16.0 755.6,20.0" fill="#2a2a2a"/>
<line x1="576.9" y1="91.0" x2="771.7" y2="91.0" stroke="#8f8f8f" stroke-width="1.6" /><polygon points="576.9,91.0 582.9,89.0 582.9,93.0" fill="#2a2a2a"/><polygon points="771.7,91.0 765.7,89.0 765.7,93.0" fill="#2a2a2a"/>
<line x1="527.8" y1="109.0" x2="820.8" y2="109.0" stroke="#8f8f8f" stroke-width="1.6" /><polygon points="527.8,109.0 533.8,107.0 533.8,111.0" fill="#2a2a2a"/><polygon points="820.8,109.0 814.8,107.0 814.8,111.0" fill="#2a2a2a"/>
<line x1="506.0" y1="41.6" x2="527.8" y2="41.6" stroke="#8f8f8f" stroke-width="1.2" />
<line x1="506.0" y1="68.0" x2="527.8" y2="68.0" stroke="#8f8f8f" stroke-width="1.2" />
<line x1="512.4" y1="41.6" x2="512.4" y2="68.0" stroke="#8f8f8f" stroke-width="1.5" /><polygon points="512.4,41.6 510.4,47.6 514.4,47.6" fill="#2a2a2a"/><polygon points="512.4,68.0 510.4,62.0 514.4,62.0" fill="#2a2a2a"/>
<line x1="760.1" y1="30.7" x2="846.0" y2="30.7" stroke="#8f8f8f" stroke-width="1.2" />
<line x1="820.8" y1="68.0" x2="864.0" y2="68.0" stroke="#8f8f8f" stroke-width="1.2" />
<line x1="841.7" y1="30.7" x2="841.7" y2="68.0" stroke="#8f8f8f" stroke-width="1.5" /><polygon points="841.7,30.7 839.7,36.7 843.7,36.7" fill="#2a2a2a"/><polygon points="841.7,68.0 839.7,62.0 843.7,62.0" fill="#2a2a2a"/>
<line x1="859.0" y1="52.0" x2="859.0" y2="97.0" stroke="#8f8f8f" stroke-width="1.2" /><polygon points="859.0,68.0 857.0,62.0 861.0,62.0" fill="#2a2a2a"/><polygon points="859.0,70.0 857.0,76.0 861.0,76.0" fill="#2a2a2a"/>
<text x="674.3" y="16.0" font-family="Liberation Serif, serif" font-weight="bold" font-size="13" fill="#333333" text-anchor="middle">X</text>
<text x="674.3" y="88.5" font-family="Liberation Serif, serif" font-weight="bold" font-size="13" fill="#333333" text-anchor="middle">F</text>
<text x="674.3" y="106.5" font-family="Liberation Serif, serif" font-weight="bold" font-size="12" fill="#333333" text-anchor="middle">O.D</text>
<text x="508.0" y="55.0" font-family="Liberation Serif, serif" font-weight="bold" font-size="13" fill="#333333" text-anchor="middle" transform="rotate(-90 508.0 55.0)">Q</text>
<text x="837.0" y="49.0" font-family="Liberation Serif, serif" font-weight="bold" font-size="13" fill="#333333" text-anchor="middle" transform="rotate(-90 837.0 49.0)">Y</text>
<text x="855.0" y="89.0" font-family="Liberation Serif, serif" font-weight="bold" font-size="11" fill="#333333" text-anchor="middle" transform="rotate(-90 855.0 89.0)">1/16"</text>
<g transform="translate(570.50,0) scale(-1,1)"><polygon points="157.2,273.3 168.0,273.3 168.0,299.3 157.2,299.3" fill="url(#hatm)" stroke="none" stroke-width="1.2"/><polygon points="189.0,273.3 205.0,273.3 209.0,268.0 223.9,219.6 228.5,219.6 228.5,299.3 189.0,299.3" fill="url(#hatm)" stroke="none" stroke-width="1.2"/><line x1="168.0" y1="273.3" x2="168.0" y2="299.3" stroke="#767676" stroke-width="1.5" /><line x1="189.0" y1="273.3" x2="189.0" y2="299.3" stroke="#767676" stroke-width="1.5" /><line x1="178.0" y1="270.0" x2="178.0" y2="303.0" stroke="#dcb0b8" stroke-width="1.0" /><polyline points="157.2,299.3 157.2,273.3 205.0,273.3 209.0,268.0 223.9,219.6 285.2,219.6" fill="none" stroke="#767676" stroke-width="1.5"/><line x1="228.5" y1="219.6" x2="228.5" y2="299.3" stroke="#767676" stroke-width="1.5" /><line x1="157.2" y1="299.3" x2="285.2" y2="299.3" stroke="#767676" stroke-width="1.5" /><line x1="157.2" y1="299.3" x2="157.2" y2="332.0" stroke="#8f8f8f" stroke-width="1.2" /><line x1="198.5" y1="302.0" x2="198.5" y2="318.0" stroke="#8f8f8f" stroke-width="1.2" /><line x1="209.0" y1="158.0" x2="209.0" y2="268.0" stroke="#8f8f8f" stroke-width="1.2" /><line x1="221.0" y1="172.0" x2="221.0" y2="222.0" stroke="#8f8f8f" stroke-width="1.2" /><line x1="228.5" y1="187.0" x2="228.5" y2="219.6" stroke="#8f8f8f" stroke-width="1.2" /></g>
<polygon points="157.2,273.3 168.0,273.3 168.0,299.3 157.2,299.3" fill="url(#hat)" stroke="none" stroke-width="1.2"/><polygon points="189.0,273.3 205.0,273.3 209.0,268.0 223.9,219.6 228.5,219.6 228.5,299.3 189.0,299.3" fill="url(#hat)" stroke="none" stroke-width="1.2"/><line x1="168.0" y1="273.3" x2="168.0" y2="299.3" stroke="#767676" stroke-width="1.5" /><line x1="189.0" y1="273.3" x2="189.0" y2="299.3" stroke="#767676" stroke-width="1.5" /><line x1="178.0" y1="270.0" x2="178.0" y2="303.0" stroke="#dcb0b8" stroke-width="1.0" /><polyline points="157.2,299.3 157.2,273.3 205.0,273.3 209.0,268.0 223.9,219.6 285.2,219.6" fill="none" stroke="#767676" stroke-width="1.5"/><line x1="228.5" y1="219.6" x2="228.5" y2="299.3" stroke="#767676" stroke-width="1.5" /><line x1="157.2" y1="299.3" x2="285.2" y2="299.3" stroke="#767676" stroke-width="1.5" /><line x1="157.2" y1="299.3" x2="157.2" y2="332.0" stroke="#8f8f8f" stroke-width="1.2" /><line x1="198.5" y1="302.0" x2="198.5" y2="318.0" stroke="#8f8f8f" stroke-width="1.2" /><line x1="209.0" y1="158.0" x2="209.0" y2="268.0" stroke="#8f8f8f" stroke-width="1.2" /><line x1="221.0" y1="172.0" x2="221.0" y2="222.0" stroke="#8f8f8f" stroke-width="1.2" /><line x1="228.5" y1="187.0" x2="228.5" y2="219.6" stroke="#8f8f8f" stroke-width="1.2" />
<line x1="285.2" y1="213.0" x2="285.2" y2="310.0" stroke="#dcb0b8" stroke-width="1.0" stroke-dasharray="14,2,2,2"/>
<line x1="209.0" y1="161.3" x2="361.5" y2="161.3" stroke="#8f8f8f" stroke-width="1.6" /><polygon points="209.0,161.3 215.0,159.3 215.0,163.3" fill="#2a2a2a"/><polygon points="361.5,161.3 355.5,159.3 355.5,163.3" fill="#2a2a2a"/>
<line x1="221.0" y1="174.8" x2="349.5" y2="174.8" stroke="#8f8f8f" stroke-width="1.6" /><polygon points="221.0,174.8 227.0,172.8 227.0,176.8" fill="#2a2a2a"/><polygon points="349.5,174.8 343.5,172.8 343.5,176.8" fill="#2a2a2a"/>
<line x1="228.5" y1="190.0" x2="342.0" y2="190.0" stroke="#8f8f8f" stroke-width="1.6" /><polygon points="228.5,190.0 234.5,188.0 234.5,192.0" fill="#2a2a2a"/><polygon points="342.0,190.0 336.0,188.0 336.0,192.0" fill="#2a2a2a"/>
<line x1="198.5" y1="315.0" x2="372.0" y2="315.0" stroke="#8f8f8f" stroke-width="1.6" /><polygon points="198.5,315.0 204.5,313.0 204.5,317.0" fill="#2a2a2a"/><polygon points="372.0,315.0 366.0,313.0 366.0,317.0" fill="#2a2a2a"/>
<line x1="157.2" y1="329.8" x2="413.3" y2="329.8" stroke="#8f8f8f" stroke-width="1.6" /><polygon points="157.2,329.8 163.2,327.8 163.2,331.8" fill="#2a2a2a"/><polygon points="413.3,329.8 407.3,327.8 407.3,331.8" fill="#2a2a2a"/>
<line x1="214.0" y1="210.0" x2="256.0" y2="210.0" stroke="#8f8f8f" stroke-width="1.2" /><polygon points="221.0,210.0 215.0,208.0 215.0,212.0" fill="#2a2a2a"/><polygon points="228.5,210.0 234.5,208.0 234.5,212.0" fill="#2a2a2a"/>
<line x1="127.0" y1="273.3" x2="157.2" y2="273.3" stroke="#8f8f8f" stroke-width="1.2" />
<line x1="127.0" y1="299.3" x2="157.2" y2="299.3" stroke="#8f8f8f" stroke-width="1.2" />
<line x1="133.0" y1="273.3" x2="133.0" y2="299.3" stroke="#8f8f8f" stroke-width="1.5" /><polygon points="133.0,273.3 131.0,279.3 135.0,279.3" fill="#2a2a2a"/><polygon points="133.0,299.3 131.0,293.3 135.0,293.3" fill="#2a2a2a"/>
<line x1="342.0" y1="219.6" x2="453.0" y2="219.6" stroke="#8f8f8f" stroke-width="1.2" />
<line x1="413.3" y1="299.3" x2="455.0" y2="299.3" stroke="#8f8f8f" stroke-width="1.2" />
<line x1="448.5" y1="219.6" x2="448.5" y2="299.3" stroke="#8f8f8f" stroke-width="1.5" /><polygon points="448.5,219.6 446.5,225.6 450.5,225.6" fill="#2a2a2a"/><polygon points="448.5,299.3 446.5,293.3 450.5,293.3" fill="#2a2a2a"/>
<line x1="431.9" y1="285.0" x2="431.9" y2="331.0" stroke="#8f8f8f" stroke-width="1.2" /><polygon points="431.9,299.3 429.9,293.3 433.9,293.3" fill="#2a2a2a"/><polygon points="431.9,302.0 429.9,308.0 433.9,308.0" fill="#2a2a2a"/>
<line x1="344.0" y1="219.6" x2="370.0" y2="240.0" stroke="#555" stroke-width="1.2" /><line x1="380.0" y1="222.0" x2="372.0" y2="246.0" stroke="#777" stroke-width="1.1" /><polygon points="380.0,222.0 378.0,228.0 382.0,228.0" fill="#2a2a2a"/><polygon points="372.0,246.0 370.0,240.0 374.0,240.0" fill="#2a2a2a"/>
<text x="285.2" y="160.0" font-family="Liberation Serif, serif" font-weight="bold" font-size="13" fill="#333333" text-anchor="middle">X</text>
<text x="285.2" y="174.0" font-family="Liberation Serif, serif" font-weight="bold" font-size="13" fill="#333333" text-anchor="middle">H</text>
<text x="285.2" y="189.0" font-family="Liberation Serif, serif" font-weight="bold" font-size="13" fill="#333333" text-anchor="middle">B1</text>
<text x="285.2" y="314.5" font-family="Liberation Serif, serif" font-weight="bold" font-size="13" fill="#333333" text-anchor="middle">F</text>
<text x="285.2" y="329.0" font-family="Liberation Serif, serif" font-weight="bold" font-size="12" fill="#333333" text-anchor="middle">O.D</text>
<text x="242.0" y="206.5" font-family="Liberation Serif, serif" font-weight="bold" font-size="11" fill="#333333" text-anchor="middle">1/16"</text>
<text x="127.0" y="286.0" font-family="Liberation Serif, serif" font-weight="bold" font-size="13" fill="#333333" text-anchor="middle" transform="rotate(-90 127.0 286.0)">Q</text>
<text x="444.0" y="263.0" font-family="Liberation Serif, serif" font-weight="bold" font-size="13" fill="#333333" text-anchor="middle" transform="rotate(-90 444.0 263.0)">Y</text>
<text x="428.0" y="319.0" font-family="Liberation Serif, serif" font-weight="bold" font-size="11" fill="#333333" text-anchor="middle" transform="rotate(-90 428.0 319.0)">1/16"</text>
<text x="376.0" y="234.0" font-family="Liberation Serif, serif" font-weight="bold" font-size="10" fill="#333333" text-anchor="middle" transform="rotate(-62 376.0 234.0)">37.5°</text>
<line x1="152.0" y1="147.0" x2="152.0" y2="153.0" stroke="#333" stroke-width="1.5" />
<g transform="translate(1413.40,0) scale(-1,1)"><polygon points="560.6,250.9 573.0,250.9 573.0,277.2 560.6,277.2" fill="url(#hatm)" stroke="none" stroke-width="1.2"/><path d="M598,250.9 L613,250.9 Q620,250.9 620,243.9 L620,241.7 Q620,240 621.7,240 L641.7,240 L641.7,269 Q641.7,277.2 633.5,277.2 L598,277.2 Z" fill="url(#hatm)" stroke="none"/><line x1="573.0" y1="250.9" x2="573.0" y2="277.2" stroke="#767676" stroke-width="1.5" /><line x1="598.0" y1="250.9" x2="598.0" y2="277.2" stroke="#767676" stroke-width="1.5" /><line x1="584.0" y1="247.0" x2="584.0" y2="283.0" stroke="#dcb0b8" stroke-width="1.0" /><path d="M560.6,277.2 L560.6,250.9 L613,250.9 Q620,250.9 620,243.9 L620,241.7 Q620,240 621.7,240 L706.7,240" fill="none" stroke="#767676" stroke-width="1.5"/><path d="M641.7,240 L641.7,269 Q641.7,277.2 633.5,277.2" fill="none" stroke="#767676" stroke-width="1.5"/><line x1="560.6" y1="277.2" x2="706.7" y2="277.2" stroke="#767676" stroke-width="1.5" /><line x1="560.6" y1="277.2" x2="560.6" y2="304.0" stroke="#8f8f8f" stroke-width="1.2" /><line x1="620.0" y1="207.0" x2="620.0" y2="240.0" stroke="#8f8f8f" stroke-width="1.2" /><line x1="641.7" y1="225.0" x2="641.7" y2="240.0" stroke="#8f8f8f" stroke-width="1.2" /></g>
<polygon points="560.6,250.9 573.0,250.9 573.0,277.2 560.6,277.2" fill="url(#hat)" stroke="none" stroke-width="1.2"/><path d="M598,250.9 L613,250.9 Q620,250.9 620,243.9 L620,241.7 Q620,240 621.7,240 L641.7,240 L641.7,269 Q641.7,277.2 633.5,277.2 L598,277.2 Z" fill="url(#hat)" stroke="none"/><line x1="573.0" y1="250.9" x2="573.0" y2="277.2" stroke="#767676" stroke-width="1.5" /><line x1="598.0" y1="250.9" x2="598.0" y2="277.2" stroke="#767676" stroke-width="1.5" /><line x1="584.0" y1="247.0" x2="584.0" y2="283.0" stroke="#dcb0b8" stroke-width="1.0" /><path d="M560.6,277.2 L560.6,250.9 L613,250.9 Q620,250.9 620,243.9 L620,241.7 Q620,240 621.7,240 L706.7,240" fill="none" stroke="#767676" stroke-width="1.5"/><path d="M641.7,240 L641.7,269 Q641.7,277.2 633.5,277.2" fill="none" stroke="#767676" stroke-width="1.5"/><line x1="560.6" y1="277.2" x2="706.7" y2="277.2" stroke="#767676" stroke-width="1.5" /><line x1="560.6" y1="277.2" x2="560.6" y2="304.0" stroke="#8f8f8f" stroke-width="1.2" /><line x1="620.0" y1="207.0" x2="620.0" y2="240.0" stroke="#8f8f8f" stroke-width="1.2" /><line x1="641.7" y1="225.0" x2="641.7" y2="240.0" stroke="#8f8f8f" stroke-width="1.2" />
<line x1="706.7" y1="234.0" x2="706.7" y2="284.0" stroke="#dcb0b8" stroke-width="1.0" stroke-dasharray="14,2,2,2"/>
<line x1="620.0" y1="211.1" x2="793.4" y2="211.1" stroke="#8f8f8f" stroke-width="1.6" /><polygon points="620.0,211.1 626.0,209.1 626.0,213.1" fill="#2a2a2a"/><polygon points="793.4,211.1 787.4,209.1 787.4,213.1" fill="#2a2a2a"/>
<line x1="641.7" y1="228.3" x2="771.7" y2="228.3" stroke="#8f8f8f" stroke-width="1.6" /><polygon points="641.7,228.3 647.7,226.3 647.7,230.3" fill="#2a2a2a"/><polygon points="771.7,228.3 765.7,226.3 765.7,230.3" fill="#2a2a2a"/>
<line x1="560.6" y1="301.7" x2="852.8" y2="301.7" stroke="#8f8f8f" stroke-width="1.6" /><polygon points="560.6,301.7 566.6,299.7 566.6,303.7" fill="#2a2a2a"/><polygon points="852.8,301.7 846.8,299.7 846.8,303.7" fill="#2a2a2a"/>
<line x1="543.0" y1="250.9" x2="560.6" y2="250.9" stroke="#8f8f8f" stroke-width="1.2" />
<line x1="543.0" y1="277.2" x2="560.6" y2="277.2" stroke="#8f8f8f" stroke-width="1.2" />
<line x1="546.0" y1="250.9" x2="546.0" y2="277.2" stroke="#8f8f8f" stroke-width="1.5" /><polygon points="546.0,250.9 544.0,256.9 548.0,256.9" fill="#2a2a2a"/><polygon points="546.0,277.2 544.0,271.2 548.0,271.2" fill="#2a2a2a"/>
<line x1="771.7" y1="240.0" x2="884.0" y2="240.0" stroke="#8f8f8f" stroke-width="1.2" />
<line x1="852.8" y1="277.2" x2="884.0" y2="277.2" stroke="#8f8f8f" stroke-width="1.2" />
<line x1="879.4" y1="240.0" x2="879.4" y2="277.2" stroke="#8f8f8f" stroke-width="1.5" /><polygon points="879.4,240.0 877.4,246.0 881.4,246.0" fill="#2a2a2a"/><polygon points="879.4,277.2 877.4,271.2 881.4,271.2" fill="#2a2a2a"/>
<line x1="620.0" y1="256.0" x2="637.0" y2="273.0" stroke="#333" stroke-width="1.6" />
<text x="706.7" y="209.5" font-family="Liberation Serif, serif" font-weight="bold" font-size="13" fill="#333333" text-anchor="middle">X</text>
<text x="706.7" y="227.0" font-family="Liberation Serif, serif" font-weight="bold" font-size="13" fill="#333333" text-anchor="middle">B3</text>
<text x="706.7" y="300.0" font-family="Liberation Serif, serif" font-weight="bold" font-size="12" fill="#333333" text-anchor="middle">O.D.</text>
<text x="541.0" y="264.0" font-family="Liberation Serif, serif" font-weight="bold" font-size="13" fill="#333333" text-anchor="middle" transform="rotate(-90 541.0 264.0)">Q</text>
<text x="628.0" y="263.0" font-family="Liberation Serif, serif" font-weight="bold" font-size="12" fill="#333333" text-anchor="middle" transform="rotate(45 628.0 263.0)">R</text>
<text x="875.0" y="260.0" font-family="Liberation Serif, serif" font-weight="bold" font-size="13" fill="#333333" text-anchor="middle" transform="rotate(-90 875.0 260.0)">Y</text>
<polygon points="1014.5,233.0 1027.0,233.0 1027.0,258.7 1014.5,258.7" fill="url(#hat)" stroke="none" stroke-width="1.2"/>
<polygon points="1050.0,233.0 1255.0,233.0 1255.0,258.7 1245.0,258.7 1245.0,260.5 1060.0,260.5 1060.0,258.7 1050.0,258.7" fill="url(#hat)" stroke="none" stroke-width="1.2"/>
<polygon points="1279.0,233.0 1290.8,233.0 1290.8,258.7 1279.0,258.7" fill="url(#hat)" stroke="none" stroke-width="1.2"/>
<line x1="1027.0" y1="233.0" x2="1027.0" y2="258.7" stroke="#767676" stroke-width="1.5" />
<line x1="1050.0" y1="233.0" x2="1050.0" y2="258.7" stroke="#767676" stroke-width="1.5" />
<line x1="1255.0" y1="233.0" x2="1255.0" y2="258.7" stroke="#767676" stroke-width="1.5" />
<line x1="1279.0" y1="233.0" x2="1279.0" y2="258.7" stroke="#767676" stroke-width="1.5" />
<line x1="1038.0" y1="228.0" x2="1038.0" y2="262.0" stroke="#dcb0b8" stroke-width="1.0" />
<line x1="1268.0" y1="228.0" x2="1268.0" y2="262.0" stroke="#dcb0b8" stroke-width="1.0" />
<polyline points="1014.5,258.7 1014.5,233.0 1290.8,233.0 1290.8,258.7 1245.0,258.7 1245.0,260.5 1060.0,260.5 1060.0,258.7 1014.5,258.7" fill="none" stroke="#767676" stroke-width="1.5"/>
<line x1="1152.7" y1="228.0" x2="1152.7" y2="265.0" stroke="#dcb0b8" stroke-width="1.0" stroke-dasharray="14,2,2,2"/>
<line x1="1061.0" y1="264.0" x2="1061.0" y2="285.0" stroke="#8f8f8f" stroke-width="1.2" />
<line x1="1245.0" y1="264.0" x2="1245.0" y2="285.0" stroke="#8f8f8f" stroke-width="1.2" />
<line x1="1061.0" y1="282.6" x2="1245.0" y2="282.6" stroke="#8f8f8f" stroke-width="1.6" /><polygon points="1061.0,282.6 1067.0,280.6 1067.0,284.6" fill="#2a2a2a"/><polygon points="1245.0,282.6 1239.0,280.6 1239.0,284.6" fill="#2a2a2a"/>
<line x1="1014.5" y1="258.7" x2="1014.5" y2="305.0" stroke="#8f8f8f" stroke-width="1.2" />
<line x1="1290.8" y1="258.7" x2="1290.8" y2="305.0" stroke="#8f8f8f" stroke-width="1.2" />
<line x1="1014.5" y1="302.0" x2="1290.8" y2="302.0" stroke="#8f8f8f" stroke-width="1.6" /><polygon points="1014.5,302.0 1020.5,300.0 1020.5,304.0" fill="#2a2a2a"/><polygon points="1290.8,302.0 1284.8,300.0 1284.8,304.0" fill="#2a2a2a"/>
<line x1="995.0" y1="233.0" x2="1014.5" y2="233.0" stroke="#8f8f8f" stroke-width="1.2" />
<line x1="995.0" y1="258.7" x2="1014.5" y2="258.7" stroke="#8f8f8f" stroke-width="1.2" />
<line x1="1000.4" y1="233.0" x2="1000.4" y2="258.7" stroke="#8f8f8f" stroke-width="1.5" /><polygon points="1000.4,233.0 998.4,239.0 1002.4,239.0" fill="#2a2a2a"/><polygon points="1000.4,258.7 998.4,252.7 1002.4,252.7" fill="#2a2a2a"/>
<line x1="1290.8" y1="258.7" x2="1316.0" y2="258.7" stroke="#8f8f8f" stroke-width="1.2" />
<line x1="1311.0" y1="243.0" x2="1311.0" y2="290.0" stroke="#8f8f8f" stroke-width="1.2" /><polygon points="1311.0,258.7 1309.0,252.7 1313.0,252.7" fill="#2a2a2a"/><polygon points="1311.0,261.0 1309.0,267.0 1313.0,267.0" fill="#2a2a2a"/>
<text x="1152.7" y="282.0" font-family="Liberation Serif, serif" font-weight="bold" font-size="13" fill="#333333" text-anchor="middle">F</text>
<text x="1152.7" y="300.0" font-family="Liberation Serif, serif" font-weight="bold" font-size="12" fill="#333333" text-anchor="middle">O.D</text>
<text x="994.0" y="247.0" font-family="Liberation Serif, serif" font-weight="bold" font-size="13" fill="#333333" text-anchor="middle" transform="rotate(-90 994.0 247.0)">Q</text>
<text x="1305.0" y="277.0" font-family="Liberation Serif, serif" font-weight="bold" font-size="11" fill="#333333" text-anchor="middle" transform="rotate(-90 1305.0 277.0)">1/16"</text>
<g transform="translate(3180.80,0) scale(-1,1)"><polygon points="1446.6,242.0 1458.0,242.0 1458.0,269.2 1446.6,269.2" fill="url(#hatm)" stroke="none" stroke-width="1.2"/><path d="M1483,242 L1500,242 Q1505,242 1505,237 L1505,233.3 Q1505,231.8 1506.5,231.8 L1526.5,231.8 L1526.5,269.2 L1483,269.2 Z" fill="url(#hatm)" stroke="none"/><line x1="1458.0" y1="242.0" x2="1458.0" y2="269.2" stroke="#767676" stroke-width="1.5" /><line x1="1483.0" y1="242.0" x2="1483.0" y2="269.2" stroke="#767676" stroke-width="1.5" /><line x1="1471.0" y1="238.0" x2="1471.0" y2="273.0" stroke="#dcb0b8" stroke-width="1.0" /><path d="M1446.6,269.2 L1446.6,242 L1500,242 Q1505,242 1505,237 L1505,233.3 Q1505,231.8 1506.5,231.8 L1590.4,231.8" fill="none" stroke="#767676" stroke-width="1.5"/><line x1="1526.5" y1="231.8" x2="1526.5" y2="269.2" stroke="#767676" stroke-width="1.5" /><line x1="1446.6" y1="269.2" x2="1590.4" y2="269.2" stroke="#767676" stroke-width="1.5" /><line x1="1446.6" y1="269.2" x2="1446.6" y2="314.0" stroke="#8f8f8f" stroke-width="1.2" /><line x1="1493.2" y1="272.0" x2="1493.2" y2="295.0" stroke="#8f8f8f" stroke-width="1.2" /><line x1="1505.0" y1="199.0" x2="1505.0" y2="231.8" stroke="#8f8f8f" stroke-width="1.2" /><line x1="1526.5" y1="216.0" x2="1526.5" y2="231.8" stroke="#8f8f8f" stroke-width="1.2" /></g>
<polygon points="1446.6,242.0 1458.0,242.0 1458.0,269.2 1446.6,269.2" fill="url(#hat)" stroke="none" stroke-width="1.2"/><path d="M1483,242 L1500,242 Q1505,242 1505,237 L1505,233.3 Q1505,231.8 1506.5,231.8 L1526.5,231.8 L1526.5,269.2 L1483,269.2 Z" fill="url(#hat)" stroke="none"/><line x1="1458.0" y1="242.0" x2="1458.0" y2="269.2" stroke="#767676" stroke-width="1.5" /><line x1="1483.0" y1="242.0" x2="1483.0" y2="269.2" stroke="#767676" stroke-width="1.5" /><line x1="1471.0" y1="238.0" x2="1471.0" y2="273.0" stroke="#dcb0b8" stroke-width="1.0" /><path d="M1446.6,269.2 L1446.6,242 L1500,242 Q1505,242 1505,237 L1505,233.3 Q1505,231.8 1506.5,231.8 L1590.4,231.8" fill="none" stroke="#767676" stroke-width="1.5"/><line x1="1526.5" y1="231.8" x2="1526.5" y2="269.2" stroke="#767676" stroke-width="1.5" /><line x1="1446.6" y1="269.2" x2="1590.4" y2="269.2" stroke="#767676" stroke-width="1.5" /><line x1="1446.6" y1="269.2" x2="1446.6" y2="314.0" stroke="#8f8f8f" stroke-width="1.2" /><line x1="1493.2" y1="272.0" x2="1493.2" y2="295.0" stroke="#8f8f8f" stroke-width="1.2" /><line x1="1505.0" y1="199.0" x2="1505.0" y2="231.8" stroke="#8f8f8f" stroke-width="1.2" /><line x1="1526.5" y1="216.0" x2="1526.5" y2="231.8" stroke="#8f8f8f" stroke-width="1.2" />
<line x1="1590.4" y1="226.0" x2="1590.4" y2="277.0" stroke="#dcb0b8" stroke-width="1.0" stroke-dasharray="14,2,2,2"/>
<line x1="1505.0" y1="202.7" x2="1675.8" y2="202.7" stroke="#8f8f8f" stroke-width="1.6" /><polygon points="1505.0,202.7 1511.0,200.7 1511.0,204.7" fill="#2a2a2a"/><polygon points="1675.8,202.7 1669.8,200.7 1669.8,204.7" fill="#2a2a2a"/>
<line x1="1526.5" y1="219.5" x2="1654.3" y2="219.5" stroke="#8f8f8f" stroke-width="1.6" /><polygon points="1526.5,219.5 1532.5,217.5 1532.5,221.5" fill="#2a2a2a"/><polygon points="1654.3,219.5 1648.3,217.5 1648.3,221.5" fill="#2a2a2a"/>
<line x1="1493.2" y1="292.8" x2="1687.6" y2="292.8" stroke="#8f8f8f" stroke-width="1.6" /><polygon points="1493.2,292.8 1499.2,290.8 1499.2,294.8" fill="#2a2a2a"/><polygon points="1687.6,292.8 1681.6,290.8 1681.6,294.8" fill="#2a2a2a"/>
<line x1="1446.6" y1="311.0" x2="1734.2" y2="311.0" stroke="#8f8f8f" stroke-width="1.6" /><polygon points="1446.6,311.0 1452.6,309.0 1452.6,313.0" fill="#2a2a2a"/><polygon points="1734.2,311.0 1728.2,309.0 1728.2,313.0" fill="#2a2a2a"/>
<line x1="1426.0" y1="242.0" x2="1446.6" y2="242.0" stroke="#8f8f8f" stroke-width="1.2" />
<line x1="1426.0" y1="269.2" x2="1446.6" y2="269.2" stroke="#8f8f8f" stroke-width="1.2" />
<line x1="1430.4" y1="242.0" x2="1430.4" y2="269.2" stroke="#8f8f8f" stroke-width="1.5" /><polygon points="1430.4,242.0 1428.4,248.0 1432.4,248.0" fill="#2a2a2a"/><polygon points="1430.4,269.2 1428.4,263.2 1432.4,263.2" fill="#2a2a2a"/>
<line x1="1674.3" y1="231.8" x2="1781.0" y2="231.8" stroke="#8f8f8f" stroke-width="1.2" />
<line x1="1734.2" y1="269.2" x2="1781.0" y2="269.2" stroke="#8f8f8f" stroke-width="1.2" />
<line x1="1776.7" y1="231.8" x2="1776.7" y2="269.2" stroke="#8f8f8f" stroke-width="1.5" /><polygon points="1776.7,231.8 1774.7,237.8 1778.7,237.8" fill="#2a2a2a"/><polygon points="1776.7,269.2 1774.7,263.2 1778.7,263.2" fill="#2a2a2a"/>
<line x1="1756.5" y1="255.0" x2="1756.5" y2="300.0" stroke="#8f8f8f" stroke-width="1.2" /><polygon points="1756.5,269.2 1754.5,263.2 1758.5,263.2" fill="#2a2a2a"/><polygon points="1756.5,271.0 1754.5,277.0 1758.5,277.0" fill="#2a2a2a"/>
<text x="1590.4" y="201.0" font-family="Liberation Serif, serif" font-weight="bold" font-size="13" fill="#333333" text-anchor="middle">X</text>
<text x="1590.4" y="218.5" font-family="Liberation Serif, serif" font-weight="bold" font-size="13" fill="#333333" text-anchor="middle">B2</text>
<text x="1590.4" y="291.0" font-family="Liberation Serif, serif" font-weight="bold" font-size="13" fill="#333333" text-anchor="middle">F</text>
<text x="1590.4" y="308.5" font-family="Liberation Serif, serif" font-weight="bold" font-size="12" fill="#333333" text-anchor="middle">O.D.</text>
<text x="1425.0" y="256.0" font-family="Liberation Serif, serif" font-weight="bold" font-size="13" fill="#333333" text-anchor="middle" transform="rotate(-90 1425.0 256.0)">Q</text>
<text x="1772.0" y="250.0" font-family="Liberation Serif, serif" font-weight="bold" font-size="13" fill="#333333" text-anchor="middle" transform="rotate(-90 1772.0 250.0)">Y</text>
<text x="1752.0" y="286.0" font-family="Liberation Serif, serif" font-weight="bold" font-size="11" fill="#333333" text-anchor="middle" transform="rotate(-90 1752.0 286.0)">1/16"</text>
<line x1="1782.0" y1="308.0" x2="1782.0" y2="314.0" stroke="#333" stroke-width="1.5" />
<line x1="960.0" y1="3.6" x2="1790.0" y2="3.6" stroke="#eef0f3" stroke-width="3.5" />
<path d="M914.40,104.00a73.60,73.60 0 1,0 147.20,0a73.60,73.60 0 1,0 -147.20,0ZM921.60,107.90a64.90,64.90 0 1,0 129.80,0a64.90,64.90 0 1,0 -129.80,0Z" fill="#0b7ac0" fill-rule="evenodd"/>
<circle cx="987.3" cy="106.3" r="55.2" fill="#0b7ac0"/>
<circle cx="1002.4" cy="81.2" r="30.7" fill="#ffffff"/>
<path d="M1081.80,65.1L1118.45,65.1A27.85,27.85 0 0,1 1118.45,120.8L1102.90,120.8L1102.90,152L1081.80,152ZM1102.90,83.50L1114.80,83.50A9.8,9.8 0 0,1 1114.80,103.10L1102.90,103.10Z" fill="#0b7ac0" fill-rule="evenodd"/>
<path d="M1195.00,65.1L1231.65,65.1A27.85,27.85 0 0,1 1231.65,120.8L1216.10,120.8L1216.10,152L1195.00,152ZM1216.10,83.50L1228.00,83.50A9.8,9.8 0 0,1 1228.00,103.10L1216.10,103.10Z" fill="#0b7ac0" fill-rule="evenodd"/>
<rect x="1160" y="65.4" width="21.3" height="86.6" fill="#0b7ac0"/>
<rect x="1273.2" y="65.4" width="21.3" height="86.6" fill="#0b7ac0"/>
<polygon points="1507.1,65.6 1529.7,65.6 1563.3,116.1 1563.3,65.6 1584,65.6 1584,152 1561.9,152 1528.1,101 1528.1,152 1507.1,152" fill="#0b7ac0"/>
<polygon points="1308.5,65.6 1331.1,65.6 1364.7,116.1 1364.7,65.6 1385.4,65.6 1385.4,152.0 1363.3,152.0 1329.5,101.0 1329.5,152.0 1308.5,152.0" fill="#0b7ac0"/>
<path d="M1400.50,108.75a46.00,46.00 0 1,0 92.00,0a46.00,46.00 0 1,0 -92.00,0ZM1420.70,108.90a26.20,26.20 0 1,0 52.40,0a26.20,26.20 0 1,0 -52.40,0Z" fill="#0b7ac0" fill-rule="evenodd"/>
<polygon points="1457,100 1495,67.9 1495,100" fill="#ffffff"/>
<rect x="1445" y="100" width="47.5" height="18" fill="#0b7ac0"/>
<path d="M1599.50,108.80a46.50,46.50 0 1,0 93.00,0a46.50,46.50 0 1,0 -93.00,0ZM1620.00,109.00a26.00,26.00 0 1,0 52.00,0a26.00,26.00 0 1,0 -52.00,0Z" fill="#0b7ac0" fill-rule="evenodd"/>
<polygon points="1697.6,65.2 1720.0,65.2 1737.4,105.9 1748.0,79.4 1743.0,65.2 1764.3,65.2 1781.6,105.9 1797.9,65.2 1819.3,65.2 1785.2,154.8 1780.1,154.8 1759.2,105.9 1739.4,154.8 1734.8,154.8" fill="#0b7ac0"/>
</svg>
</body></html>
